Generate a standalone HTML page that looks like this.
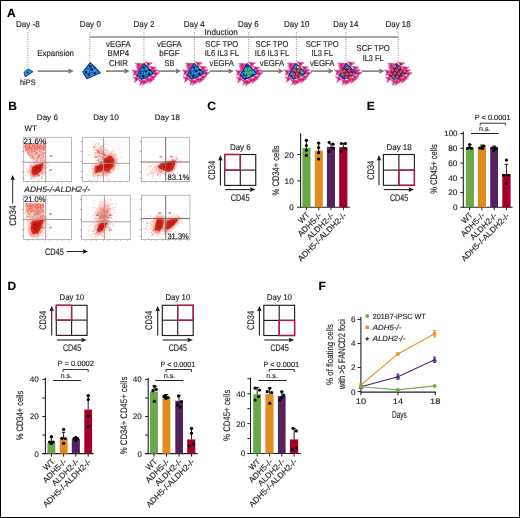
<!DOCTYPE html>
<html><head><meta charset="utf-8"><style>
html,body{margin:0;padding:0;background:#fff;}
#f{position:relative;width:520px;height:518px;box-sizing:border-box;border:1px solid #000;background:#fff;overflow:hidden;}
svg{position:absolute;left:-1px;top:-1px;will-change:transform;}
text{font-family:"Liberation Sans",sans-serif;stroke-width:0.15px;text-rendering:geometricPrecision;}
</style></head><body><div id="f">
<svg width="520" height="518" viewBox="0 0 520 518">
<text x="7.00" y="16.80" font-size="12" font-weight="bold" fill="#000" stroke="#000">A</text>
<text x="16.00" y="26.90" font-size="8.5" textLength="23.60" lengthAdjust="spacingAndGlyphs" fill="#231f20" stroke="#231f20">Day -8</text>
<text x="79.80" y="26.90" font-size="8.5" textLength="21.10" lengthAdjust="spacingAndGlyphs" fill="#231f20" stroke="#231f20">Day 0</text>
<text x="133.40" y="26.90" font-size="8.5" textLength="21.00" lengthAdjust="spacingAndGlyphs" fill="#231f20" stroke="#231f20">Day 2</text>
<text x="183.70" y="26.90" font-size="8.5" textLength="20.90" lengthAdjust="spacingAndGlyphs" fill="#231f20" stroke="#231f20">Day 4</text>
<text x="238.00" y="26.90" font-size="8.5" textLength="20.70" lengthAdjust="spacingAndGlyphs" fill="#231f20" stroke="#231f20">Day 6</text>
<text x="283.90" y="26.90" font-size="8.5" textLength="25.50" lengthAdjust="spacingAndGlyphs" fill="#231f20" stroke="#231f20">Day 10</text>
<text x="333.30" y="26.90" font-size="8.5" textLength="25.00" lengthAdjust="spacingAndGlyphs" fill="#231f20" stroke="#231f20">Day 14</text>
<text x="385.50" y="26.90" font-size="8.5" textLength="25.20" lengthAdjust="spacingAndGlyphs" fill="#231f20" stroke="#231f20">Day 18</text>
<line x1="27.80" y1="32.00" x2="27.80" y2="68.00" stroke="#888888" stroke-width="0.9" stroke-dasharray="1 1.3"/>
<line x1="89.80" y1="32.00" x2="89.80" y2="62.00" stroke="#888888" stroke-width="0.9" stroke-dasharray="1 1.3"/>
<line x1="143.90" y1="32.00" x2="143.90" y2="62.00" stroke="#888888" stroke-width="0.9" stroke-dasharray="1 1.3"/>
<line x1="194.50" y1="32.00" x2="194.50" y2="62.00" stroke="#888888" stroke-width="0.9" stroke-dasharray="1 1.3"/>
<line x1="248.60" y1="32.00" x2="248.60" y2="62.00" stroke="#888888" stroke-width="0.9" stroke-dasharray="1 1.3"/>
<line x1="296.40" y1="32.00" x2="296.40" y2="62.00" stroke="#888888" stroke-width="0.9" stroke-dasharray="1 1.3"/>
<line x1="345.90" y1="32.00" x2="345.90" y2="62.00" stroke="#888888" stroke-width="0.9" stroke-dasharray="1 1.3"/>
<line x1="398.20" y1="32.00" x2="398.20" y2="62.00" stroke="#888888" stroke-width="0.9" stroke-dasharray="1 1.3"/>
<line x1="89.80" y1="37.00" x2="398.40" y2="37.00" stroke="#8a8a8a" stroke-width="1.3"/>
<text x="204.60" y="35.00" font-size="8.5" textLength="33.20" lengthAdjust="spacingAndGlyphs" fill="#231f20" stroke="#231f20">Induction</text>
<text x="118.40" y="46.50" font-size="8.5" text-anchor="middle" textLength="24.80" lengthAdjust="spacingAndGlyphs" fill="#231f20" stroke="#231f20">vEGFA</text>
<text x="118.40" y="56.10" font-size="8.5" text-anchor="middle" textLength="21.60" lengthAdjust="spacingAndGlyphs" fill="#231f20" stroke="#231f20">BMP4</text>
<text x="118.40" y="65.70" font-size="8.5" text-anchor="middle" textLength="19.00" lengthAdjust="spacingAndGlyphs" fill="#231f20" stroke="#231f20">CHIR</text>
<text x="169.40" y="46.50" font-size="8.5" text-anchor="middle" textLength="24.60" lengthAdjust="spacingAndGlyphs" fill="#231f20" stroke="#231f20">vEGFA</text>
<text x="169.40" y="56.10" font-size="8.5" text-anchor="middle" textLength="20.20" lengthAdjust="spacingAndGlyphs" fill="#231f20" stroke="#231f20">bFGF</text>
<text x="169.40" y="65.70" font-size="8.5" text-anchor="middle" textLength="9.80" lengthAdjust="spacingAndGlyphs" fill="#231f20" stroke="#231f20">SB</text>
<text x="221.80" y="46.50" font-size="8.5" text-anchor="middle" textLength="32.90" lengthAdjust="spacingAndGlyphs" fill="#231f20" stroke="#231f20">SCF TPO</text>
<text x="221.80" y="56.10" font-size="8.5" text-anchor="middle" textLength="34.30" lengthAdjust="spacingAndGlyphs" fill="#231f20" stroke="#231f20">IL6 IL3 FL</text>
<text x="221.80" y="65.70" font-size="8.5" text-anchor="middle" textLength="24.40" lengthAdjust="spacingAndGlyphs" fill="#231f20" stroke="#231f20">vEGFA</text>
<text x="272.00" y="46.50" font-size="8.5" text-anchor="middle" textLength="32.90" lengthAdjust="spacingAndGlyphs" fill="#231f20" stroke="#231f20">SCF TPO</text>
<text x="272.00" y="56.10" font-size="8.5" text-anchor="middle" textLength="34.30" lengthAdjust="spacingAndGlyphs" fill="#231f20" stroke="#231f20">IL6 IL3 FL</text>
<text x="272.00" y="65.70" font-size="8.5" text-anchor="middle" textLength="24.40" lengthAdjust="spacingAndGlyphs" fill="#231f20" stroke="#231f20">vEGFA</text>
<text x="322.20" y="46.50" font-size="8.5" text-anchor="middle" textLength="32.90" lengthAdjust="spacingAndGlyphs" fill="#231f20" stroke="#231f20">SCF TPO</text>
<text x="322.20" y="56.10" font-size="8.5" text-anchor="middle" textLength="21.60" lengthAdjust="spacingAndGlyphs" fill="#231f20" stroke="#231f20">IL3 FL</text>
<text x="322.20" y="65.70" font-size="8.5" text-anchor="middle" textLength="24.40" lengthAdjust="spacingAndGlyphs" fill="#231f20" stroke="#231f20">vEGFA</text>
<text x="373.20" y="51.30" font-size="8.5" text-anchor="middle" textLength="33.30" lengthAdjust="spacingAndGlyphs" fill="#231f20" stroke="#231f20">SCF TPO</text>
<text x="373.20" y="60.90" font-size="8.5" text-anchor="middle" textLength="21.00" lengthAdjust="spacingAndGlyphs" fill="#231f20" stroke="#231f20">IL3 FL</text>
<text x="37.20" y="56.30" font-size="8.5" textLength="36.80" lengthAdjust="spacingAndGlyphs" fill="#231f20" stroke="#231f20">Expansion</text>
<text x="20.00" y="85.20" font-size="8" textLength="15.60" lengthAdjust="spacingAndGlyphs" fill="#231f20" stroke="#231f20">hiPS</text>
<line x1="37.50" y1="71.10" x2="68.75" y2="71.10" stroke="#747474" stroke-width="1.5"/>
<path d="M73.75,71.10 L68.25,68.50 L68.75,71.10 L68.25,73.70 Z" fill="#747474"/>
<line x1="106.00" y1="71.10" x2="124.70" y2="71.10" stroke="#747474" stroke-width="1.5"/>
<path d="M129.70,71.10 L124.20,68.50 L124.70,71.10 L124.20,73.70 Z" fill="#747474"/>
<line x1="157.80" y1="71.10" x2="176.20" y2="71.10" stroke="#747474" stroke-width="1.5"/>
<path d="M181.20,71.10 L175.70,68.50 L176.20,71.10 L175.70,73.70 Z" fill="#747474"/>
<line x1="209.60" y1="71.10" x2="228.90" y2="71.10" stroke="#747474" stroke-width="1.5"/>
<path d="M233.90,71.10 L228.40,68.50 L228.90,71.10 L228.40,73.70 Z" fill="#747474"/>
<line x1="260.50" y1="71.10" x2="278.80" y2="71.10" stroke="#747474" stroke-width="1.5"/>
<path d="M283.80,71.10 L278.30,68.50 L278.80,71.10 L278.30,73.70 Z" fill="#747474"/>
<line x1="310.50" y1="71.10" x2="328.80" y2="71.10" stroke="#747474" stroke-width="1.5"/>
<path d="M333.80,71.10 L328.30,68.50 L328.80,71.10 L328.30,73.70 Z" fill="#747474"/>
<line x1="361.70" y1="71.10" x2="379.50" y2="71.10" stroke="#747474" stroke-width="1.5"/>
<path d="M384.50,71.10 L379.00,68.50 L379.50,71.10 L379.00,73.70 Z" fill="#747474"/>
<path d="M28,68.9 L33,71.7 L25.2,76.8 L24,72.4 Z" fill="#1aa2dc" stroke="#1c2488" stroke-width="0.9" stroke-linejoin="round"/>
<circle cx="27.60" cy="72.40" r="0.9" fill="#06062a"/>
<path d="M90.30,62.60 L100.30,72.80 L93.30,75.80 L87.00,78.80 L82.90,72.20 Z" fill="#1aa2dc" stroke="#1c2488" stroke-width="1.1" stroke-linejoin="round"/>
<circle cx="89.90" cy="66.40" r="1.1" fill="#06062a"/>
<circle cx="92.20" cy="69.90" r="1.1" fill="#06062a"/>
<circle cx="86.10" cy="72.20" r="1.1" fill="#06062a"/>
<circle cx="89.00" cy="74.80" r="1.1" fill="#06062a"/>
<circle cx="94.80" cy="73.30" r="1.1" fill="#06062a"/>
<path d="M85.3,69.3 L96.3,67.8 M87.8,76.3 L92.3,64.8 M84.3,74.3 L97.3,71.8" stroke="#1c2488" stroke-width="0.8" fill="none"/>
<path d="M137.10,63.03 L144.83,64.03 L138.63,68.76 L139.50,65.45 Z" fill="#f0468c" stroke="#d8307a" stroke-width="0.4"/>
<circle cx="140.72" cy="65.02" r="1.007" fill="#8c1c8c"/>
<path d="M144.63,61.91 L152.36,62.91 L146.17,67.64 L147.04,64.34 Z" fill="#f0468c" stroke="#d8307a" stroke-width="0.4"/>
<circle cx="148.25" cy="63.90" r="1.007" fill="#8c1c8c"/>
<path d="M148.91,66.28 L156.64,67.28 L150.45,72.02 L151.32,68.71 Z" fill="#f0468c" stroke="#d8307a" stroke-width="0.4"/>
<circle cx="152.53" cy="68.27" r="1.007" fill="#8c1c8c"/>
<path d="M152.16,71.68 L159.89,72.68 L153.70,77.41 L154.57,74.10 Z" fill="#f0468c" stroke="#d8307a" stroke-width="0.4"/>
<circle cx="155.79" cy="73.67" r="1.007" fill="#8c1c8c"/>
<path d="M148.91,75.40 L156.64,76.40 L150.45,81.13 L151.32,77.82 Z" fill="#f0468c" stroke="#d8307a" stroke-width="0.4"/>
<circle cx="152.53" cy="77.39" r="1.007" fill="#8c1c8c"/>
<path d="M144.07,78.09 L151.80,79.09 L145.61,83.83 L146.48,80.52 Z" fill="#f0468c" stroke="#d8307a" stroke-width="0.4"/>
<circle cx="147.69" cy="80.08" r="1.007" fill="#8c1c8c"/>
<path d="M138.12,79.67 L145.85,80.68 L139.66,85.41 L140.53,82.10 Z" fill="#f0468c" stroke="#d8307a" stroke-width="0.4"/>
<circle cx="141.74" cy="81.66" r="1.007" fill="#8c1c8c"/>
<path d="M132.73,77.07 L140.46,78.07 L134.26,82.80 L135.13,79.50 Z" fill="#f0468c" stroke="#d8307a" stroke-width="0.4"/>
<circle cx="136.35" cy="79.06" r="1.007" fill="#8c1c8c"/>
<path d="M131.70,70.00 L139.43,71.00 L133.24,75.74 L134.11,72.43 Z" fill="#f0468c" stroke="#d8307a" stroke-width="0.4"/>
<circle cx="135.33" cy="71.99" r="1.007" fill="#8c1c8c"/>
<path d="M135.42,65.72 L143.15,66.73 L136.96,71.46 L137.83,68.15 Z" fill="#f0468c" stroke="#d8307a" stroke-width="0.4"/>
<circle cx="139.05" cy="67.71" r="1.007" fill="#8c1c8c"/>
<path d="M141.66,65.63 L149.39,66.63 L143.19,71.36 L144.06,68.06 Z" fill="#f0468c" stroke="#d8307a" stroke-width="0.4"/>
<circle cx="145.28" cy="67.62" r="1.007" fill="#8c1c8c"/>
<path d="M146.31,70.28 L154.04,71.28 L147.84,76.01 L148.71,72.71 Z" fill="#f0468c" stroke="#d8307a" stroke-width="0.4"/>
<circle cx="149.93" cy="72.27" r="1.007" fill="#8c1c8c"/>
<path d="M143.52,74.00 L151.25,75.00 L145.05,79.73 L145.92,76.43 Z" fill="#f0468c" stroke="#d8307a" stroke-width="0.4"/>
<circle cx="147.14" cy="75.99" r="1.007" fill="#8c1c8c"/>
<path d="M137.94,74.00 L145.67,75.00 L139.47,79.73 L140.34,76.43 Z" fill="#f0468c" stroke="#d8307a" stroke-width="0.4"/>
<circle cx="141.56" cy="75.99" r="1.007" fill="#8c1c8c"/>
<path d="M137.01,69.35 L144.74,70.35 L138.54,75.08 L139.41,71.78 Z" fill="#f0468c" stroke="#d8307a" stroke-width="0.4"/>
<circle cx="140.63" cy="71.34" r="1.007" fill="#8c1c8c"/>
<path d="M133.75,73.54 L141.48,74.54 L135.29,79.27 L136.16,75.96 Z" fill="#f0468c" stroke="#d8307a" stroke-width="0.4"/>
<circle cx="137.37" cy="75.53" r="1.007" fill="#8c1c8c"/>
<path d="M150.49,68.89 L158.22,69.89 L152.03,74.62 L152.90,71.31 Z" fill="#f0468c" stroke="#d8307a" stroke-width="0.4"/>
<circle cx="154.11" cy="70.88" r="1.007" fill="#8c1c8c"/>
<path d="M140.73,80.05 L148.46,81.05 L142.26,85.78 L143.13,82.47 Z" fill="#f0468c" stroke="#d8307a" stroke-width="0.4"/>
<circle cx="144.35" cy="82.03" r="1.007" fill="#8c1c8c"/>
<path d="M147.24,77.72 L154.97,78.72 L148.77,83.45 L149.64,80.15 Z" fill="#f0468c" stroke="#d8307a" stroke-width="0.4"/>
<circle cx="150.86" cy="79.71" r="1.007" fill="#8c1c8c"/>
<path d="M135.15,63.31 L142.88,64.31 L136.68,69.04 L137.55,65.73 Z" fill="#f0468c" stroke="#d8307a" stroke-width="0.4"/>
<circle cx="138.77" cy="65.30" r="1.007" fill="#8c1c8c"/>
<path d="M143.90,63.50 L153.70,73.60 L141.60,79.40 L137.20,74.80 Z" fill="#1aa2dc" stroke="#1c2488" stroke-width="1.1" stroke-linejoin="round"/>
<path d="M139.3,71.7 L150.3,69.7 M142.3,78.2 L145.3,65.2 M138.3,76.2 L151.8,74.2" stroke="#1c2488" stroke-width="0.8" fill="none"/>
<circle cx="143.50" cy="67.70" r="1.1" fill="#06062a"/>
<circle cx="146.10" cy="71.60" r="1.1" fill="#06062a"/>
<circle cx="140.50" cy="73.50" r="1.1" fill="#06062a"/>
<circle cx="143.30" cy="76.40" r="1.1" fill="#06062a"/>
<circle cx="149.10" cy="73.70" r="1.1" fill="#06062a"/>
<circle cx="149.50" cy="70.20" r="1.1" fill="#06062a"/>
<path d="M187.30,62.83 L195.03,63.83 L188.83,68.56 L189.70,65.25 Z" fill="#f0468c" stroke="#d8307a" stroke-width="0.4"/>
<circle cx="190.92" cy="64.82" r="1.007" fill="#8c1c8c"/>
<path d="M194.83,61.71 L202.56,62.71 L196.37,67.44 L197.24,64.14 Z" fill="#f0468c" stroke="#d8307a" stroke-width="0.4"/>
<circle cx="198.45" cy="63.70" r="1.007" fill="#8c1c8c"/>
<path d="M199.11,66.08 L206.84,67.08 L200.65,71.82 L201.52,68.51 Z" fill="#f0468c" stroke="#d8307a" stroke-width="0.4"/>
<circle cx="202.73" cy="68.07" r="1.007" fill="#8c1c8c"/>
<path d="M202.36,71.48 L210.09,72.48 L203.90,77.21 L204.77,73.90 Z" fill="#f0468c" stroke="#d8307a" stroke-width="0.4"/>
<circle cx="205.99" cy="73.47" r="1.007" fill="#8c1c8c"/>
<path d="M199.11,75.20 L206.84,76.20 L200.65,80.93 L201.52,77.62 Z" fill="#f0468c" stroke="#d8307a" stroke-width="0.4"/>
<circle cx="202.73" cy="77.19" r="1.007" fill="#8c1c8c"/>
<path d="M194.27,77.89 L202.00,78.89 L195.81,83.63 L196.68,80.32 Z" fill="#f0468c" stroke="#d8307a" stroke-width="0.4"/>
<circle cx="197.89" cy="79.88" r="1.007" fill="#8c1c8c"/>
<path d="M188.32,79.47 L196.05,80.48 L189.86,85.21 L190.73,81.90 Z" fill="#f0468c" stroke="#d8307a" stroke-width="0.4"/>
<circle cx="191.94" cy="81.46" r="1.007" fill="#8c1c8c"/>
<path d="M182.93,76.87 L190.66,77.87 L184.46,82.60 L185.33,79.30 Z" fill="#f0468c" stroke="#d8307a" stroke-width="0.4"/>
<circle cx="186.55" cy="78.86" r="1.007" fill="#8c1c8c"/>
<path d="M181.90,69.80 L189.63,70.80 L183.44,75.54 L184.31,72.23 Z" fill="#f0468c" stroke="#d8307a" stroke-width="0.4"/>
<circle cx="185.53" cy="71.79" r="1.007" fill="#8c1c8c"/>
<path d="M185.62,65.52 L193.35,66.53 L187.16,71.26 L188.03,67.95 Z" fill="#f0468c" stroke="#d8307a" stroke-width="0.4"/>
<circle cx="189.25" cy="67.51" r="1.007" fill="#8c1c8c"/>
<path d="M191.86,65.43 L199.59,66.43 L193.39,71.16 L194.26,67.86 Z" fill="#f0468c" stroke="#d8307a" stroke-width="0.4"/>
<circle cx="195.48" cy="67.42" r="1.007" fill="#8c1c8c"/>
<path d="M196.51,70.08 L204.24,71.08 L198.04,75.81 L198.91,72.51 Z" fill="#f0468c" stroke="#d8307a" stroke-width="0.4"/>
<circle cx="200.13" cy="72.07" r="1.007" fill="#8c1c8c"/>
<path d="M193.72,73.80 L201.45,74.80 L195.25,79.53 L196.12,76.23 Z" fill="#f0468c" stroke="#d8307a" stroke-width="0.4"/>
<circle cx="197.34" cy="75.79" r="1.007" fill="#8c1c8c"/>
<path d="M188.14,73.80 L195.87,74.80 L189.67,79.53 L190.54,76.23 Z" fill="#f0468c" stroke="#d8307a" stroke-width="0.4"/>
<circle cx="191.76" cy="75.79" r="1.007" fill="#8c1c8c"/>
<path d="M187.21,69.15 L194.94,70.15 L188.74,74.88 L189.61,71.58 Z" fill="#f0468c" stroke="#d8307a" stroke-width="0.4"/>
<circle cx="190.83" cy="71.14" r="1.007" fill="#8c1c8c"/>
<path d="M183.95,73.34 L191.68,74.34 L185.49,79.07 L186.36,75.76 Z" fill="#f0468c" stroke="#d8307a" stroke-width="0.4"/>
<circle cx="187.57" cy="75.33" r="1.007" fill="#8c1c8c"/>
<path d="M200.69,68.69 L208.42,69.69 L202.23,74.42 L203.10,71.11 Z" fill="#f0468c" stroke="#d8307a" stroke-width="0.4"/>
<circle cx="204.31" cy="70.67" r="1.007" fill="#8c1c8c"/>
<path d="M190.93,79.85 L198.66,80.85 L192.46,85.58 L193.33,82.27 Z" fill="#f0468c" stroke="#d8307a" stroke-width="0.4"/>
<circle cx="194.55" cy="81.84" r="1.007" fill="#8c1c8c"/>
<path d="M197.44,77.52 L205.17,78.52 L198.97,83.25 L199.84,79.95 Z" fill="#f0468c" stroke="#d8307a" stroke-width="0.4"/>
<circle cx="201.06" cy="79.51" r="1.007" fill="#8c1c8c"/>
<path d="M185.35,63.11 L193.08,64.11 L186.88,68.84 L187.75,65.53 Z" fill="#f0468c" stroke="#d8307a" stroke-width="0.4"/>
<circle cx="188.97" cy="65.09" r="1.007" fill="#8c1c8c"/>
<path d="M194.10,63.30 L203.90,73.40 L191.80,79.20 L187.40,74.60 Z" fill="#1aa2dc" stroke="#1c2488" stroke-width="1.1" stroke-linejoin="round"/>
<path d="M189.5,71.5 L200.5,69.5 M192.5,78.0 L195.5,65.0 M188.5,76.0 L202.0,74.0" stroke="#1c2488" stroke-width="0.8" fill="none"/>
<circle cx="193.70" cy="67.50" r="1.1" fill="#06062a"/>
<circle cx="196.30" cy="71.40" r="1.1" fill="#06062a"/>
<circle cx="190.70" cy="73.30" r="1.1" fill="#06062a"/>
<circle cx="193.50" cy="76.20" r="1.1" fill="#06062a"/>
<circle cx="199.30" cy="73.50" r="1.1" fill="#06062a"/>
<circle cx="199.70" cy="70.00" r="1.1" fill="#06062a"/>
<path d="M240.40,63.13 L248.13,64.13 L241.93,68.86 L242.80,65.55 Z" fill="#f0468c" stroke="#d8307a" stroke-width="0.4"/>
<circle cx="244.02" cy="65.12" r="1.007" fill="#8c1c8c"/>
<path d="M247.93,62.01 L255.66,63.01 L249.47,67.74 L250.34,64.44 Z" fill="#f0468c" stroke="#d8307a" stroke-width="0.4"/>
<circle cx="251.55" cy="64.00" r="1.007" fill="#8c1c8c"/>
<path d="M252.21,66.38 L259.94,67.38 L253.75,72.12 L254.62,68.81 Z" fill="#f0468c" stroke="#d8307a" stroke-width="0.4"/>
<circle cx="255.83" cy="68.37" r="1.007" fill="#8c1c8c"/>
<path d="M255.46,71.78 L263.19,72.78 L257.00,77.51 L257.87,74.20 Z" fill="#f0468c" stroke="#d8307a" stroke-width="0.4"/>
<circle cx="259.08" cy="73.77" r="1.007" fill="#8c1c8c"/>
<path d="M252.21,75.50 L259.94,76.50 L253.75,81.23 L254.62,77.92 Z" fill="#f0468c" stroke="#d8307a" stroke-width="0.4"/>
<circle cx="255.83" cy="77.48" r="1.007" fill="#8c1c8c"/>
<path d="M247.37,78.19 L255.10,79.19 L248.91,83.93 L249.78,80.62 Z" fill="#f0468c" stroke="#d8307a" stroke-width="0.4"/>
<circle cx="250.99" cy="80.18" r="1.007" fill="#8c1c8c"/>
<path d="M241.42,79.77 L249.15,80.78 L242.96,85.51 L243.83,82.20 Z" fill="#f0468c" stroke="#d8307a" stroke-width="0.4"/>
<circle cx="245.04" cy="81.76" r="1.007" fill="#8c1c8c"/>
<path d="M236.03,77.17 L243.76,78.17 L237.56,82.90 L238.43,79.60 Z" fill="#f0468c" stroke="#d8307a" stroke-width="0.4"/>
<circle cx="239.65" cy="79.16" r="1.007" fill="#8c1c8c"/>
<path d="M235.00,70.10 L242.73,71.10 L236.54,75.84 L237.41,72.53 Z" fill="#f0468c" stroke="#d8307a" stroke-width="0.4"/>
<circle cx="238.62" cy="72.09" r="1.007" fill="#8c1c8c"/>
<path d="M238.72,65.82 L246.45,66.83 L240.26,71.56 L241.13,68.25 Z" fill="#f0468c" stroke="#d8307a" stroke-width="0.4"/>
<circle cx="242.34" cy="67.81" r="1.007" fill="#8c1c8c"/>
<path d="M244.96,65.73 L252.69,66.73 L246.49,71.46 L247.36,68.16 Z" fill="#f0468c" stroke="#d8307a" stroke-width="0.4"/>
<circle cx="248.58" cy="67.72" r="1.007" fill="#8c1c8c"/>
<path d="M249.61,70.38 L257.34,71.38 L251.14,76.11 L252.01,72.81 Z" fill="#f0468c" stroke="#d8307a" stroke-width="0.4"/>
<circle cx="253.23" cy="72.37" r="1.007" fill="#8c1c8c"/>
<path d="M246.82,74.10 L254.55,75.10 L248.35,79.83 L249.22,76.53 Z" fill="#f0468c" stroke="#d8307a" stroke-width="0.4"/>
<circle cx="250.44" cy="76.09" r="1.007" fill="#8c1c8c"/>
<path d="M241.24,74.10 L248.97,75.10 L242.77,79.83 L243.64,76.53 Z" fill="#f0468c" stroke="#d8307a" stroke-width="0.4"/>
<circle cx="244.86" cy="76.09" r="1.007" fill="#8c1c8c"/>
<path d="M240.31,69.45 L248.04,70.45 L241.84,75.18 L242.71,71.88 Z" fill="#f0468c" stroke="#d8307a" stroke-width="0.4"/>
<circle cx="243.93" cy="71.44" r="1.007" fill="#8c1c8c"/>
<path d="M237.05,73.64 L244.78,74.64 L238.59,79.37 L239.46,76.06 Z" fill="#f0468c" stroke="#d8307a" stroke-width="0.4"/>
<circle cx="240.67" cy="75.62" r="1.007" fill="#8c1c8c"/>
<path d="M253.79,68.99 L261.52,69.99 L255.33,74.72 L256.20,71.41 Z" fill="#f0468c" stroke="#d8307a" stroke-width="0.4"/>
<circle cx="257.41" cy="70.97" r="1.007" fill="#8c1c8c"/>
<path d="M244.03,80.15 L251.76,81.15 L245.56,85.88 L246.43,82.57 Z" fill="#f0468c" stroke="#d8307a" stroke-width="0.4"/>
<circle cx="247.65" cy="82.13" r="1.007" fill="#8c1c8c"/>
<path d="M250.54,77.82 L258.27,78.82 L252.07,83.55 L252.94,80.25 Z" fill="#f0468c" stroke="#d8307a" stroke-width="0.4"/>
<circle cx="254.16" cy="79.81" r="1.007" fill="#8c1c8c"/>
<path d="M238.45,63.41 L246.18,64.41 L239.98,69.14 L240.85,65.83 Z" fill="#f0468c" stroke="#d8307a" stroke-width="0.4"/>
<circle cx="242.07" cy="65.39" r="1.007" fill="#8c1c8c"/>
<path d="M247.20,63.60 L257.00,73.70 L244.90,79.50 L240.50,74.90 Z" fill="#1aa2dc" stroke="#1c2488" stroke-width="1.1" stroke-linejoin="round"/>
<path d="M242.6,71.8 L253.6,69.8 M245.6,78.3 L248.6,65.3 M241.6,76.3 L255.1,74.3" stroke="#1c2488" stroke-width="0.8" fill="none"/>
<circle cx="248.80" cy="69.70" r="1.35" fill="#3cc02a"/>
<circle cx="246.90" cy="72.50" r="1.35" fill="#3cc02a"/>
<circle cx="250.60" cy="73.10" r="1.35" fill="#3cc02a"/>
<circle cx="248.90" cy="75.60" r="1.35" fill="#3cc02a"/>
<circle cx="246.00" cy="70.30" r="1.35" fill="#3cc02a"/>
<circle cx="243.60" cy="74.50" r="0.9" fill="#06062a"/>
<circle cx="253.10" cy="75.10" r="0.9" fill="#06062a"/>
<circle cx="246.10" cy="78.30" r="0.9" fill="#06062a"/>
<circle cx="247.10" cy="66.30" r="0.9" fill="#06062a"/>
<path d="M289.10,62.83 L296.83,63.83 L290.63,68.56 L291.50,65.25 Z" fill="#f0468c" stroke="#d8307a" stroke-width="0.4"/>
<circle cx="292.72" cy="64.82" r="1.007" fill="#8c1c8c"/>
<path d="M296.63,61.71 L304.36,62.71 L298.17,67.44 L299.04,64.14 Z" fill="#f0468c" stroke="#d8307a" stroke-width="0.4"/>
<circle cx="300.25" cy="63.70" r="1.007" fill="#8c1c8c"/>
<path d="M300.91,66.08 L308.64,67.08 L302.45,71.82 L303.32,68.51 Z" fill="#f0468c" stroke="#d8307a" stroke-width="0.4"/>
<circle cx="304.53" cy="68.07" r="1.007" fill="#8c1c8c"/>
<path d="M304.16,71.48 L311.89,72.48 L305.70,77.21 L306.57,73.90 Z" fill="#f0468c" stroke="#d8307a" stroke-width="0.4"/>
<circle cx="307.79" cy="73.47" r="1.007" fill="#8c1c8c"/>
<path d="M300.91,75.20 L308.64,76.20 L302.45,80.93 L303.32,77.62 Z" fill="#f0468c" stroke="#d8307a" stroke-width="0.4"/>
<circle cx="304.53" cy="77.19" r="1.007" fill="#8c1c8c"/>
<path d="M296.07,77.89 L303.80,78.89 L297.61,83.63 L298.48,80.32 Z" fill="#f0468c" stroke="#d8307a" stroke-width="0.4"/>
<circle cx="299.69" cy="79.88" r="1.007" fill="#8c1c8c"/>
<path d="M290.12,79.47 L297.85,80.48 L291.66,85.21 L292.53,81.90 Z" fill="#f0468c" stroke="#d8307a" stroke-width="0.4"/>
<circle cx="293.74" cy="81.46" r="1.007" fill="#8c1c8c"/>
<path d="M284.73,76.87 L292.46,77.87 L286.26,82.60 L287.13,79.30 Z" fill="#f0468c" stroke="#d8307a" stroke-width="0.4"/>
<circle cx="288.35" cy="78.86" r="1.007" fill="#8c1c8c"/>
<path d="M283.70,69.80 L291.43,70.80 L285.24,75.54 L286.11,72.23 Z" fill="#f0468c" stroke="#d8307a" stroke-width="0.4"/>
<circle cx="287.32" cy="71.79" r="1.007" fill="#8c1c8c"/>
<path d="M287.42,65.52 L295.15,66.53 L288.96,71.26 L289.83,67.95 Z" fill="#f0468c" stroke="#d8307a" stroke-width="0.4"/>
<circle cx="291.05" cy="67.51" r="1.007" fill="#8c1c8c"/>
<path d="M293.66,65.43 L301.39,66.43 L295.19,71.16 L296.06,67.86 Z" fill="#f0468c" stroke="#d8307a" stroke-width="0.4"/>
<circle cx="297.28" cy="67.42" r="1.007" fill="#8c1c8c"/>
<path d="M298.31,70.08 L306.04,71.08 L299.84,75.81 L300.71,72.51 Z" fill="#f0468c" stroke="#d8307a" stroke-width="0.4"/>
<circle cx="301.93" cy="72.07" r="1.007" fill="#8c1c8c"/>
<path d="M295.52,73.80 L303.25,74.80 L297.05,79.53 L297.92,76.23 Z" fill="#f0468c" stroke="#d8307a" stroke-width="0.4"/>
<circle cx="299.14" cy="75.79" r="1.007" fill="#8c1c8c"/>
<path d="M289.94,73.80 L297.67,74.80 L291.47,79.53 L292.34,76.23 Z" fill="#f0468c" stroke="#d8307a" stroke-width="0.4"/>
<circle cx="293.56" cy="75.79" r="1.007" fill="#8c1c8c"/>
<path d="M289.01,69.15 L296.74,70.15 L290.54,74.88 L291.41,71.58 Z" fill="#f0468c" stroke="#d8307a" stroke-width="0.4"/>
<circle cx="292.63" cy="71.14" r="1.007" fill="#8c1c8c"/>
<path d="M285.75,73.34 L293.48,74.34 L287.29,79.07 L288.16,75.76 Z" fill="#f0468c" stroke="#d8307a" stroke-width="0.4"/>
<circle cx="289.37" cy="75.33" r="1.007" fill="#8c1c8c"/>
<path d="M302.49,68.69 L310.22,69.69 L304.03,74.42 L304.90,71.11 Z" fill="#f0468c" stroke="#d8307a" stroke-width="0.4"/>
<circle cx="306.11" cy="70.67" r="1.007" fill="#8c1c8c"/>
<path d="M292.73,79.85 L300.46,80.85 L294.26,85.58 L295.13,82.27 Z" fill="#f0468c" stroke="#d8307a" stroke-width="0.4"/>
<circle cx="296.35" cy="81.84" r="1.007" fill="#8c1c8c"/>
<path d="M299.24,77.52 L306.97,78.52 L300.77,83.25 L301.64,79.95 Z" fill="#f0468c" stroke="#d8307a" stroke-width="0.4"/>
<circle cx="302.86" cy="79.51" r="1.007" fill="#8c1c8c"/>
<path d="M287.15,63.11 L294.88,64.11 L288.68,68.84 L289.55,65.53 Z" fill="#f0468c" stroke="#d8307a" stroke-width="0.4"/>
<circle cx="290.77" cy="65.09" r="1.007" fill="#8c1c8c"/>
<path d="M295.90,63.30 L305.70,73.40 L293.60,79.20 L289.20,74.60 Z" fill="#1aa2dc" stroke="#1c2488" stroke-width="1.1" stroke-linejoin="round"/>
<path d="M291.3,71.5 L302.3,69.5 M294.3,78.0 L297.3,65.0 M290.3,76.0 L303.8,74.0" stroke="#1c2488" stroke-width="0.8" fill="none"/>
<path d="M292.30,72.00 L296.30,67.00 L302.30,73.00 L297.30,77.50 L294.30,77.00 Z" fill="#5a1a9a"/>
<circle cx="294.80" cy="70.50" r="1.3" fill="#f2561a"/>
<circle cx="298.50" cy="70.80" r="1.3" fill="#f2561a"/>
<circle cx="293.80" cy="74.50" r="1.3" fill="#f2561a"/>
<circle cx="297.10" cy="73.80" r="1.3" fill="#f2561a"/>
<circle cx="300.10" cy="75.60" r="1.3" fill="#f2561a"/>
<circle cx="296.30" cy="76.80" r="1.3" fill="#f2561a"/>
<circle cx="298.80" cy="68.00" r="1.3" fill="#f2561a"/>
<circle cx="297.80" cy="67.00" r="1.0" fill="#f0e010"/>
<circle cx="301.80" cy="72.20" r="0.9" fill="#98d02a"/>
<path d="M339.60,62.83 L347.33,63.83 L341.13,68.56 L342.00,65.25 Z" fill="#f0468c" stroke="#d8307a" stroke-width="0.4"/>
<circle cx="343.22" cy="64.82" r="1.007" fill="#8c1c8c"/>
<path d="M347.13,61.71 L354.86,62.71 L348.67,67.44 L349.54,64.14 Z" fill="#f0468c" stroke="#d8307a" stroke-width="0.4"/>
<circle cx="350.75" cy="63.70" r="1.007" fill="#8c1c8c"/>
<path d="M351.41,66.08 L359.14,67.08 L352.95,71.82 L353.82,68.51 Z" fill="#f0468c" stroke="#d8307a" stroke-width="0.4"/>
<circle cx="355.03" cy="68.07" r="1.007" fill="#8c1c8c"/>
<path d="M354.66,71.48 L362.39,72.48 L356.20,77.21 L357.07,73.90 Z" fill="#f0468c" stroke="#d8307a" stroke-width="0.4"/>
<circle cx="358.29" cy="73.47" r="1.007" fill="#8c1c8c"/>
<path d="M351.41,75.20 L359.14,76.20 L352.95,80.93 L353.82,77.62 Z" fill="#f0468c" stroke="#d8307a" stroke-width="0.4"/>
<circle cx="355.03" cy="77.19" r="1.007" fill="#8c1c8c"/>
<path d="M346.57,77.89 L354.30,78.89 L348.11,83.63 L348.98,80.32 Z" fill="#f0468c" stroke="#d8307a" stroke-width="0.4"/>
<circle cx="350.19" cy="79.88" r="1.007" fill="#8c1c8c"/>
<path d="M340.62,79.47 L348.35,80.48 L342.16,85.21 L343.03,81.90 Z" fill="#f0468c" stroke="#d8307a" stroke-width="0.4"/>
<circle cx="344.24" cy="81.46" r="1.007" fill="#8c1c8c"/>
<path d="M335.23,76.87 L342.96,77.87 L336.76,82.60 L337.63,79.30 Z" fill="#f0468c" stroke="#d8307a" stroke-width="0.4"/>
<circle cx="338.85" cy="78.86" r="1.007" fill="#8c1c8c"/>
<path d="M334.20,69.80 L341.93,70.80 L335.74,75.54 L336.61,72.23 Z" fill="#f0468c" stroke="#d8307a" stroke-width="0.4"/>
<circle cx="337.82" cy="71.79" r="1.007" fill="#8c1c8c"/>
<path d="M337.92,65.52 L345.65,66.53 L339.46,71.26 L340.33,67.95 Z" fill="#f0468c" stroke="#d8307a" stroke-width="0.4"/>
<circle cx="341.55" cy="67.51" r="1.007" fill="#8c1c8c"/>
<path d="M344.16,65.43 L351.89,66.43 L345.69,71.16 L346.56,67.86 Z" fill="#f0468c" stroke="#d8307a" stroke-width="0.4"/>
<circle cx="347.78" cy="67.42" r="1.007" fill="#8c1c8c"/>
<path d="M348.81,70.08 L356.54,71.08 L350.34,75.81 L351.21,72.51 Z" fill="#f0468c" stroke="#d8307a" stroke-width="0.4"/>
<circle cx="352.43" cy="72.07" r="1.007" fill="#8c1c8c"/>
<path d="M346.02,73.80 L353.75,74.80 L347.55,79.53 L348.42,76.23 Z" fill="#f0468c" stroke="#d8307a" stroke-width="0.4"/>
<circle cx="349.64" cy="75.79" r="1.007" fill="#8c1c8c"/>
<path d="M340.44,73.80 L348.17,74.80 L341.97,79.53 L342.84,76.23 Z" fill="#f0468c" stroke="#d8307a" stroke-width="0.4"/>
<circle cx="344.06" cy="75.79" r="1.007" fill="#8c1c8c"/>
<path d="M339.51,69.15 L347.24,70.15 L341.04,74.88 L341.91,71.58 Z" fill="#f0468c" stroke="#d8307a" stroke-width="0.4"/>
<circle cx="343.13" cy="71.14" r="1.007" fill="#8c1c8c"/>
<path d="M336.25,73.34 L343.98,74.34 L337.79,79.07 L338.66,75.76 Z" fill="#f0468c" stroke="#d8307a" stroke-width="0.4"/>
<circle cx="339.87" cy="75.33" r="1.007" fill="#8c1c8c"/>
<path d="M352.99,68.69 L360.72,69.69 L354.53,74.42 L355.40,71.11 Z" fill="#f0468c" stroke="#d8307a" stroke-width="0.4"/>
<circle cx="356.61" cy="70.67" r="1.007" fill="#8c1c8c"/>
<path d="M343.23,79.85 L350.96,80.85 L344.76,85.58 L345.63,82.27 Z" fill="#f0468c" stroke="#d8307a" stroke-width="0.4"/>
<circle cx="346.85" cy="81.84" r="1.007" fill="#8c1c8c"/>
<path d="M349.74,77.52 L357.47,78.52 L351.27,83.25 L352.14,79.95 Z" fill="#f0468c" stroke="#d8307a" stroke-width="0.4"/>
<circle cx="353.36" cy="79.51" r="1.007" fill="#8c1c8c"/>
<path d="M337.65,63.11 L345.38,64.11 L339.18,68.84 L340.05,65.53 Z" fill="#f0468c" stroke="#d8307a" stroke-width="0.4"/>
<circle cx="341.27" cy="65.09" r="1.007" fill="#8c1c8c"/>
<path d="M346.40,63.30 L356.20,73.40 L344.10,79.20 L339.70,74.60 Z" fill="#1aa2dc" stroke="#1c2488" stroke-width="1.1" stroke-linejoin="round"/>
<path d="M341.8,71.5 L352.8,69.5 M344.8,78.0 L347.8,65.0 M340.8,76.0 L354.3,74.0" stroke="#1c2488" stroke-width="0.8" fill="none"/>
<path d="M340.80,73.00 L346.30,65.50 L354.80,73.00 L348.30,79.00 L343.80,78.00 Z" fill="#5e1890"/>
<circle cx="347.30" cy="67.50" r="1.3" fill="#f2561a"/>
<circle cx="344.30" cy="71.00" r="1.3" fill="#f2561a"/>
<circle cx="349.30" cy="70.50" r="1.3" fill="#f2561a"/>
<circle cx="343.30" cy="74.50" r="1.3" fill="#f2561a"/>
<circle cx="347.00" cy="74.00" r="1.3" fill="#f2561a"/>
<circle cx="350.80" cy="74.00" r="1.3" fill="#f2561a"/>
<circle cx="353.80" cy="74.20" r="1.3" fill="#f2561a"/>
<circle cx="346.30" cy="77.50" r="1.3" fill="#f2561a"/>
<circle cx="350.30" cy="77.20" r="1.3" fill="#f2561a"/>
<circle cx="341.80" cy="72.00" r="1.3" fill="#f2561a"/>
<circle cx="342.30" cy="75.00" r="0.9" fill="#20a8e0"/>
<path d="M389.60,63.03 L397.33,64.03 L391.13,68.76 L392.00,65.45 Z" fill="#f0468c" stroke="#d8307a" stroke-width="0.4"/>
<circle cx="393.22" cy="65.02" r="1.007" fill="#8c1c8c"/>
<path d="M397.13,61.91 L404.86,62.91 L398.67,67.64 L399.54,64.34 Z" fill="#f0468c" stroke="#d8307a" stroke-width="0.4"/>
<circle cx="400.75" cy="63.90" r="1.007" fill="#8c1c8c"/>
<path d="M401.41,66.28 L409.14,67.28 L402.95,72.02 L403.82,68.71 Z" fill="#f0468c" stroke="#d8307a" stroke-width="0.4"/>
<circle cx="405.03" cy="68.27" r="1.007" fill="#8c1c8c"/>
<path d="M404.66,71.68 L412.39,72.68 L406.20,77.41 L407.07,74.10 Z" fill="#f0468c" stroke="#d8307a" stroke-width="0.4"/>
<circle cx="408.29" cy="73.67" r="1.007" fill="#8c1c8c"/>
<path d="M401.41,75.40 L409.14,76.40 L402.95,81.13 L403.82,77.82 Z" fill="#f0468c" stroke="#d8307a" stroke-width="0.4"/>
<circle cx="405.03" cy="77.39" r="1.007" fill="#8c1c8c"/>
<path d="M396.57,78.09 L404.30,79.09 L398.11,83.83 L398.98,80.52 Z" fill="#f0468c" stroke="#d8307a" stroke-width="0.4"/>
<circle cx="400.19" cy="80.08" r="1.007" fill="#8c1c8c"/>
<path d="M390.62,79.67 L398.35,80.68 L392.16,85.41 L393.03,82.10 Z" fill="#f0468c" stroke="#d8307a" stroke-width="0.4"/>
<circle cx="394.24" cy="81.66" r="1.007" fill="#8c1c8c"/>
<path d="M385.23,77.07 L392.96,78.07 L386.76,82.80 L387.63,79.50 Z" fill="#f0468c" stroke="#d8307a" stroke-width="0.4"/>
<circle cx="388.85" cy="79.06" r="1.007" fill="#8c1c8c"/>
<path d="M384.20,70.00 L391.93,71.00 L385.74,75.74 L386.61,72.43 Z" fill="#f0468c" stroke="#d8307a" stroke-width="0.4"/>
<circle cx="387.82" cy="71.99" r="1.007" fill="#8c1c8c"/>
<path d="M387.92,65.72 L395.65,66.73 L389.46,71.46 L390.33,68.15 Z" fill="#f0468c" stroke="#d8307a" stroke-width="0.4"/>
<circle cx="391.55" cy="67.71" r="1.007" fill="#8c1c8c"/>
<path d="M394.16,65.63 L401.89,66.63 L395.69,71.36 L396.56,68.06 Z" fill="#f0468c" stroke="#d8307a" stroke-width="0.4"/>
<circle cx="397.78" cy="67.62" r="1.007" fill="#8c1c8c"/>
<path d="M398.81,70.28 L406.54,71.28 L400.34,76.01 L401.21,72.71 Z" fill="#f0468c" stroke="#d8307a" stroke-width="0.4"/>
<circle cx="402.43" cy="72.27" r="1.007" fill="#8c1c8c"/>
<path d="M396.02,74.00 L403.75,75.00 L397.55,79.73 L398.42,76.43 Z" fill="#f0468c" stroke="#d8307a" stroke-width="0.4"/>
<circle cx="399.64" cy="75.99" r="1.007" fill="#8c1c8c"/>
<path d="M390.44,74.00 L398.17,75.00 L391.97,79.73 L392.84,76.43 Z" fill="#f0468c" stroke="#d8307a" stroke-width="0.4"/>
<circle cx="394.06" cy="75.99" r="1.007" fill="#8c1c8c"/>
<path d="M389.51,69.35 L397.24,70.35 L391.04,75.08 L391.91,71.78 Z" fill="#f0468c" stroke="#d8307a" stroke-width="0.4"/>
<circle cx="393.13" cy="71.34" r="1.007" fill="#8c1c8c"/>
<path d="M386.25,73.54 L393.98,74.54 L387.79,79.27 L388.66,75.96 Z" fill="#f0468c" stroke="#d8307a" stroke-width="0.4"/>
<circle cx="389.87" cy="75.53" r="1.007" fill="#8c1c8c"/>
<path d="M402.99,68.89 L410.72,69.89 L404.53,74.62 L405.40,71.31 Z" fill="#f0468c" stroke="#d8307a" stroke-width="0.4"/>
<circle cx="406.61" cy="70.88" r="1.007" fill="#8c1c8c"/>
<path d="M393.23,80.05 L400.96,81.05 L394.76,85.78 L395.63,82.47 Z" fill="#f0468c" stroke="#d8307a" stroke-width="0.4"/>
<circle cx="396.85" cy="82.03" r="1.007" fill="#8c1c8c"/>
<path d="M399.74,77.72 L407.47,78.72 L401.27,83.45 L402.14,80.15 Z" fill="#f0468c" stroke="#d8307a" stroke-width="0.4"/>
<circle cx="403.36" cy="79.71" r="1.007" fill="#8c1c8c"/>
<path d="M387.65,63.31 L395.38,64.31 L389.18,69.04 L390.05,65.73 Z" fill="#f0468c" stroke="#d8307a" stroke-width="0.4"/>
<circle cx="391.27" cy="65.30" r="1.007" fill="#8c1c8c"/>
<path d="M396.40,63.50 L406.20,73.60 L394.10,79.40 L389.70,74.80 Z" fill="#1aa2dc" stroke="#1c2488" stroke-width="1.1" stroke-linejoin="round"/>
<path d="M391.8,71.7 L402.8,69.7 M394.8,78.2 L397.8,65.2 M390.8,76.2 L404.3,74.2" stroke="#1c2488" stroke-width="0.8" fill="none"/>
<path d="M389.80,73.70 L396.30,64.20 L406.30,73.20 L397.80,80.20 L393.30,79.70 Z" fill="#5a1a8a"/>
<circle cx="394.80" cy="66.70" r="1.2" fill="#f2561a"/>
<circle cx="398.80" cy="67.70" r="1.2" fill="#f2561a"/>
<circle cx="402.30" cy="69.00" r="1.2" fill="#f2561a"/>
<circle cx="392.80" cy="70.20" r="1.2" fill="#f2561a"/>
<circle cx="396.80" cy="70.20" r="1.2" fill="#f2561a"/>
<circle cx="400.80" cy="71.70" r="1.2" fill="#f2561a"/>
<circle cx="391.30" cy="74.20" r="1.2" fill="#f2561a"/>
<circle cx="394.80" cy="73.20" r="1.2" fill="#f2561a"/>
<circle cx="398.80" cy="73.70" r="1.2" fill="#f2561a"/>
<circle cx="403.30" cy="74.70" r="1.2" fill="#f2561a"/>
<circle cx="393.30" cy="76.70" r="1.2" fill="#f2561a"/>
<circle cx="397.30" cy="76.70" r="1.2" fill="#f2561a"/>
<circle cx="401.30" cy="77.70" r="1.2" fill="#f2561a"/>
<circle cx="396.80" cy="79.70" r="1.2" fill="#f2561a"/>
<circle cx="404.60" cy="71.20" r="1.2" fill="#f2561a"/>
<circle cx="394.80" cy="78.70" r="1.0" fill="#20a8e0"/>
<circle cx="395.30" cy="65.70" r="0.9" fill="#20a8e0"/>
<text x="8.30" y="110.20" font-size="12" font-weight="bold" fill="#000" stroke="#000">B</text>
<text x="36.80" y="119.80" font-size="8" textLength="21.10" lengthAdjust="spacingAndGlyphs" fill="#231f20" stroke="#231f20">Day 6</text>
<text x="93.20" y="119.80" font-size="8" textLength="25.70" lengthAdjust="spacingAndGlyphs" fill="#231f20" stroke="#231f20">Day 10</text>
<text x="154.80" y="119.80" font-size="8" textLength="25.10" lengthAdjust="spacingAndGlyphs" fill="#231f20" stroke="#231f20">Day 18</text>
<text x="24.40" y="131.30" font-size="8" textLength="12.40" lengthAdjust="spacingAndGlyphs" fill="#231f20" stroke="#231f20">WT</text>
<text x="24.30" y="191.80" font-size="8" font-style="italic" textLength="65.70" lengthAdjust="spacingAndGlyphs" fill="#231f20" stroke="#231f20">ADH5-/-ALDH2-/-</text>
<defs><filter id="blur1" x="-50%" y="-50%" width="200%" height="200%"><feGaussianBlur stdDeviation="0.7"/></filter><filter id="blur2" x="-50%" y="-50%" width="200%" height="200%"><feGaussianBlur stdDeviation="1.6"/></filter></defs>
<clipPath id="clip23_137"><rect x="23.7" y="137.3" width="47.89999999999999" height="44.29999999999998"/></clipPath>
<g clip-path="url(#clip23_137)">
<path d="M24.2,143.6 L44.9,143.6 L44.9,162.0 L32.7,162.0 L28.5,156.0 L24.2,150.0 Z" fill="#f3b0a0" fill-opacity="0.35" filter="url(#blur2)"/>
<path d="M24.5,143.8 L44.5,143.8 L44.5,150.0 L26.0,150.0 Z" fill="#e5604c" fill-opacity="0.4" filter="url(#blur2)"/>
<g fill="#e23a28" fill-opacity="0.45">
<path d="M33.8 152.9h0.7v0.7h-0.7zM40.6 145.3h0.7v0.7h-0.7zM27.5 143.9h0.7v0.7h-0.7zM25.4 147.1h0.7v0.7h-0.7zM30.7 147.8h0.7v0.7h-0.7zM44.0 159.2h0.7v0.7h-0.7zM40.3 148.6h0.7v0.7h-0.7zM39.9 145.8h0.7v0.7h-0.7zM26.3 144.7h0.7v0.7h-0.7zM27.9 153.9h0.7v0.7h-0.7zM26.6 151.3h0.7v0.7h-0.7zM28.6 148.4h0.7v0.7h-0.7zM31.0 149.1h0.7v0.7h-0.7zM29.2 154.7h0.7v0.7h-0.7zM36.1 159.5h0.7v0.7h-0.7zM41.1 148.2h0.7v0.7h-0.7zM39.5 160.9h0.7v0.7h-0.7zM32.9 145.5h0.7v0.7h-0.7zM44.1 148.0h0.7v0.7h-0.7zM36.5 149.0h0.7v0.7h-0.7zM39.1 144.9h0.7v0.7h-0.7zM28.4 143.9h0.7v0.7h-0.7zM33.4 144.7h0.7v0.7h-0.7zM31.8 154.1h0.7v0.7h-0.7zM27.1 144.2h0.7v0.7h-0.7zM34.2 157.0h0.7v0.7h-0.7zM44.9 145.0h0.7v0.7h-0.7zM33.3 159.0h0.7v0.7h-0.7zM39.7 144.1h0.7v0.7h-0.7zM34.2 147.8h0.7v0.7h-0.7zM29.5 143.8h0.7v0.7h-0.7zM38.2 147.3h0.7v0.7h-0.7zM42.9 155.7h0.7v0.7h-0.7zM42.7 149.6h0.7v0.7h-0.7zM36.3 149.4h0.7v0.7h-0.7zM38.9 161.1h0.7v0.7h-0.7zM27.7 151.9h0.7v0.7h-0.7zM28.6 151.2h0.7v0.7h-0.7zM44.5 151.9h0.7v0.7h-0.7zM24.6 146.1h0.7v0.7h-0.7z"/>
<path d="M29.1 146.2h0.7v0.7h-0.7zM37.2 151.8h0.7v0.7h-0.7zM38.4 147.3h0.7v0.7h-0.7zM27.9 143.8h0.7v0.7h-0.7zM39.0 146.9h0.7v0.7h-0.7zM36.9 157.5h0.7v0.7h-0.7zM40.6 160.3h0.7v0.7h-0.7zM43.5 156.9h0.7v0.7h-0.7zM37.7 147.4h0.7v0.7h-0.7zM41.9 150.0h0.7v0.7h-0.7zM34.3 144.1h0.7v0.7h-0.7zM27.1 146.3h0.7v0.7h-0.7zM26.0 147.7h0.7v0.7h-0.7zM44.2 153.2h0.7v0.7h-0.7zM28.4 153.5h0.7v0.7h-0.7zM36.7 144.1h0.7v0.7h-0.7zM29.8 152.3h0.7v0.7h-0.7zM34.1 149.4h0.7v0.7h-0.7zM37.0 160.6h0.7v0.7h-0.7zM40.3 144.0h0.7v0.7h-0.7zM28.9 156.2h0.7v0.7h-0.7zM31.6 155.0h0.7v0.7h-0.7zM39.3 145.9h0.7v0.7h-0.7zM29.4 147.2h0.7v0.7h-0.7zM33.2 150.5h0.7v0.7h-0.7zM35.2 146.5h0.7v0.7h-0.7zM41.0 160.2h0.7v0.7h-0.7zM42.6 146.1h0.7v0.7h-0.7zM39.2 148.4h0.7v0.7h-0.7zM26.8 151.0h0.7v0.7h-0.7zM24.6 147.3h0.7v0.7h-0.7zM43.1 161.4h0.7v0.7h-0.7zM38.4 147.1h0.7v0.7h-0.7zM26.4 144.3h0.7v0.7h-0.7zM34.9 154.1h0.7v0.7h-0.7zM28.0 147.4h0.7v0.7h-0.7zM44.7 160.7h0.7v0.7h-0.7zM33.8 157.7h0.7v0.7h-0.7zM33.9 153.1h0.7v0.7h-0.7zM36.6 143.8h0.7v0.7h-0.7z"/>
<path d="M41.7 146.9h0.7v0.7h-0.7zM39.5 151.1h0.7v0.7h-0.7zM27.6 153.0h0.7v0.7h-0.7zM42.0 155.2h0.7v0.7h-0.7zM32.6 156.9h0.7v0.7h-0.7zM31.3 152.2h0.7v0.7h-0.7zM38.0 149.8h0.7v0.7h-0.7zM36.0 153.4h0.7v0.7h-0.7zM40.0 161.6h0.7v0.7h-0.7zM36.9 157.2h0.7v0.7h-0.7zM32.5 144.5h0.7v0.7h-0.7zM32.0 145.4h0.7v0.7h-0.7zM42.9 153.7h0.7v0.7h-0.7zM37.4 158.5h0.7v0.7h-0.7zM36.6 157.6h0.7v0.7h-0.7zM43.5 146.5h0.7v0.7h-0.7zM27.7 152.7h0.7v0.7h-0.7zM32.9 153.3h0.7v0.7h-0.7zM31.8 148.9h0.7v0.7h-0.7zM35.8 148.8h0.7v0.7h-0.7zM30.3 143.9h0.7v0.7h-0.7zM25.1 146.5h0.7v0.7h-0.7zM43.8 145.0h0.7v0.7h-0.7zM41.1 154.7h0.7v0.7h-0.7zM37.1 152.0h0.7v0.7h-0.7zM33.6 148.4h0.7v0.7h-0.7zM29.1 145.7h0.7v0.7h-0.7zM40.4 155.1h0.7v0.7h-0.7zM43.2 159.8h0.7v0.7h-0.7zM25.5 148.6h0.7v0.7h-0.7zM37.1 145.5h0.7v0.7h-0.7zM25.7 145.2h0.7v0.7h-0.7zM35.6 155.2h0.7v0.7h-0.7zM34.1 147.5h0.7v0.7h-0.7zM39.6 159.0h0.7v0.7h-0.7zM37.1 157.7h0.7v0.7h-0.7zM43.3 151.5h0.7v0.7h-0.7zM25.8 145.1h0.7v0.7h-0.7zM34.2 156.2h0.7v0.7h-0.7zM40.3 145.0h0.7v0.7h-0.7z"/>
<path d="M37.9 145.1h0.7v0.7h-0.7zM39.2 156.4h0.7v0.7h-0.7zM27.2 150.2h0.7v0.7h-0.7zM31.8 145.8h0.7v0.7h-0.7zM30.5 149.4h0.7v0.7h-0.7zM43.5 160.1h0.7v0.7h-0.7zM31.7 150.3h0.7v0.7h-0.7zM32.4 150.7h0.7v0.7h-0.7zM41.5 154.0h0.7v0.7h-0.7zM39.9 159.8h0.7v0.7h-0.7zM37.7 158.4h0.7v0.7h-0.7zM35.5 158.1h0.7v0.7h-0.7zM42.8 145.2h0.7v0.7h-0.7zM37.6 148.1h0.7v0.7h-0.7zM38.1 152.7h0.7v0.7h-0.7zM32.9 151.3h0.7v0.7h-0.7zM27.7 147.4h0.7v0.7h-0.7zM25.4 149.3h0.7v0.7h-0.7zM37.6 157.9h0.7v0.7h-0.7zM36.3 160.3h0.7v0.7h-0.7zM26.4 147.0h0.7v0.7h-0.7zM28.8 147.0h0.7v0.7h-0.7zM43.1 149.9h0.7v0.7h-0.7zM44.0 152.5h0.7v0.7h-0.7zM40.8 150.7h0.7v0.7h-0.7zM37.8 148.0h0.7v0.7h-0.7zM39.0 154.8h0.7v0.7h-0.7zM27.4 149.5h0.7v0.7h-0.7zM44.8 148.5h0.7v0.7h-0.7zM41.7 158.7h0.7v0.7h-0.7zM29.8 156.8h0.7v0.7h-0.7zM36.3 159.4h0.7v0.7h-0.7zM28.5 153.6h0.7v0.7h-0.7zM30.6 149.3h0.7v0.7h-0.7zM31.6 156.2h0.7v0.7h-0.7zM41.4 155.6h0.7v0.7h-0.7zM32.0 156.7h0.7v0.7h-0.7zM35.9 152.0h0.7v0.7h-0.7zM44.7 158.3h0.7v0.7h-0.7zM37.0 148.9h0.7v0.7h-0.7z"/>
<path d="M35.4 149.1h0.7v0.7h-0.7zM32.3 155.9h0.7v0.7h-0.7zM35.9 156.9h0.7v0.7h-0.7zM41.3 145.3h0.7v0.7h-0.7zM38.9 146.9h0.7v0.7h-0.7zM41.5 154.5h0.7v0.7h-0.7zM28.9 146.5h0.7v0.7h-0.7zM32.6 144.9h0.7v0.7h-0.7zM31.1 151.2h0.7v0.7h-0.7zM24.6 149.7h0.7v0.7h-0.7zM37.7 145.6h0.7v0.7h-0.7zM36.9 146.5h0.7v0.7h-0.7zM42.9 153.7h0.7v0.7h-0.7zM34.6 146.2h0.7v0.7h-0.7zM37.2 147.2h0.7v0.7h-0.7zM31.7 152.1h0.7v0.7h-0.7zM35.4 153.9h0.7v0.7h-0.7zM28.0 153.7h0.7v0.7h-0.7zM43.6 155.7h0.7v0.7h-0.7zM38.1 157.2h0.7v0.7h-0.7zM36.5 158.4h0.7v0.7h-0.7zM28.3 152.2h0.7v0.7h-0.7zM32.2 154.1h0.7v0.7h-0.7zM35.0 148.5h0.7v0.7h-0.7zM31.1 155.4h0.7v0.7h-0.7zM36.6 152.2h0.7v0.7h-0.7zM35.1 153.3h0.7v0.7h-0.7zM42.9 149.5h0.7v0.7h-0.7zM36.6 157.4h0.7v0.7h-0.7zM36.5 144.9h0.7v0.7h-0.7zM33.5 152.8h0.7v0.7h-0.7zM35.1 148.0h0.7v0.7h-0.7zM32.4 147.9h0.7v0.7h-0.7zM35.9 160.2h0.7v0.7h-0.7zM40.6 145.9h0.7v0.7h-0.7zM43.9 143.6h0.7v0.7h-0.7zM30.4 149.6h0.7v0.7h-0.7zM31.6 154.4h0.7v0.7h-0.7zM44.4 152.3h0.7v0.7h-0.7zM42.8 147.2h0.7v0.7h-0.7z"/>
<path d="M31.5 152.3h0.7v0.7h-0.7zM42.4 161.9h0.7v0.7h-0.7zM25.2 145.6h0.7v0.7h-0.7zM42.2 156.7h0.7v0.7h-0.7zM25.8 147.7h0.7v0.7h-0.7zM38.9 147.2h0.7v0.7h-0.7zM36.4 147.8h0.7v0.7h-0.7zM43.4 155.9h0.7v0.7h-0.7zM33.3 153.3h0.7v0.7h-0.7zM30.1 148.2h0.7v0.7h-0.7zM26.0 148.8h0.7v0.7h-0.7zM29.3 148.7h0.7v0.7h-0.7zM44.6 144.2h0.7v0.7h-0.7zM34.5 146.9h0.7v0.7h-0.7zM37.6 150.2h0.7v0.7h-0.7zM40.4 153.1h0.7v0.7h-0.7zM43.9 146.8h0.7v0.7h-0.7zM40.5 158.2h0.7v0.7h-0.7zM34.3 147.7h0.7v0.7h-0.7zM34.5 144.3h0.7v0.7h-0.7zM27.9 146.4h0.7v0.7h-0.7zM34.5 151.6h0.7v0.7h-0.7zM29.1 146.3h0.7v0.7h-0.7zM25.1 149.4h0.7v0.7h-0.7zM35.1 148.5h0.7v0.7h-0.7zM27.8 148.3h0.7v0.7h-0.7zM25.5 151.2h0.7v0.7h-0.7zM40.0 161.7h0.7v0.7h-0.7zM33.6 157.3h0.7v0.7h-0.7zM27.1 150.8h0.7v0.7h-0.7zM33.0 145.0h0.7v0.7h-0.7zM29.0 148.3h0.7v0.7h-0.7zM36.8 144.3h0.7v0.7h-0.7zM37.7 144.7h0.7v0.7h-0.7zM42.5 152.1h0.7v0.7h-0.7zM28.7 150.0h0.7v0.7h-0.7zM35.6 146.6h0.7v0.7h-0.7zM28.6 152.2h0.7v0.7h-0.7zM42.1 147.4h0.7v0.7h-0.7zM31.7 148.7h0.7v0.7h-0.7z"/>
<path d="M28.0 148.4h0.7v0.7h-0.7zM43.3 156.8h0.7v0.7h-0.7zM43.0 144.0h0.7v0.7h-0.7zM32.2 145.1h0.7v0.7h-0.7zM25.3 150.8h0.7v0.7h-0.7zM25.0 146.4h0.7v0.7h-0.7zM24.9 149.3h0.7v0.7h-0.7zM35.5 146.1h0.7v0.7h-0.7zM27.2 147.4h0.7v0.7h-0.7zM39.0 151.1h0.7v0.7h-0.7zM42.1 147.8h0.7v0.7h-0.7zM31.3 147.6h0.7v0.7h-0.7zM29.1 155.2h0.7v0.7h-0.7zM33.1 150.8h0.7v0.7h-0.7zM32.1 149.6h0.7v0.7h-0.7zM30.0 146.5h0.7v0.7h-0.7zM34.0 146.7h0.7v0.7h-0.7zM29.2 145.3h0.7v0.7h-0.7zM32.9 146.4h0.7v0.7h-0.7zM31.7 144.8h0.7v0.7h-0.7zM36.3 152.2h0.7v0.7h-0.7zM29.4 144.0h0.7v0.7h-0.7zM42.7 154.0h0.7v0.7h-0.7zM38.0 147.0h0.7v0.7h-0.7zM37.2 155.0h0.7v0.7h-0.7zM25.0 146.1h0.7v0.7h-0.7zM27.3 147.1h0.7v0.7h-0.7zM38.3 147.9h0.7v0.7h-0.7zM35.5 150.8h0.7v0.7h-0.7zM44.3 149.7h0.7v0.7h-0.7zM42.5 149.4h0.7v0.7h-0.7zM41.3 146.5h0.7v0.7h-0.7zM34.4 154.0h0.7v0.7h-0.7zM29.1 148.2h0.7v0.7h-0.7zM27.9 153.1h0.7v0.7h-0.7zM25.5 144.9h0.7v0.7h-0.7zM38.8 145.7h0.7v0.7h-0.7zM40.2 152.4h0.7v0.7h-0.7zM42.1 159.6h0.7v0.7h-0.7zM32.3 156.8h0.7v0.7h-0.7z"/>
<path d="M39.0 149.6h0.7v0.7h-0.7zM26.8 150.5h0.7v0.7h-0.7zM29.0 147.0h0.7v0.7h-0.7zM32.9 155.2h0.7v0.7h-0.7zM43.5 161.8h0.7v0.7h-0.7zM39.0 145.8h0.7v0.7h-0.7zM26.7 149.7h0.7v0.7h-0.7zM35.4 152.5h0.7v0.7h-0.7zM30.1 150.8h0.7v0.7h-0.7zM27.2 146.8h0.7v0.7h-0.7zM43.5 148.2h0.7v0.7h-0.7zM26.7 149.6h0.7v0.7h-0.7zM35.9 146.2h0.7v0.7h-0.7zM29.9 147.8h0.7v0.7h-0.7zM31.8 148.4h0.7v0.7h-0.7zM30.6 145.0h0.7v0.7h-0.7zM34.2 161.9h0.7v0.7h-0.7zM42.2 152.5h0.7v0.7h-0.7zM40.9 150.9h0.7v0.7h-0.7zM41.5 156.9h0.7v0.7h-0.7zM24.8 146.7h0.7v0.7h-0.7zM30.6 153.1h0.7v0.7h-0.7zM40.1 161.7h0.7v0.7h-0.7zM28.9 150.7h0.7v0.7h-0.7zM37.8 158.5h0.7v0.7h-0.7zM37.4 150.1h0.7v0.7h-0.7zM42.9 149.5h0.7v0.7h-0.7zM31.1 157.2h0.7v0.7h-0.7zM27.9 145.5h0.7v0.7h-0.7zM31.5 151.5h0.7v0.7h-0.7zM34.6 151.0h0.7v0.7h-0.7zM35.3 161.1h0.7v0.7h-0.7zM42.4 149.5h0.7v0.7h-0.7zM33.1 161.3h0.7v0.7h-0.7zM32.7 156.6h0.7v0.7h-0.7zM30.9 147.0h0.7v0.7h-0.7zM44.7 146.3h0.7v0.7h-0.7zM32.0 155.4h0.7v0.7h-0.7zM37.2 152.9h0.7v0.7h-0.7zM32.9 150.7h0.7v0.7h-0.7z"/>
<path d="M36.6 154.1h0.7v0.7h-0.7zM43.5 146.4h0.7v0.7h-0.7zM44.8 157.2h0.7v0.7h-0.7zM38.9 148.2h0.7v0.7h-0.7zM28.3 148.7h0.7v0.7h-0.7zM40.5 152.6h0.7v0.7h-0.7zM27.3 150.3h0.7v0.7h-0.7zM41.5 145.8h0.7v0.7h-0.7zM39.3 147.2h0.7v0.7h-0.7zM33.1 143.9h0.7v0.7h-0.7zM30.7 155.2h0.7v0.7h-0.7zM36.7 156.4h0.7v0.7h-0.7zM33.9 146.0h0.7v0.7h-0.7zM43.7 154.8h0.7v0.7h-0.7zM38.5 157.1h0.7v0.7h-0.7zM30.6 151.1h0.7v0.7h-0.7zM32.7 152.0h0.7v0.7h-0.7zM43.7 150.0h0.7v0.7h-0.7zM29.1 154.3h0.7v0.7h-0.7zM33.5 144.8h0.7v0.7h-0.7zM29.3 151.2h0.7v0.7h-0.7zM42.7 148.2h0.7v0.7h-0.7zM36.4 153.6h0.7v0.7h-0.7zM42.8 145.2h0.7v0.7h-0.7zM43.9 144.0h0.7v0.7h-0.7zM33.9 150.3h0.7v0.7h-0.7zM38.7 162.0h0.7v0.7h-0.7zM33.8 151.0h0.7v0.7h-0.7zM28.5 150.4h0.7v0.7h-0.7zM32.4 157.2h0.7v0.7h-0.7zM37.1 157.3h0.7v0.7h-0.7zM26.7 152.2h0.7v0.7h-0.7zM24.7 150.1h0.7v0.7h-0.7zM35.2 145.6h0.7v0.7h-0.7zM30.4 152.9h0.7v0.7h-0.7zM36.0 146.0h0.7v0.7h-0.7zM34.8 149.0h0.7v0.7h-0.7zM29.3 151.2h0.7v0.7h-0.7zM28.7 151.9h0.7v0.7h-0.7zM33.7 159.3h0.7v0.7h-0.7z"/>
<path d="M35.1 151.1h0.7v0.7h-0.7zM24.4 146.4h0.7v0.7h-0.7zM39.4 156.7h0.7v0.7h-0.7zM35.2 144.1h0.7v0.7h-0.7zM37.5 159.2h0.7v0.7h-0.7zM32.8 145.0h0.7v0.7h-0.7zM30.4 157.2h0.7v0.7h-0.7zM31.8 151.5h0.7v0.7h-0.7zM31.6 151.5h0.7v0.7h-0.7zM35.5 151.0h0.7v0.7h-0.7zM26.3 150.4h0.7v0.7h-0.7zM34.2 147.8h0.7v0.7h-0.7zM34.3 143.8h0.7v0.7h-0.7zM44.2 143.7h0.7v0.7h-0.7zM44.1 150.3h0.7v0.7h-0.7zM31.8 149.1h0.7v0.7h-0.7zM36.4 149.4h0.7v0.7h-0.7zM34.9 157.5h0.7v0.7h-0.7zM26.1 148.2h0.7v0.7h-0.7zM32.5 148.9h0.7v0.7h-0.7zM41.4 149.6h0.7v0.7h-0.7zM39.8 154.3h0.7v0.7h-0.7zM39.5 151.3h0.7v0.7h-0.7zM44.6 160.5h0.7v0.7h-0.7zM32.0 151.8h0.7v0.7h-0.7zM26.6 149.5h0.7v0.7h-0.7zM25.7 145.7h0.7v0.7h-0.7zM38.0 153.7h0.7v0.7h-0.7zM35.8 160.6h0.7v0.7h-0.7zM34.0 144.2h0.7v0.7h-0.7zM34.4 156.3h0.7v0.7h-0.7zM40.3 145.5h0.7v0.7h-0.7zM27.6 154.4h0.7v0.7h-0.7zM31.4 146.6h0.7v0.7h-0.7zM36.4 153.2h0.7v0.7h-0.7zM36.1 159.1h0.7v0.7h-0.7zM31.0 156.4h0.7v0.7h-0.7zM29.5 144.8h0.7v0.7h-0.7zM32.0 156.8h0.7v0.7h-0.7zM43.0 152.0h0.7v0.7h-0.7z"/>
<path d="M36.0 153.7h0.7v0.7h-0.7zM40.0 158.4h0.7v0.7h-0.7zM40.4 147.6h0.7v0.7h-0.7zM35.3 154.8h0.7v0.7h-0.7zM43.3 156.3h0.7v0.7h-0.7zM43.9 156.8h0.7v0.7h-0.7zM42.0 157.0h0.7v0.7h-0.7zM29.4 144.0h0.7v0.7h-0.7zM29.4 149.0h0.7v0.7h-0.7zM26.9 152.5h0.7v0.7h-0.7zM30.1 148.7h0.7v0.7h-0.7zM42.3 146.5h0.7v0.7h-0.7zM43.2 157.9h0.7v0.7h-0.7zM31.7 158.1h0.7v0.7h-0.7zM43.7 152.9h0.7v0.7h-0.7zM37.8 144.9h0.7v0.7h-0.7zM25.6 144.1h0.7v0.7h-0.7zM40.4 153.2h0.7v0.7h-0.7zM35.1 147.0h0.7v0.7h-0.7zM31.5 152.8h0.7v0.7h-0.7zM38.8 151.3h0.7v0.7h-0.7zM27.0 149.1h0.7v0.7h-0.7zM43.6 144.0h0.7v0.7h-0.7zM36.9 160.8h0.7v0.7h-0.7zM34.9 161.3h0.7v0.7h-0.7zM44.0 144.0h0.7v0.7h-0.7zM24.2 144.8h0.7v0.7h-0.7zM31.1 150.0h0.7v0.7h-0.7zM40.1 148.4h0.7v0.7h-0.7zM35.1 149.8h0.7v0.7h-0.7zM27.8 146.4h0.7v0.7h-0.7zM34.1 158.0h0.7v0.7h-0.7zM29.1 155.6h0.7v0.7h-0.7zM28.0 147.9h0.7v0.7h-0.7zM40.6 153.5h0.7v0.7h-0.7zM40.0 148.1h0.7v0.7h-0.7zM32.2 146.1h0.7v0.7h-0.7zM32.1 148.9h0.7v0.7h-0.7zM32.1 144.8h0.7v0.7h-0.7zM43.5 146.2h0.7v0.7h-0.7z"/>
<path d="M43.8 147.1h0.7v0.7h-0.7zM43.8 151.9h0.7v0.7h-0.7zM25.7 147.0h0.7v0.7h-0.7zM25.2 149.2h0.7v0.7h-0.7zM26.7 153.3h0.7v0.7h-0.7zM43.8 145.1h0.7v0.7h-0.7zM25.8 149.3h0.7v0.7h-0.7zM43.3 152.9h0.7v0.7h-0.7zM31.0 154.1h0.7v0.7h-0.7zM44.4 144.0h0.7v0.7h-0.7zM32.5 144.6h0.7v0.7h-0.7zM28.6 144.0h0.7v0.7h-0.7zM33.8 147.0h0.7v0.7h-0.7zM30.5 144.4h0.7v0.7h-0.7zM37.0 150.4h0.7v0.7h-0.7zM37.1 149.4h0.7v0.7h-0.7zM42.5 154.3h0.7v0.7h-0.7zM35.4 152.1h0.7v0.7h-0.7zM41.9 159.8h0.7v0.7h-0.7zM29.1 154.3h0.7v0.7h-0.7zM43.8 148.8h0.7v0.7h-0.7zM38.4 150.0h0.7v0.7h-0.7zM32.0 143.6h0.7v0.7h-0.7zM33.8 145.3h0.7v0.7h-0.7zM30.0 151.7h0.7v0.7h-0.7zM34.6 151.4h0.7v0.7h-0.7zM43.8 152.6h0.7v0.7h-0.7zM34.6 149.9h0.7v0.7h-0.7zM41.0 158.3h0.7v0.7h-0.7zM41.1 149.2h0.7v0.7h-0.7zM43.2 144.0h0.7v0.7h-0.7zM42.2 149.3h0.7v0.7h-0.7zM37.1 145.9h0.7v0.7h-0.7zM34.4 150.7h0.7v0.7h-0.7zM24.7 146.6h0.7v0.7h-0.7zM38.6 153.1h0.7v0.7h-0.7zM29.8 147.0h0.7v0.7h-0.7zM43.4 160.4h0.7v0.7h-0.7zM40.2 149.7h0.7v0.7h-0.7zM35.0 152.6h0.7v0.7h-0.7z"/>
<path d="M42.1 153.5h0.7v0.7h-0.7zM39.6 148.2h0.7v0.7h-0.7zM36.2 148.0h0.7v0.7h-0.7zM25.6 144.6h0.7v0.7h-0.7zM32.8 151.1h0.7v0.7h-0.7zM34.0 161.2h0.7v0.7h-0.7zM42.9 148.2h0.7v0.7h-0.7zM44.8 153.3h0.7v0.7h-0.7zM40.1 144.6h0.7v0.7h-0.7zM35.6 148.6h0.7v0.7h-0.7zM37.6 156.6h0.7v0.7h-0.7zM33.2 145.6h0.7v0.7h-0.7zM44.0 159.9h0.7v0.7h-0.7zM25.7 148.6h0.7v0.7h-0.7zM33.3 146.0h0.7v0.7h-0.7zM36.1 157.3h0.7v0.7h-0.7zM26.9 144.6h0.7v0.7h-0.7zM24.5 144.9h0.7v0.7h-0.7zM41.8 152.6h0.7v0.7h-0.7zM26.7 149.2h0.7v0.7h-0.7zM42.1 153.0h0.7v0.7h-0.7zM32.5 159.9h0.7v0.7h-0.7zM40.6 156.6h0.7v0.7h-0.7zM31.8 151.6h0.7v0.7h-0.7zM30.7 155.1h0.7v0.7h-0.7zM40.5 151.0h0.7v0.7h-0.7zM39.5 149.1h0.7v0.7h-0.7zM33.2 155.6h0.7v0.7h-0.7zM31.3 156.7h0.7v0.7h-0.7zM32.8 157.7h0.7v0.7h-0.7zM36.9 147.7h0.7v0.7h-0.7zM39.7 154.3h0.7v0.7h-0.7zM38.8 153.9h0.7v0.7h-0.7zM44.6 146.1h0.7v0.7h-0.7zM29.9 154.0h0.7v0.7h-0.7zM34.5 146.7h0.7v0.7h-0.7zM42.7 155.8h0.7v0.7h-0.7zM40.9 151.3h0.7v0.7h-0.7zM36.7 152.1h0.7v0.7h-0.7zM31.5 157.6h0.7v0.7h-0.7z"/>
<path d="M41.3 150.6h0.7v0.7h-0.7zM31.6 153.5h0.7v0.7h-0.7zM32.0 155.7h0.7v0.7h-0.7zM43.5 148.2h0.7v0.7h-0.7zM26.6 145.2h0.7v0.7h-0.7zM39.5 148.5h0.7v0.7h-0.7zM38.6 144.1h0.7v0.7h-0.7zM42.0 147.5h0.7v0.7h-0.7zM28.7 152.3h0.7v0.7h-0.7zM36.8 161.8h0.7v0.7h-0.7zM28.8 155.0h0.7v0.7h-0.7zM44.2 149.9h0.7v0.7h-0.7zM38.2 146.8h0.7v0.7h-0.7zM42.3 147.8h0.7v0.7h-0.7zM35.4 154.3h0.7v0.7h-0.7zM36.6 159.5h0.7v0.7h-0.7zM26.3 144.0h0.7v0.7h-0.7zM27.9 148.6h0.7v0.7h-0.7zM38.6 149.5h0.7v0.7h-0.7zM30.2 153.9h0.7v0.7h-0.7zM31.7 148.2h0.7v0.7h-0.7zM29.6 143.9h0.7v0.7h-0.7zM36.5 148.5h0.7v0.7h-0.7zM41.7 152.2h0.7v0.7h-0.7zM38.5 152.8h0.7v0.7h-0.7zM32.3 152.9h0.7v0.7h-0.7zM42.7 147.7h0.7v0.7h-0.7zM30.4 144.2h0.7v0.7h-0.7zM37.0 148.9h0.7v0.7h-0.7zM35.5 153.1h0.7v0.7h-0.7zM24.5 146.3h0.7v0.7h-0.7zM37.4 145.6h0.7v0.7h-0.7zM36.5 154.3h0.7v0.7h-0.7zM28.7 151.8h0.7v0.7h-0.7zM24.6 147.6h0.7v0.7h-0.7zM28.6 144.9h0.7v0.7h-0.7zM35.8 145.5h0.7v0.7h-0.7zM39.2 157.6h0.7v0.7h-0.7zM27.1 147.3h0.7v0.7h-0.7zM43.6 144.4h0.7v0.7h-0.7z"/>
<path d="M32.1 158.8h0.7v0.7h-0.7zM39.0 147.0h0.7v0.7h-0.7zM44.2 148.0h0.7v0.7h-0.7zM43.2 156.0h0.7v0.7h-0.7zM28.1 148.0h0.7v0.7h-0.7zM38.1 155.2h0.7v0.7h-0.7zM39.0 152.7h0.7v0.7h-0.7zM34.4 150.7h0.7v0.7h-0.7zM31.9 149.7h0.7v0.7h-0.7zM36.5 160.4h0.7v0.7h-0.7zM35.9 148.0h0.7v0.7h-0.7zM39.2 145.0h0.7v0.7h-0.7zM24.9 147.1h0.7v0.7h-0.7zM40.0 156.9h0.7v0.7h-0.7zM41.3 146.3h0.7v0.7h-0.7zM25.0 144.1h0.7v0.7h-0.7zM32.1 145.2h0.7v0.7h-0.7zM25.0 145.7h0.7v0.7h-0.7zM28.2 145.7h0.7v0.7h-0.7zM37.5 146.7h0.7v0.7h-0.7zM35.3 150.5h0.7v0.7h-0.7zM36.0 152.9h0.7v0.7h-0.7zM34.0 144.3h0.7v0.7h-0.7zM28.2 149.8h0.7v0.7h-0.7zM42.6 154.4h0.7v0.7h-0.7zM35.4 160.9h0.7v0.7h-0.7zM32.1 156.6h0.7v0.7h-0.7zM38.8 160.3h0.7v0.7h-0.7zM30.1 149.0h0.7v0.7h-0.7zM27.2 151.0h0.7v0.7h-0.7zM30.0 149.5h0.7v0.7h-0.7zM44.6 148.4h0.7v0.7h-0.7zM38.6 147.1h0.7v0.7h-0.7zM28.3 153.8h0.7v0.7h-0.7zM24.2 143.6h0.7v0.7h-0.7zM37.4 144.8h0.7v0.7h-0.7zM30.8 150.9h0.7v0.7h-0.7zM44.2 147.3h0.7v0.7h-0.7zM27.6 144.3h0.7v0.7h-0.7zM25.4 145.4h0.7v0.7h-0.7z"/>
</g>
<g fill="#e23a28" fill-opacity="0.5">
<path d="M31.2 177.8h0.8v0.8h-0.8zM31.2 166.7h0.8v0.8h-0.8zM37.2 164.4h0.8v0.8h-0.8zM44.9 169.4h0.8v0.8h-0.8zM40.6 167.4h0.8v0.8h-0.8zM40.0 167.9h0.8v0.8h-0.8zM43.6 167.4h0.8v0.8h-0.8zM44.4 170.1h0.8v0.8h-0.8zM36.2 164.8h0.8v0.8h-0.8zM45.2 169.7h0.8v0.8h-0.8zM29.1 162.3h0.8v0.8h-0.8zM30.5 172.1h0.8v0.8h-0.8zM37.5 161.5h0.8v0.8h-0.8zM40.2 166.1h0.8v0.8h-0.8zM33.4 163.2h0.8v0.8h-0.8zM36.7 170.1h0.8v0.8h-0.8zM34.3 172.7h0.8v0.8h-0.8zM30.8 170.1h0.8v0.8h-0.8zM35.7 170.6h0.8v0.8h-0.8zM44.5 170.2h0.8v0.8h-0.8zM22.6 162.9h0.8v0.8h-0.8zM35.5 165.5h0.8v0.8h-0.8zM33.5 174.8h0.8v0.8h-0.8zM35.4 164.6h0.8v0.8h-0.8zM39.6 163.7h0.8v0.8h-0.8zM35.6 175.5h0.8v0.8h-0.8zM37.1 190.7h0.8v0.8h-0.8zM42.2 167.2h0.8v0.8h-0.8zM45.2 167.7h0.8v0.8h-0.8zM40.1 170.2h0.8v0.8h-0.8zM34.2 176.3h0.8v0.8h-0.8zM34.0 164.9h0.8v0.8h-0.8zM39.1 174.1h0.8v0.8h-0.8zM37.9 165.8h0.8v0.8h-0.8zM46.5 162.7h0.8v0.8h-0.8zM35.2 171.6h0.8v0.8h-0.8zM48.3 170.9h0.8v0.8h-0.8zM36.0 168.1h0.8v0.8h-0.8zM33.8 168.1h0.8v0.8h-0.8zM33.3 175.9h0.8v0.8h-0.8z"/>
<path d="M49.0 164.6h0.8v0.8h-0.8zM37.6 172.4h0.8v0.8h-0.8zM36.0 167.3h0.8v0.8h-0.8zM44.3 165.8h0.8v0.8h-0.8zM29.6 178.6h0.8v0.8h-0.8zM35.7 166.3h0.8v0.8h-0.8zM44.0 166.4h0.8v0.8h-0.8zM34.2 173.1h0.8v0.8h-0.8zM38.6 166.0h0.8v0.8h-0.8zM35.2 169.1h0.8v0.8h-0.8zM42.5 157.4h0.8v0.8h-0.8zM32.5 169.4h0.8v0.8h-0.8zM28.6 162.2h0.8v0.8h-0.8zM36.6 168.1h0.8v0.8h-0.8zM34.8 171.4h0.8v0.8h-0.8zM25.0 175.0h0.8v0.8h-0.8zM37.4 165.5h0.8v0.8h-0.8zM32.8 171.3h0.8v0.8h-0.8zM45.4 172.4h0.8v0.8h-0.8zM34.4 165.7h0.8v0.8h-0.8zM34.0 177.2h0.8v0.8h-0.8zM32.8 165.7h0.8v0.8h-0.8zM39.6 169.5h0.8v0.8h-0.8zM46.5 172.8h0.8v0.8h-0.8zM31.3 174.7h0.8v0.8h-0.8zM36.9 174.6h0.8v0.8h-0.8zM50.4 174.9h0.8v0.8h-0.8zM34.4 169.7h0.8v0.8h-0.8zM31.2 165.8h0.8v0.8h-0.8zM28.0 169.6h0.8v0.8h-0.8zM26.2 170.0h0.8v0.8h-0.8zM40.8 165.2h0.8v0.8h-0.8zM32.2 168.4h0.8v0.8h-0.8zM35.5 174.4h0.8v0.8h-0.8zM32.3 168.5h0.8v0.8h-0.8zM37.5 179.8h0.8v0.8h-0.8zM34.4 162.2h0.8v0.8h-0.8zM36.8 164.3h0.8v0.8h-0.8zM33.2 168.8h0.8v0.8h-0.8zM37.8 171.8h0.8v0.8h-0.8z"/>
<path d="M32.9 158.5h0.8v0.8h-0.8zM38.9 174.3h0.8v0.8h-0.8zM40.2 169.5h0.8v0.8h-0.8zM26.1 167.9h0.8v0.8h-0.8zM41.3 168.7h0.8v0.8h-0.8zM35.0 166.5h0.8v0.8h-0.8zM37.9 164.5h0.8v0.8h-0.8zM34.8 172.3h0.8v0.8h-0.8zM39.5 174.5h0.8v0.8h-0.8zM41.3 176.8h0.8v0.8h-0.8zM44.0 165.6h0.8v0.8h-0.8zM35.6 165.1h0.8v0.8h-0.8zM39.5 170.7h0.8v0.8h-0.8zM46.6 167.3h0.8v0.8h-0.8zM36.3 169.6h0.8v0.8h-0.8zM33.1 175.6h0.8v0.8h-0.8zM37.5 170.9h0.8v0.8h-0.8zM35.2 174.2h0.8v0.8h-0.8zM40.6 165.6h0.8v0.8h-0.8zM41.5 159.5h0.8v0.8h-0.8zM34.5 170.2h0.8v0.8h-0.8zM36.5 167.3h0.8v0.8h-0.8zM34.9 170.4h0.8v0.8h-0.8zM42.7 168.7h0.8v0.8h-0.8zM53.1 173.7h0.8v0.8h-0.8zM25.9 172.2h0.8v0.8h-0.8zM42.5 162.0h0.8v0.8h-0.8zM31.3 168.4h0.8v0.8h-0.8zM33.4 162.8h0.8v0.8h-0.8zM43.5 171.2h0.8v0.8h-0.8zM34.9 175.6h0.8v0.8h-0.8zM30.7 164.8h0.8v0.8h-0.8zM28.0 172.2h0.8v0.8h-0.8zM36.7 167.2h0.8v0.8h-0.8zM38.8 169.8h0.8v0.8h-0.8zM50.0 173.2h0.8v0.8h-0.8zM38.9 174.9h0.8v0.8h-0.8zM32.8 175.1h0.8v0.8h-0.8zM41.6 177.4h0.8v0.8h-0.8zM38.8 179.6h0.8v0.8h-0.8z"/>
<path d="M37.1 169.3h0.8v0.8h-0.8zM35.0 170.5h0.8v0.8h-0.8zM37.5 167.5h0.8v0.8h-0.8zM42.1 176.9h0.8v0.8h-0.8zM29.3 170.7h0.8v0.8h-0.8zM34.9 175.7h0.8v0.8h-0.8zM42.1 172.6h0.8v0.8h-0.8zM41.9 175.7h0.8v0.8h-0.8zM40.1 169.3h0.8v0.8h-0.8zM42.8 172.7h0.8v0.8h-0.8zM36.8 169.6h0.8v0.8h-0.8zM44.7 162.2h0.8v0.8h-0.8zM36.7 172.6h0.8v0.8h-0.8zM34.4 155.3h0.8v0.8h-0.8zM45.3 172.9h0.8v0.8h-0.8zM34.1 157.5h0.8v0.8h-0.8zM39.4 171.0h0.8v0.8h-0.8zM40.8 170.7h0.8v0.8h-0.8zM40.4 158.1h0.8v0.8h-0.8zM35.3 171.7h0.8v0.8h-0.8zM37.3 173.4h0.8v0.8h-0.8zM28.9 167.8h0.8v0.8h-0.8zM34.4 164.7h0.8v0.8h-0.8zM33.6 174.5h0.8v0.8h-0.8zM36.7 175.4h0.8v0.8h-0.8zM29.7 165.9h0.8v0.8h-0.8zM38.5 176.2h0.8v0.8h-0.8zM38.8 169.8h0.8v0.8h-0.8zM36.2 174.5h0.8v0.8h-0.8zM39.2 168.4h0.8v0.8h-0.8zM31.8 181.3h0.8v0.8h-0.8zM37.0 168.2h0.8v0.8h-0.8zM38.5 174.4h0.8v0.8h-0.8zM38.0 172.2h0.8v0.8h-0.8zM27.0 171.1h0.8v0.8h-0.8zM36.7 172.8h0.8v0.8h-0.8zM38.1 169.4h0.8v0.8h-0.8zM35.1 166.4h0.8v0.8h-0.8zM30.2 163.6h0.8v0.8h-0.8zM40.6 168.8h0.8v0.8h-0.8z"/>
</g>
<path d="M30.2,165.7 L42.8,161.4 L46.4,160.5 L43.5,170.2 L38.3,176.2 L30.9,177.6 L29.3,172.4 Z" fill="#e2412e" fill-opacity="0.5" filter="url(#blur2)"/>
<path d="M32.2,166.7 L41.2,163.6 L43.8,163.0 L41.7,169.9 L38.0,174.2 L32.7,175.2 L31.6,171.5 Z" fill="#d02014" fill-opacity="0.9" filter="url(#blur1)"/>
<path d="M34.5,167.8 L39.5,166.1 L40.9,165.8 L39.7,169.6 L37.7,171.9 L34.8,172.5 L34.2,170.4 Z" fill="#b40c08" fill-opacity="0.65" filter="url(#blur1)"/>
<g fill="#c8140c" fill-opacity="0.6">
<path d="M34.9 174.7h0.8v0.8h-0.8zM36.8 167.5h0.8v0.8h-0.8zM34.3 170.8h0.8v0.8h-0.8zM31.8 170.9h0.8v0.8h-0.8zM36.6 175.5h0.8v0.8h-0.8zM40.6 168.0h0.8v0.8h-0.8zM43.8 168.2h0.8v0.8h-0.8zM41.4 178.1h0.8v0.8h-0.8zM38.7 175.2h0.8v0.8h-0.8zM38.8 171.8h0.8v0.8h-0.8zM31.6 172.0h0.8v0.8h-0.8zM36.1 168.2h0.8v0.8h-0.8zM41.8 166.4h0.8v0.8h-0.8zM36.0 169.9h0.8v0.8h-0.8zM36.4 172.4h0.8v0.8h-0.8zM30.7 173.5h0.8v0.8h-0.8zM32.4 166.9h0.8v0.8h-0.8zM39.0 171.0h0.8v0.8h-0.8zM36.7 167.3h0.8v0.8h-0.8zM37.2 171.1h0.8v0.8h-0.8zM39.9 171.0h0.8v0.8h-0.8zM34.1 169.1h0.8v0.8h-0.8zM34.7 169.0h0.8v0.8h-0.8zM41.5 170.5h0.8v0.8h-0.8zM35.2 173.0h0.8v0.8h-0.8zM35.3 171.7h0.8v0.8h-0.8zM39.4 170.8h0.8v0.8h-0.8zM36.6 171.4h0.8v0.8h-0.8zM40.4 170.6h0.8v0.8h-0.8zM43.1 170.8h0.8v0.8h-0.8zM34.9 172.5h0.8v0.8h-0.8zM36.3 169.9h0.8v0.8h-0.8zM41.2 173.1h0.8v0.8h-0.8zM33.7 168.8h0.8v0.8h-0.8zM34.2 174.2h0.8v0.8h-0.8zM31.7 169.9h0.8v0.8h-0.8zM40.3 164.5h0.8v0.8h-0.8zM36.3 165.6h0.8v0.8h-0.8zM33.4 170.9h0.8v0.8h-0.8zM33.8 168.3h0.8v0.8h-0.8z"/>
<path d="M39.5 164.6h0.8v0.8h-0.8zM41.7 171.6h0.8v0.8h-0.8zM34.0 167.3h0.8v0.8h-0.8zM37.8 169.5h0.8v0.8h-0.8zM34.1 170.5h0.8v0.8h-0.8zM38.7 169.4h0.8v0.8h-0.8zM35.5 169.4h0.8v0.8h-0.8zM37.1 166.5h0.8v0.8h-0.8zM36.8 167.4h0.8v0.8h-0.8zM37.3 169.8h0.8v0.8h-0.8zM37.8 174.8h0.8v0.8h-0.8zM40.8 166.4h0.8v0.8h-0.8zM36.8 171.2h0.8v0.8h-0.8zM35.8 165.3h0.8v0.8h-0.8zM43.5 172.6h0.8v0.8h-0.8zM36.2 169.9h0.8v0.8h-0.8zM34.3 170.3h0.8v0.8h-0.8zM41.9 173.8h0.8v0.8h-0.8zM38.4 169.4h0.8v0.8h-0.8zM34.7 170.8h0.8v0.8h-0.8zM36.3 168.7h0.8v0.8h-0.8zM35.5 172.7h0.8v0.8h-0.8zM33.8 170.5h0.8v0.8h-0.8zM31.1 166.0h0.8v0.8h-0.8zM42.9 167.3h0.8v0.8h-0.8zM38.0 168.1h0.8v0.8h-0.8zM37.1 173.3h0.8v0.8h-0.8zM34.5 166.8h0.8v0.8h-0.8zM31.6 177.5h0.8v0.8h-0.8zM36.8 170.5h0.8v0.8h-0.8zM38.7 171.1h0.8v0.8h-0.8zM36.3 164.3h0.8v0.8h-0.8zM39.1 170.6h0.8v0.8h-0.8zM37.3 175.3h0.8v0.8h-0.8zM38.9 168.6h0.8v0.8h-0.8zM43.3 174.7h0.8v0.8h-0.8zM41.7 169.2h0.8v0.8h-0.8zM32.1 170.9h0.8v0.8h-0.8zM37.4 166.4h0.8v0.8h-0.8zM36.5 173.6h0.8v0.8h-0.8z"/>
</g>
</g>
<rect x="23.70" y="137.30" width="47.90" height="44.30" fill="none" stroke="#a8a8a8" stroke-width="0.8"/>
<line x1="45.70" y1="137.30" x2="45.70" y2="181.60" stroke="#999999" stroke-width="0.9"/>
<line x1="23.70" y1="162.30" x2="71.60" y2="162.30" stroke="#999999" stroke-width="0.9"/>
<line x1="22.10" y1="141.73" x2="23.70" y2="141.73" stroke="#666" stroke-width="0.6"/>
<line x1="22.10" y1="151.48" x2="23.70" y2="151.48" stroke="#666" stroke-width="0.6"/>
<line x1="22.10" y1="161.66" x2="23.70" y2="161.66" stroke="#666" stroke-width="0.6"/>
<line x1="22.10" y1="171.85" x2="23.70" y2="171.85" stroke="#666" stroke-width="0.6"/>
<line x1="22.10" y1="178.06" x2="23.70" y2="178.06" stroke="#666" stroke-width="0.6"/>
<line x1="27.53" y1="181.60" x2="27.53" y2="183.00" stroke="#888" stroke-width="0.5"/>
<line x1="33.28" y1="181.60" x2="33.28" y2="183.00" stroke="#888" stroke-width="0.5"/>
<line x1="38.07" y1="181.60" x2="38.07" y2="183.00" stroke="#888" stroke-width="0.5"/>
<line x1="45.25" y1="181.60" x2="45.25" y2="183.00" stroke="#888" stroke-width="0.5"/>
<line x1="50.05" y1="181.60" x2="50.05" y2="183.00" stroke="#888" stroke-width="0.5"/>
<line x1="57.23" y1="181.60" x2="57.23" y2="183.00" stroke="#888" stroke-width="0.5"/>
<line x1="62.02" y1="181.60" x2="62.02" y2="183.00" stroke="#888" stroke-width="0.5"/>
<line x1="69.20" y1="181.60" x2="69.20" y2="183.00" stroke="#888" stroke-width="0.5"/>
<rect x="37.7" y="155.2" width="2.6" height="1.6" fill="#555" fill-opacity="0.55"/>
<rect x="49.9" y="155.2" width="2.6" height="1.6" fill="#555" fill-opacity="0.55"/>
<rect x="37.7" y="169.2" width="2.6" height="1.6" fill="#555" fill-opacity="0.55"/>
<rect x="49.4" y="169.2" width="2.6" height="1.6" fill="#555" fill-opacity="0.55"/>
<text x="23.60" y="144.40" font-size="8" textLength="22.40" lengthAdjust="spacingAndGlyphs" fill="#111" stroke="#111">21.6%</text>
<clipPath id="clip82_137"><rect x="82.3" y="137.3" width="47.2" height="44.0"/></clipPath>
<g clip-path="url(#clip82_137)">
<g fill="#e23a28" fill-opacity="0.5">
<path d="M97.3 148.8h0.8v0.8h-0.8zM97.7 150.2h0.8v0.8h-0.8zM101.4 151.5h0.8v0.8h-0.8zM100.4 162.6h0.8v0.8h-0.8zM106.8 149.0h0.8v0.8h-0.8zM102.8 145.1h0.8v0.8h-0.8zM101.0 147.1h0.8v0.8h-0.8zM104.2 155.1h0.8v0.8h-0.8zM102.5 145.1h0.8v0.8h-0.8zM100.2 152.4h0.8v0.8h-0.8zM98.5 147.2h0.8v0.8h-0.8zM107.6 144.0h0.8v0.8h-0.8zM93.9 154.1h0.8v0.8h-0.8zM96.2 146.4h0.8v0.8h-0.8zM95.5 156.4h0.8v0.8h-0.8zM106.0 155.7h0.8v0.8h-0.8zM97.9 144.5h0.8v0.8h-0.8zM96.6 152.7h0.8v0.8h-0.8zM93.8 153.9h0.8v0.8h-0.8zM97.4 151.4h0.8v0.8h-0.8zM102.6 152.1h0.8v0.8h-0.8zM99.1 155.0h0.8v0.8h-0.8zM99.7 156.3h0.8v0.8h-0.8zM96.3 143.3h0.8v0.8h-0.8zM98.7 151.2h0.8v0.8h-0.8zM102.3 147.7h0.8v0.8h-0.8zM98.4 146.2h0.8v0.8h-0.8zM97.0 155.0h0.8v0.8h-0.8zM103.8 154.7h0.8v0.8h-0.8zM104.1 154.1h0.8v0.8h-0.8zM103.5 148.7h0.8v0.8h-0.8zM93.9 147.3h0.8v0.8h-0.8zM105.4 150.1h0.8v0.8h-0.8zM103.0 151.7h0.8v0.8h-0.8zM103.9 152.5h0.8v0.8h-0.8zM94.4 145.6h0.8v0.8h-0.8zM96.4 149.4h0.8v0.8h-0.8zM105.8 152.2h0.8v0.8h-0.8zM91.6 143.4h0.8v0.8h-0.8zM93.1 147.4h0.8v0.8h-0.8z"/>
<path d="M100.5 139.3h0.8v0.8h-0.8zM91.5 154.1h0.8v0.8h-0.8zM98.6 152.4h0.8v0.8h-0.8zM97.5 155.5h0.8v0.8h-0.8zM102.6 151.8h0.8v0.8h-0.8zM98.1 158.4h0.8v0.8h-0.8zM101.5 154.1h0.8v0.8h-0.8zM97.5 153.3h0.8v0.8h-0.8zM95.9 149.5h0.8v0.8h-0.8zM100.1 148.4h0.8v0.8h-0.8zM101.4 151.6h0.8v0.8h-0.8zM96.5 151.4h0.8v0.8h-0.8zM102.0 152.3h0.8v0.8h-0.8zM101.4 149.9h0.8v0.8h-0.8zM94.6 152.4h0.8v0.8h-0.8zM98.6 157.2h0.8v0.8h-0.8zM102.1 153.6h0.8v0.8h-0.8zM97.6 159.5h0.8v0.8h-0.8zM99.7 145.5h0.8v0.8h-0.8zM93.0 147.3h0.8v0.8h-0.8zM98.9 150.6h0.8v0.8h-0.8zM103.1 157.1h0.8v0.8h-0.8zM104.8 141.3h0.8v0.8h-0.8zM99.3 149.6h0.8v0.8h-0.8zM94.4 149.6h0.8v0.8h-0.8zM97.5 150.6h0.8v0.8h-0.8zM103.2 151.0h0.8v0.8h-0.8zM97.8 163.7h0.8v0.8h-0.8zM98.0 153.1h0.8v0.8h-0.8zM97.6 149.2h0.8v0.8h-0.8zM99.6 155.5h0.8v0.8h-0.8zM96.5 149.7h0.8v0.8h-0.8zM95.0 144.2h0.8v0.8h-0.8zM106.5 151.5h0.8v0.8h-0.8zM101.4 150.5h0.8v0.8h-0.8zM99.7 150.4h0.8v0.8h-0.8zM97.8 151.2h0.8v0.8h-0.8zM106.1 158.0h0.8v0.8h-0.8zM103.0 156.8h0.8v0.8h-0.8zM98.8 152.0h0.8v0.8h-0.8z"/>
<path d="M99.3 150.6h0.8v0.8h-0.8zM104.0 146.9h0.8v0.8h-0.8zM95.1 152.1h0.8v0.8h-0.8zM104.5 153.1h0.8v0.8h-0.8zM103.3 153.2h0.8v0.8h-0.8zM103.8 149.1h0.8v0.8h-0.8zM103.3 156.5h0.8v0.8h-0.8zM98.0 148.4h0.8v0.8h-0.8zM99.6 146.5h0.8v0.8h-0.8zM95.2 154.7h0.8v0.8h-0.8zM98.5 155.4h0.8v0.8h-0.8zM101.6 149.5h0.8v0.8h-0.8zM99.5 148.0h0.8v0.8h-0.8zM99.1 152.2h0.8v0.8h-0.8zM104.9 150.4h0.8v0.8h-0.8zM103.8 151.4h0.8v0.8h-0.8zM101.0 153.0h0.8v0.8h-0.8zM103.7 153.8h0.8v0.8h-0.8zM92.5 144.7h0.8v0.8h-0.8zM98.3 154.9h0.8v0.8h-0.8zM99.4 154.3h0.8v0.8h-0.8zM103.1 152.9h0.8v0.8h-0.8zM96.0 153.9h0.8v0.8h-0.8zM102.0 150.9h0.8v0.8h-0.8zM101.1 147.4h0.8v0.8h-0.8zM99.7 152.6h0.8v0.8h-0.8zM93.3 146.6h0.8v0.8h-0.8zM104.3 154.0h0.8v0.8h-0.8zM99.6 158.4h0.8v0.8h-0.8zM101.9 146.1h0.8v0.8h-0.8zM99.1 154.4h0.8v0.8h-0.8zM106.8 150.1h0.8v0.8h-0.8zM103.0 149.6h0.8v0.8h-0.8zM102.3 153.3h0.8v0.8h-0.8zM100.1 151.2h0.8v0.8h-0.8zM98.7 153.2h0.8v0.8h-0.8zM101.5 149.3h0.8v0.8h-0.8zM101.9 153.9h0.8v0.8h-0.8zM100.1 156.3h0.8v0.8h-0.8zM95.1 147.9h0.8v0.8h-0.8z"/>
<path d="M102.7 155.0h0.8v0.8h-0.8zM102.6 153.6h0.8v0.8h-0.8zM100.0 148.9h0.8v0.8h-0.8zM100.2 149.2h0.8v0.8h-0.8zM94.0 156.6h0.8v0.8h-0.8zM103.6 152.1h0.8v0.8h-0.8zM93.4 150.5h0.8v0.8h-0.8zM104.2 149.9h0.8v0.8h-0.8zM99.4 154.8h0.8v0.8h-0.8zM96.1 152.4h0.8v0.8h-0.8zM97.5 151.4h0.8v0.8h-0.8zM97.7 147.9h0.8v0.8h-0.8zM100.7 152.7h0.8v0.8h-0.8zM105.4 148.8h0.8v0.8h-0.8zM101.6 149.2h0.8v0.8h-0.8zM101.2 151.7h0.8v0.8h-0.8zM97.7 142.1h0.8v0.8h-0.8zM99.1 152.4h0.8v0.8h-0.8zM100.1 153.3h0.8v0.8h-0.8zM100.6 146.6h0.8v0.8h-0.8zM97.2 152.3h0.8v0.8h-0.8zM97.8 150.2h0.8v0.8h-0.8zM102.2 156.2h0.8v0.8h-0.8zM95.0 146.1h0.8v0.8h-0.8zM99.9 150.0h0.8v0.8h-0.8zM98.3 154.2h0.8v0.8h-0.8zM98.1 152.1h0.8v0.8h-0.8zM102.7 147.3h0.8v0.8h-0.8zM100.5 147.5h0.8v0.8h-0.8zM104.8 147.8h0.8v0.8h-0.8zM102.1 145.3h0.8v0.8h-0.8zM99.7 155.8h0.8v0.8h-0.8zM104.7 154.5h0.8v0.8h-0.8zM88.6 154.0h0.8v0.8h-0.8zM98.1 156.3h0.8v0.8h-0.8zM105.3 143.8h0.8v0.8h-0.8zM99.3 143.3h0.8v0.8h-0.8zM101.5 150.5h0.8v0.8h-0.8zM98.0 151.0h0.8v0.8h-0.8zM95.0 142.7h0.8v0.8h-0.8z"/>
<path d="M97.0 151.9h0.8v0.8h-0.8zM97.8 151.3h0.8v0.8h-0.8zM97.6 152.4h0.8v0.8h-0.8zM93.2 155.8h0.8v0.8h-0.8zM98.5 143.8h0.8v0.8h-0.8zM95.3 153.2h0.8v0.8h-0.8zM105.0 154.5h0.8v0.8h-0.8zM95.7 150.2h0.8v0.8h-0.8zM101.4 155.7h0.8v0.8h-0.8zM100.7 152.8h0.8v0.8h-0.8zM102.3 154.1h0.8v0.8h-0.8zM103.4 158.0h0.8v0.8h-0.8zM93.4 146.6h0.8v0.8h-0.8zM97.0 151.2h0.8v0.8h-0.8zM97.9 159.9h0.8v0.8h-0.8zM94.5 148.9h0.8v0.8h-0.8zM98.2 151.0h0.8v0.8h-0.8zM100.2 156.2h0.8v0.8h-0.8zM103.8 143.6h0.8v0.8h-0.8zM96.7 150.2h0.8v0.8h-0.8z"/>
</g>
<g fill="#e23a28" fill-opacity="0.45">
<path d="M112.8 161.3h0.8v0.8h-0.8zM96.5 181.3h0.8v0.8h-0.8zM107.4 167.8h0.8v0.8h-0.8zM105.6 164.9h0.8v0.8h-0.8zM101.7 154.3h0.8v0.8h-0.8zM105.1 166.1h0.8v0.8h-0.8zM98.7 168.0h0.8v0.8h-0.8zM88.7 168.4h0.8v0.8h-0.8zM101.0 162.7h0.8v0.8h-0.8zM98.2 167.2h0.8v0.8h-0.8zM101.6 162.5h0.8v0.8h-0.8zM106.4 156.1h0.8v0.8h-0.8zM106.3 159.9h0.8v0.8h-0.8zM110.4 157.9h0.8v0.8h-0.8zM108.7 172.4h0.8v0.8h-0.8zM104.5 168.9h0.8v0.8h-0.8zM113.4 160.6h0.8v0.8h-0.8zM105.8 167.8h0.8v0.8h-0.8zM102.6 163.2h0.8v0.8h-0.8zM101.3 162.5h0.8v0.8h-0.8zM100.9 181.2h0.8v0.8h-0.8zM103.6 154.3h0.8v0.8h-0.8zM111.7 158.4h0.8v0.8h-0.8zM109.9 157.1h0.8v0.8h-0.8zM97.7 168.1h0.8v0.8h-0.8zM101.4 174.6h0.8v0.8h-0.8zM109.2 171.9h0.8v0.8h-0.8zM106.2 155.5h0.8v0.8h-0.8zM105.1 166.8h0.8v0.8h-0.8zM102.4 173.0h0.8v0.8h-0.8zM104.7 158.0h0.8v0.8h-0.8zM95.1 172.3h0.8v0.8h-0.8zM93.5 171.2h0.8v0.8h-0.8zM95.1 170.2h0.8v0.8h-0.8zM106.1 167.9h0.8v0.8h-0.8zM94.9 179.2h0.8v0.8h-0.8zM107.9 160.8h0.8v0.8h-0.8zM95.5 169.2h0.8v0.8h-0.8zM100.9 169.8h0.8v0.8h-0.8zM103.2 163.7h0.8v0.8h-0.8z"/>
<path d="M107.5 168.8h0.8v0.8h-0.8zM107.4 167.7h0.8v0.8h-0.8zM112.6 163.0h0.8v0.8h-0.8zM112.6 167.9h0.8v0.8h-0.8zM94.2 168.3h0.8v0.8h-0.8zM96.2 173.7h0.8v0.8h-0.8zM105.9 172.1h0.8v0.8h-0.8zM100.1 164.6h0.8v0.8h-0.8zM98.5 161.2h0.8v0.8h-0.8zM111.6 158.0h0.8v0.8h-0.8zM92.2 172.2h0.8v0.8h-0.8zM105.9 171.1h0.8v0.8h-0.8zM97.3 176.5h0.8v0.8h-0.8zM101.0 164.0h0.8v0.8h-0.8zM117.8 148.6h0.8v0.8h-0.8zM84.2 183.3h0.8v0.8h-0.8zM97.2 166.8h0.8v0.8h-0.8zM105.3 165.6h0.8v0.8h-0.8zM92.7 169.2h0.8v0.8h-0.8zM91.9 167.8h0.8v0.8h-0.8zM97.0 176.5h0.8v0.8h-0.8zM94.1 168.2h0.8v0.8h-0.8zM93.8 171.4h0.8v0.8h-0.8zM101.0 167.4h0.8v0.8h-0.8zM94.7 163.8h0.8v0.8h-0.8zM93.5 183.1h0.8v0.8h-0.8zM100.6 169.4h0.8v0.8h-0.8zM98.0 170.5h0.8v0.8h-0.8zM116.9 168.2h0.8v0.8h-0.8zM113.3 168.4h0.8v0.8h-0.8zM111.3 167.5h0.8v0.8h-0.8zM106.6 163.7h0.8v0.8h-0.8zM104.1 165.3h0.8v0.8h-0.8zM116.2 153.6h0.8v0.8h-0.8zM97.3 174.9h0.8v0.8h-0.8zM101.0 169.6h0.8v0.8h-0.8zM102.9 173.0h0.8v0.8h-0.8zM104.8 162.8h0.8v0.8h-0.8zM96.3 170.5h0.8v0.8h-0.8zM91.7 172.2h0.8v0.8h-0.8z"/>
<path d="M97.8 167.5h0.8v0.8h-0.8zM110.6 157.7h0.8v0.8h-0.8zM107.4 172.1h0.8v0.8h-0.8zM104.5 164.0h0.8v0.8h-0.8zM96.5 165.7h0.8v0.8h-0.8zM105.2 169.1h0.8v0.8h-0.8zM108.5 169.9h0.8v0.8h-0.8zM98.9 174.8h0.8v0.8h-0.8zM107.8 172.7h0.8v0.8h-0.8zM94.3 176.3h0.8v0.8h-0.8zM103.1 161.8h0.8v0.8h-0.8zM111.0 158.8h0.8v0.8h-0.8zM103.9 170.8h0.8v0.8h-0.8zM98.8 162.9h0.8v0.8h-0.8zM99.6 164.6h0.8v0.8h-0.8zM104.9 160.9h0.8v0.8h-0.8zM105.7 158.9h0.8v0.8h-0.8zM100.2 174.7h0.8v0.8h-0.8zM95.7 171.7h0.8v0.8h-0.8zM86.9 173.9h0.8v0.8h-0.8zM102.3 164.2h0.8v0.8h-0.8zM105.0 165.0h0.8v0.8h-0.8zM116.8 159.5h0.8v0.8h-0.8zM104.6 167.2h0.8v0.8h-0.8zM110.9 167.7h0.8v0.8h-0.8zM104.1 164.7h0.8v0.8h-0.8zM105.0 166.2h0.8v0.8h-0.8zM110.0 163.0h0.8v0.8h-0.8zM88.4 180.1h0.8v0.8h-0.8zM91.2 165.4h0.8v0.8h-0.8zM88.5 170.5h0.8v0.8h-0.8zM99.6 165.0h0.8v0.8h-0.8zM102.0 173.5h0.8v0.8h-0.8zM119.8 163.1h0.8v0.8h-0.8zM100.2 169.7h0.8v0.8h-0.8zM93.3 175.7h0.8v0.8h-0.8zM107.5 172.5h0.8v0.8h-0.8zM109.3 164.5h0.8v0.8h-0.8zM110.7 168.3h0.8v0.8h-0.8zM100.0 164.6h0.8v0.8h-0.8z"/>
<path d="M96.6 163.4h0.8v0.8h-0.8zM92.5 152.0h0.8v0.8h-0.8zM104.0 186.9h0.8v0.8h-0.8zM98.1 173.3h0.8v0.8h-0.8zM106.5 166.6h0.8v0.8h-0.8zM100.9 165.9h0.8v0.8h-0.8zM106.8 164.3h0.8v0.8h-0.8zM99.5 168.5h0.8v0.8h-0.8zM109.1 173.9h0.8v0.8h-0.8zM101.4 169.5h0.8v0.8h-0.8zM85.1 160.8h0.8v0.8h-0.8zM96.5 166.8h0.8v0.8h-0.8zM93.4 172.2h0.8v0.8h-0.8zM104.4 155.0h0.8v0.8h-0.8zM110.3 173.2h0.8v0.8h-0.8zM107.7 165.2h0.8v0.8h-0.8zM100.0 169.2h0.8v0.8h-0.8zM98.3 168.6h0.8v0.8h-0.8zM108.8 159.3h0.8v0.8h-0.8zM102.1 151.7h0.8v0.8h-0.8zM95.8 176.5h0.8v0.8h-0.8zM98.0 171.4h0.8v0.8h-0.8zM114.0 165.0h0.8v0.8h-0.8zM109.7 156.0h0.8v0.8h-0.8zM104.9 173.3h0.8v0.8h-0.8zM103.0 172.5h0.8v0.8h-0.8zM103.7 165.4h0.8v0.8h-0.8zM97.2 172.7h0.8v0.8h-0.8zM114.6 166.4h0.8v0.8h-0.8zM107.5 170.4h0.8v0.8h-0.8zM108.9 171.6h0.8v0.8h-0.8zM97.8 175.8h0.8v0.8h-0.8zM97.2 177.4h0.8v0.8h-0.8zM100.7 167.7h0.8v0.8h-0.8zM99.5 170.1h0.8v0.8h-0.8zM107.8 179.5h0.8v0.8h-0.8zM94.8 175.2h0.8v0.8h-0.8zM112.9 166.9h0.8v0.8h-0.8zM108.9 165.3h0.8v0.8h-0.8zM105.5 165.9h0.8v0.8h-0.8z"/>
<path d="M112.2 148.9h0.8v0.8h-0.8zM103.8 167.1h0.8v0.8h-0.8zM97.9 160.6h0.8v0.8h-0.8zM115.7 159.6h0.8v0.8h-0.8zM109.1 163.8h0.8v0.8h-0.8zM99.9 157.3h0.8v0.8h-0.8zM108.9 170.4h0.8v0.8h-0.8zM102.0 158.4h0.8v0.8h-0.8zM99.8 168.8h0.8v0.8h-0.8zM108.5 164.1h0.8v0.8h-0.8zM95.1 172.0h0.8v0.8h-0.8zM96.8 174.6h0.8v0.8h-0.8zM93.9 170.4h0.8v0.8h-0.8zM97.6 178.7h0.8v0.8h-0.8zM90.2 174.7h0.8v0.8h-0.8zM114.9 155.7h0.8v0.8h-0.8zM99.9 158.5h0.8v0.8h-0.8zM98.8 168.6h0.8v0.8h-0.8zM114.3 163.7h0.8v0.8h-0.8zM109.0 171.7h0.8v0.8h-0.8zM94.5 170.9h0.8v0.8h-0.8zM101.0 170.8h0.8v0.8h-0.8zM106.0 174.8h0.8v0.8h-0.8zM106.0 160.2h0.8v0.8h-0.8zM104.9 172.4h0.8v0.8h-0.8zM98.3 175.1h0.8v0.8h-0.8zM98.4 158.5h0.8v0.8h-0.8zM102.3 156.7h0.8v0.8h-0.8zM109.9 159.7h0.8v0.8h-0.8zM97.3 175.1h0.8v0.8h-0.8zM105.6 177.1h0.8v0.8h-0.8zM99.4 174.4h0.8v0.8h-0.8zM97.8 170.4h0.8v0.8h-0.8zM109.1 162.1h0.8v0.8h-0.8zM90.4 180.0h0.8v0.8h-0.8zM118.4 165.7h0.8v0.8h-0.8zM113.6 155.8h0.8v0.8h-0.8zM104.5 167.0h0.8v0.8h-0.8zM104.8 163.5h0.8v0.8h-0.8zM107.6 179.1h0.8v0.8h-0.8z"/>
<path d="M92.9 163.5h0.8v0.8h-0.8zM104.0 162.1h0.8v0.8h-0.8zM101.2 168.2h0.8v0.8h-0.8zM101.7 173.8h0.8v0.8h-0.8zM103.4 161.1h0.8v0.8h-0.8zM100.6 165.4h0.8v0.8h-0.8zM105.1 167.5h0.8v0.8h-0.8zM94.6 169.2h0.8v0.8h-0.8zM98.9 163.0h0.8v0.8h-0.8zM110.9 155.8h0.8v0.8h-0.8zM89.7 171.9h0.8v0.8h-0.8zM108.8 167.3h0.8v0.8h-0.8zM94.6 170.8h0.8v0.8h-0.8zM111.4 156.8h0.8v0.8h-0.8zM120.6 157.1h0.8v0.8h-0.8zM100.4 170.0h0.8v0.8h-0.8zM99.7 159.5h0.8v0.8h-0.8zM105.2 157.8h0.8v0.8h-0.8zM107.7 170.9h0.8v0.8h-0.8zM99.1 171.5h0.8v0.8h-0.8zM100.0 167.4h0.8v0.8h-0.8zM105.7 168.2h0.8v0.8h-0.8zM112.1 160.7h0.8v0.8h-0.8zM99.9 162.1h0.8v0.8h-0.8zM108.1 156.9h0.8v0.8h-0.8zM98.8 165.4h0.8v0.8h-0.8zM106.6 159.9h0.8v0.8h-0.8zM104.4 161.2h0.8v0.8h-0.8zM111.3 156.7h0.8v0.8h-0.8zM113.5 168.5h0.8v0.8h-0.8zM110.3 166.6h0.8v0.8h-0.8zM102.2 172.0h0.8v0.8h-0.8zM103.3 169.9h0.8v0.8h-0.8zM102.7 168.9h0.8v0.8h-0.8zM102.5 160.9h0.8v0.8h-0.8zM98.8 163.0h0.8v0.8h-0.8zM115.3 154.2h0.8v0.8h-0.8zM94.2 161.0h0.8v0.8h-0.8zM111.9 150.8h0.8v0.8h-0.8zM99.4 174.8h0.8v0.8h-0.8z"/>
<path d="M110.7 163.2h0.8v0.8h-0.8zM104.3 174.6h0.8v0.8h-0.8zM114.5 157.7h0.8v0.8h-0.8zM111.4 163.2h0.8v0.8h-0.8zM92.9 176.6h0.8v0.8h-0.8zM100.2 166.2h0.8v0.8h-0.8zM99.5 165.2h0.8v0.8h-0.8zM96.9 167.0h0.8v0.8h-0.8zM109.4 159.3h0.8v0.8h-0.8zM106.3 170.2h0.8v0.8h-0.8zM108.6 160.4h0.8v0.8h-0.8zM108.7 170.9h0.8v0.8h-0.8zM89.6 163.1h0.8v0.8h-0.8zM110.3 163.8h0.8v0.8h-0.8zM98.7 162.2h0.8v0.8h-0.8zM95.7 162.9h0.8v0.8h-0.8zM106.3 165.4h0.8v0.8h-0.8zM109.0 167.3h0.8v0.8h-0.8zM108.7 167.4h0.8v0.8h-0.8zM105.6 165.7h0.8v0.8h-0.8zM92.9 173.5h0.8v0.8h-0.8zM106.8 166.3h0.8v0.8h-0.8zM102.2 164.6h0.8v0.8h-0.8zM111.7 166.0h0.8v0.8h-0.8zM106.8 175.7h0.8v0.8h-0.8zM96.4 172.1h0.8v0.8h-0.8zM103.6 167.6h0.8v0.8h-0.8zM103.5 160.0h0.8v0.8h-0.8zM103.9 163.1h0.8v0.8h-0.8zM98.9 174.0h0.8v0.8h-0.8zM106.5 166.2h0.8v0.8h-0.8zM114.0 150.9h0.8v0.8h-0.8zM111.7 159.6h0.8v0.8h-0.8zM98.3 161.1h0.8v0.8h-0.8zM100.6 169.5h0.8v0.8h-0.8zM96.9 165.9h0.8v0.8h-0.8zM102.3 165.5h0.8v0.8h-0.8zM104.8 168.7h0.8v0.8h-0.8zM100.5 160.7h0.8v0.8h-0.8zM107.6 175.2h0.8v0.8h-0.8z"/>
<path d="M98.6 169.8h0.8v0.8h-0.8zM103.8 166.4h0.8v0.8h-0.8zM105.9 165.1h0.8v0.8h-0.8zM114.5 153.7h0.8v0.8h-0.8zM87.7 175.0h0.8v0.8h-0.8zM93.7 172.0h0.8v0.8h-0.8zM111.5 164.4h0.8v0.8h-0.8zM96.9 167.3h0.8v0.8h-0.8zM98.1 165.5h0.8v0.8h-0.8zM99.6 165.6h0.8v0.8h-0.8zM97.8 171.7h0.8v0.8h-0.8zM101.8 167.5h0.8v0.8h-0.8zM110.1 172.3h0.8v0.8h-0.8zM111.0 167.2h0.8v0.8h-0.8zM112.2 158.7h0.8v0.8h-0.8zM96.9 159.7h0.8v0.8h-0.8zM109.3 160.2h0.8v0.8h-0.8zM99.5 177.1h0.8v0.8h-0.8zM111.4 161.0h0.8v0.8h-0.8zM107.4 172.2h0.8v0.8h-0.8zM95.7 158.8h0.8v0.8h-0.8zM94.4 173.6h0.8v0.8h-0.8zM114.4 162.3h0.8v0.8h-0.8zM109.6 157.1h0.8v0.8h-0.8zM96.9 172.4h0.8v0.8h-0.8zM101.9 170.1h0.8v0.8h-0.8zM113.5 170.1h0.8v0.8h-0.8zM102.2 167.3h0.8v0.8h-0.8zM90.9 168.0h0.8v0.8h-0.8zM99.9 165.7h0.8v0.8h-0.8zM107.0 162.1h0.8v0.8h-0.8zM97.0 171.5h0.8v0.8h-0.8zM108.8 166.8h0.8v0.8h-0.8zM107.4 167.1h0.8v0.8h-0.8zM113.8 160.4h0.8v0.8h-0.8zM99.3 165.2h0.8v0.8h-0.8zM109.0 159.5h0.8v0.8h-0.8zM92.7 179.9h0.8v0.8h-0.8zM96.7 165.6h0.8v0.8h-0.8zM98.0 159.2h0.8v0.8h-0.8z"/>
<path d="M104.4 168.2h0.8v0.8h-0.8zM97.0 160.0h0.8v0.8h-0.8zM100.5 166.8h0.8v0.8h-0.8zM101.7 163.5h0.8v0.8h-0.8zM101.8 158.3h0.8v0.8h-0.8zM101.4 166.1h0.8v0.8h-0.8zM101.7 176.7h0.8v0.8h-0.8zM106.0 165.7h0.8v0.8h-0.8zM97.3 178.9h0.8v0.8h-0.8zM99.1 166.3h0.8v0.8h-0.8zM117.5 161.4h0.8v0.8h-0.8zM104.6 156.1h0.8v0.8h-0.8zM112.4 170.5h0.8v0.8h-0.8zM107.9 163.0h0.8v0.8h-0.8zM105.5 181.1h0.8v0.8h-0.8zM108.0 163.6h0.8v0.8h-0.8zM97.0 159.8h0.8v0.8h-0.8zM105.1 167.9h0.8v0.8h-0.8zM106.4 148.8h0.8v0.8h-0.8zM108.2 157.5h0.8v0.8h-0.8zM115.6 162.3h0.8v0.8h-0.8zM91.8 165.3h0.8v0.8h-0.8zM100.3 160.7h0.8v0.8h-0.8zM110.2 159.7h0.8v0.8h-0.8zM97.4 174.9h0.8v0.8h-0.8zM101.4 158.9h0.8v0.8h-0.8zM107.5 161.0h0.8v0.8h-0.8zM109.6 152.4h0.8v0.8h-0.8zM103.9 167.5h0.8v0.8h-0.8zM94.2 168.3h0.8v0.8h-0.8zM110.5 158.3h0.8v0.8h-0.8zM96.4 160.4h0.8v0.8h-0.8zM113.0 167.7h0.8v0.8h-0.8zM101.0 170.4h0.8v0.8h-0.8zM106.4 170.7h0.8v0.8h-0.8zM98.8 161.3h0.8v0.8h-0.8zM104.2 168.0h0.8v0.8h-0.8zM100.6 157.1h0.8v0.8h-0.8zM104.2 155.0h0.8v0.8h-0.8zM109.7 163.5h0.8v0.8h-0.8z"/>
<path d="M99.7 171.0h0.8v0.8h-0.8zM103.7 161.9h0.8v0.8h-0.8zM111.0 160.8h0.8v0.8h-0.8zM105.7 165.1h0.8v0.8h-0.8zM94.5 168.0h0.8v0.8h-0.8zM101.4 167.5h0.8v0.8h-0.8zM95.5 169.9h0.8v0.8h-0.8zM104.9 170.0h0.8v0.8h-0.8zM111.3 166.7h0.8v0.8h-0.8zM102.0 174.7h0.8v0.8h-0.8zM99.2 164.9h0.8v0.8h-0.8zM98.6 167.1h0.8v0.8h-0.8zM101.5 163.2h0.8v0.8h-0.8zM92.5 169.1h0.8v0.8h-0.8zM102.2 159.1h0.8v0.8h-0.8zM113.8 146.7h0.8v0.8h-0.8zM102.3 160.9h0.8v0.8h-0.8zM108.0 172.6h0.8v0.8h-0.8zM108.2 165.7h0.8v0.8h-0.8zM114.2 163.2h0.8v0.8h-0.8zM98.7 181.0h0.8v0.8h-0.8zM102.5 158.9h0.8v0.8h-0.8zM103.7 171.6h0.8v0.8h-0.8zM107.4 164.3h0.8v0.8h-0.8zM105.4 160.4h0.8v0.8h-0.8zM121.6 152.2h0.8v0.8h-0.8zM100.4 177.5h0.8v0.8h-0.8zM91.3 182.2h0.8v0.8h-0.8zM112.0 163.2h0.8v0.8h-0.8zM102.6 165.9h0.8v0.8h-0.8zM107.2 160.0h0.8v0.8h-0.8zM101.6 165.4h0.8v0.8h-0.8zM107.0 164.9h0.8v0.8h-0.8zM99.3 153.3h0.8v0.8h-0.8zM108.3 157.9h0.8v0.8h-0.8zM116.2 162.5h0.8v0.8h-0.8zM93.0 174.6h0.8v0.8h-0.8zM95.3 166.4h0.8v0.8h-0.8zM107.3 166.7h0.8v0.8h-0.8zM111.5 163.4h0.8v0.8h-0.8z"/>
<path d="M108.8 179.2h0.8v0.8h-0.8zM115.7 159.9h0.8v0.8h-0.8zM107.2 165.6h0.8v0.8h-0.8zM106.7 161.4h0.8v0.8h-0.8zM94.6 168.5h0.8v0.8h-0.8zM101.4 172.2h0.8v0.8h-0.8zM114.2 166.0h0.8v0.8h-0.8zM101.7 174.9h0.8v0.8h-0.8zM103.7 163.6h0.8v0.8h-0.8zM100.5 172.1h0.8v0.8h-0.8zM109.7 157.1h0.8v0.8h-0.8zM109.9 168.5h0.8v0.8h-0.8zM111.7 160.3h0.8v0.8h-0.8zM107.8 164.4h0.8v0.8h-0.8zM96.2 172.1h0.8v0.8h-0.8zM110.4 169.8h0.8v0.8h-0.8zM105.5 175.1h0.8v0.8h-0.8zM117.3 159.3h0.8v0.8h-0.8zM101.1 169.8h0.8v0.8h-0.8zM106.6 173.6h0.8v0.8h-0.8z"/>
</g>
<path d="M93.6,165.8 L102.1,162.4 L107.1,165.8 L102.1,172.7 L93.6,174.3 Z" fill="#e2412e" fill-opacity="0.5" filter="url(#blur2)"/>
<path d="M95.3,166.5 L101.4,164.1 L105.0,166.5 L101.4,171.4 L95.3,172.6 Z" fill="#d02014" fill-opacity="0.9" filter="url(#blur1)"/>
<path d="M97.3,167.3 L100.6,165.9 L102.6,167.3 L100.6,170.0 L97.3,170.6 Z" fill="#b40c08" fill-opacity="0.65" filter="url(#blur1)"/>
<path d="M101.9,156.8 L111.7,152.0 L116.6,158.5 L114.9,168.2 L106.8,174.8 L101.1,173.3 Z" fill="#e2412e" fill-opacity="0.5" filter="url(#blur2)"/>
<path d="M103.8,158.8 L110.9,155.4 L114.4,160.0 L113.2,167.0 L107.4,171.7 L103.3,170.6 Z" fill="#d02014" fill-opacity="0.9" filter="url(#blur1)"/>
<path d="M106.1,161.1 L110.0,159.3 L111.9,161.8 L111.2,165.6 L108.0,168.2 L105.8,167.6 Z" fill="#b40c08" fill-opacity="0.65" filter="url(#blur1)"/>
<g fill="#c8140c" fill-opacity="0.5">
<path d="M113.4 162.0h0.8v0.8h-0.8zM106.7 166.7h0.8v0.8h-0.8zM108.7 162.9h0.8v0.8h-0.8zM106.1 162.6h0.8v0.8h-0.8zM108.3 165.8h0.8v0.8h-0.8zM101.8 165.2h0.8v0.8h-0.8zM107.6 167.2h0.8v0.8h-0.8zM104.5 165.5h0.8v0.8h-0.8zM97.7 162.9h0.8v0.8h-0.8zM103.0 158.6h0.8v0.8h-0.8zM106.4 166.3h0.8v0.8h-0.8zM98.1 166.7h0.8v0.8h-0.8zM98.8 165.8h0.8v0.8h-0.8zM105.7 166.4h0.8v0.8h-0.8zM105.5 164.4h0.8v0.8h-0.8zM102.2 165.7h0.8v0.8h-0.8zM107.5 155.1h0.8v0.8h-0.8zM114.0 164.7h0.8v0.8h-0.8zM103.6 165.1h0.8v0.8h-0.8zM102.5 168.7h0.8v0.8h-0.8zM104.2 166.2h0.8v0.8h-0.8zM104.4 165.4h0.8v0.8h-0.8zM100.5 169.3h0.8v0.8h-0.8zM109.4 169.3h0.8v0.8h-0.8zM105.9 160.4h0.8v0.8h-0.8zM103.4 162.0h0.8v0.8h-0.8zM100.8 160.9h0.8v0.8h-0.8zM102.8 171.2h0.8v0.8h-0.8zM103.6 167.3h0.8v0.8h-0.8zM102.8 166.9h0.8v0.8h-0.8zM102.0 163.8h0.8v0.8h-0.8zM97.1 170.9h0.8v0.8h-0.8zM94.7 167.8h0.8v0.8h-0.8zM100.2 162.3h0.8v0.8h-0.8zM100.7 161.8h0.8v0.8h-0.8zM107.2 159.7h0.8v0.8h-0.8zM99.4 164.7h0.8v0.8h-0.8zM94.1 171.3h0.8v0.8h-0.8zM104.4 167.1h0.8v0.8h-0.8zM100.7 167.8h0.8v0.8h-0.8z"/>
<path d="M100.1 162.8h0.8v0.8h-0.8zM106.6 162.8h0.8v0.8h-0.8zM99.9 165.8h0.8v0.8h-0.8zM100.2 164.2h0.8v0.8h-0.8zM110.4 163.5h0.8v0.8h-0.8zM105.5 163.4h0.8v0.8h-0.8zM98.3 166.2h0.8v0.8h-0.8zM99.1 166.1h0.8v0.8h-0.8zM92.2 174.4h0.8v0.8h-0.8zM105.4 160.9h0.8v0.8h-0.8zM103.6 160.0h0.8v0.8h-0.8zM102.2 153.6h0.8v0.8h-0.8zM107.0 163.7h0.8v0.8h-0.8zM108.3 168.6h0.8v0.8h-0.8zM105.8 162.2h0.8v0.8h-0.8zM96.4 172.2h0.8v0.8h-0.8zM100.6 162.7h0.8v0.8h-0.8zM108.1 156.0h0.8v0.8h-0.8zM115.1 161.2h0.8v0.8h-0.8zM105.2 169.2h0.8v0.8h-0.8zM102.5 163.0h0.8v0.8h-0.8zM105.0 172.1h0.8v0.8h-0.8zM101.6 156.7h0.8v0.8h-0.8zM110.0 163.0h0.8v0.8h-0.8zM98.6 159.8h0.8v0.8h-0.8zM102.0 163.6h0.8v0.8h-0.8zM106.6 164.2h0.8v0.8h-0.8zM106.2 168.2h0.8v0.8h-0.8zM104.0 167.0h0.8v0.8h-0.8zM110.5 162.6h0.8v0.8h-0.8zM103.9 163.3h0.8v0.8h-0.8zM92.8 173.4h0.8v0.8h-0.8zM102.8 169.7h0.8v0.8h-0.8zM103.9 164.3h0.8v0.8h-0.8zM106.2 158.3h0.8v0.8h-0.8zM101.9 163.2h0.8v0.8h-0.8zM95.1 172.9h0.8v0.8h-0.8zM105.8 164.1h0.8v0.8h-0.8zM94.3 165.7h0.8v0.8h-0.8zM106.5 165.0h0.8v0.8h-0.8z"/>
<path d="M98.3 171.5h0.8v0.8h-0.8zM97.7 168.0h0.8v0.8h-0.8zM106.8 163.5h0.8v0.8h-0.8zM97.1 167.5h0.8v0.8h-0.8zM105.9 164.4h0.8v0.8h-0.8zM104.3 168.5h0.8v0.8h-0.8zM103.9 167.2h0.8v0.8h-0.8zM110.2 162.3h0.8v0.8h-0.8zM108.4 159.7h0.8v0.8h-0.8zM105.3 163.0h0.8v0.8h-0.8zM100.1 165.8h0.8v0.8h-0.8zM104.8 160.0h0.8v0.8h-0.8zM94.8 167.0h0.8v0.8h-0.8zM105.7 163.0h0.8v0.8h-0.8zM102.8 166.6h0.8v0.8h-0.8zM101.0 166.5h0.8v0.8h-0.8zM101.1 163.9h0.8v0.8h-0.8zM112.2 158.5h0.8v0.8h-0.8zM107.2 164.5h0.8v0.8h-0.8zM102.6 166.0h0.8v0.8h-0.8zM101.8 160.7h0.8v0.8h-0.8zM109.8 163.8h0.8v0.8h-0.8zM109.0 164.3h0.8v0.8h-0.8zM107.5 163.9h0.8v0.8h-0.8zM100.2 169.7h0.8v0.8h-0.8zM95.4 164.8h0.8v0.8h-0.8zM103.7 168.4h0.8v0.8h-0.8zM108.6 167.3h0.8v0.8h-0.8zM103.2 167.7h0.8v0.8h-0.8zM107.3 166.1h0.8v0.8h-0.8zM104.4 161.1h0.8v0.8h-0.8zM103.7 161.2h0.8v0.8h-0.8zM100.7 166.3h0.8v0.8h-0.8zM100.5 171.3h0.8v0.8h-0.8zM108.7 163.2h0.8v0.8h-0.8zM105.5 167.0h0.8v0.8h-0.8zM103.8 167.4h0.8v0.8h-0.8zM102.8 165.5h0.8v0.8h-0.8zM105.7 166.6h0.8v0.8h-0.8zM110.4 166.4h0.8v0.8h-0.8z"/>
<path d="M97.2 163.2h0.8v0.8h-0.8zM106.6 164.7h0.8v0.8h-0.8zM104.3 169.0h0.8v0.8h-0.8zM104.5 158.2h0.8v0.8h-0.8zM104.2 164.3h0.8v0.8h-0.8zM107.7 162.5h0.8v0.8h-0.8zM103.7 165.4h0.8v0.8h-0.8zM103.6 167.0h0.8v0.8h-0.8zM104.9 162.3h0.8v0.8h-0.8zM104.1 167.1h0.8v0.8h-0.8zM104.3 163.2h0.8v0.8h-0.8zM102.0 167.7h0.8v0.8h-0.8zM110.5 172.2h0.8v0.8h-0.8zM99.5 162.5h0.8v0.8h-0.8zM101.7 175.4h0.8v0.8h-0.8zM108.7 159.8h0.8v0.8h-0.8zM104.8 165.6h0.8v0.8h-0.8zM99.1 167.8h0.8v0.8h-0.8zM107.7 151.3h0.8v0.8h-0.8zM103.9 162.5h0.8v0.8h-0.8zM109.0 160.3h0.8v0.8h-0.8zM106.9 163.2h0.8v0.8h-0.8zM109.7 158.4h0.8v0.8h-0.8zM100.8 161.9h0.8v0.8h-0.8zM113.6 158.3h0.8v0.8h-0.8zM105.2 170.4h0.8v0.8h-0.8zM99.2 168.0h0.8v0.8h-0.8zM94.8 171.3h0.8v0.8h-0.8zM104.3 161.4h0.8v0.8h-0.8zM104.5 162.7h0.8v0.8h-0.8z"/>
</g>
</g>
<rect x="82.30" y="137.30" width="47.20" height="44.00" fill="none" stroke="#a8a8a8" stroke-width="0.8"/>
<line x1="103.50" y1="137.30" x2="103.50" y2="181.30" stroke="#999999" stroke-width="0.9"/>
<line x1="82.30" y1="163.40" x2="129.50" y2="163.40" stroke="#999999" stroke-width="0.9"/>
<line x1="80.70" y1="141.70" x2="82.30" y2="141.70" stroke="#666" stroke-width="0.6"/>
<line x1="80.70" y1="151.38" x2="82.30" y2="151.38" stroke="#666" stroke-width="0.6"/>
<line x1="80.70" y1="161.50" x2="82.30" y2="161.50" stroke="#666" stroke-width="0.6"/>
<line x1="80.70" y1="171.62" x2="82.30" y2="171.62" stroke="#666" stroke-width="0.6"/>
<line x1="80.70" y1="177.78" x2="82.30" y2="177.78" stroke="#666" stroke-width="0.6"/>
<line x1="86.08" y1="181.30" x2="86.08" y2="182.70" stroke="#888" stroke-width="0.5"/>
<line x1="91.74" y1="181.30" x2="91.74" y2="182.70" stroke="#888" stroke-width="0.5"/>
<line x1="96.46" y1="181.30" x2="96.46" y2="182.70" stroke="#888" stroke-width="0.5"/>
<line x1="103.54" y1="181.30" x2="103.54" y2="182.70" stroke="#888" stroke-width="0.5"/>
<line x1="108.26" y1="181.30" x2="108.26" y2="182.70" stroke="#888" stroke-width="0.5"/>
<line x1="115.34" y1="181.30" x2="115.34" y2="182.70" stroke="#888" stroke-width="0.5"/>
<line x1="120.06" y1="181.30" x2="120.06" y2="182.70" stroke="#888" stroke-width="0.5"/>
<line x1="127.14" y1="181.30" x2="127.14" y2="182.70" stroke="#888" stroke-width="0.5"/>
<rect x="95.1" y="156.4" width="2.6" height="1.6" fill="#555" fill-opacity="0.55"/>
<rect x="107.8" y="155.9" width="2.6" height="1.6" fill="#555" fill-opacity="0.55"/>
<rect x="95.6" y="170.7" width="2.6" height="1.6" fill="#555" fill-opacity="0.55"/>
<rect x="107.3" y="170.2" width="2.6" height="1.6" fill="#555" fill-opacity="0.55"/>
<clipPath id="clip141_137"><rect x="141.4" y="137.3" width="48.19999999999999" height="44.29999999999998"/></clipPath>
<g clip-path="url(#clip141_137)">
<g fill="#e23a28" fill-opacity="0.45">
<path d="M150.6 172.8h0.7v0.7h-0.7zM158.1 173.8h0.7v0.7h-0.7zM166.3 175.6h0.7v0.7h-0.7zM157.6 167.9h0.7v0.7h-0.7zM157.0 173.3h0.7v0.7h-0.7zM155.7 168.1h0.7v0.7h-0.7zM157.3 174.7h0.7v0.7h-0.7zM152.2 169.3h0.7v0.7h-0.7zM148.5 172.8h0.7v0.7h-0.7zM155.2 167.1h0.7v0.7h-0.7zM157.7 172.2h0.7v0.7h-0.7zM154.6 169.5h0.7v0.7h-0.7zM159.9 170.5h0.7v0.7h-0.7zM155.8 178.6h0.7v0.7h-0.7zM156.3 170.3h0.7v0.7h-0.7zM165.1 167.8h0.7v0.7h-0.7zM147.0 174.4h0.7v0.7h-0.7zM154.6 165.8h0.7v0.7h-0.7zM150.1 172.0h0.7v0.7h-0.7zM159.5 166.2h0.7v0.7h-0.7zM155.8 171.1h0.7v0.7h-0.7zM148.3 166.1h0.7v0.7h-0.7zM153.9 171.8h0.7v0.7h-0.7zM161.9 169.3h0.7v0.7h-0.7zM154.2 167.4h0.7v0.7h-0.7zM145.1 170.7h0.7v0.7h-0.7zM159.0 176.6h0.7v0.7h-0.7zM154.1 166.5h0.7v0.7h-0.7zM160.9 171.8h0.7v0.7h-0.7zM156.9 170.2h0.7v0.7h-0.7zM150.1 171.5h0.7v0.7h-0.7zM146.1 168.2h0.7v0.7h-0.7zM164.5 174.3h0.7v0.7h-0.7zM164.7 165.6h0.7v0.7h-0.7zM155.4 164.6h0.7v0.7h-0.7zM157.3 174.6h0.7v0.7h-0.7zM151.7 170.3h0.7v0.7h-0.7zM158.5 170.2h0.7v0.7h-0.7zM153.5 172.6h0.7v0.7h-0.7zM150.1 168.7h0.7v0.7h-0.7z"/>
<path d="M160.9 171.6h0.7v0.7h-0.7zM151.2 171.0h0.7v0.7h-0.7zM160.2 175.2h0.7v0.7h-0.7zM150.8 166.6h0.7v0.7h-0.7zM149.2 169.1h0.7v0.7h-0.7zM155.6 170.8h0.7v0.7h-0.7zM152.6 178.0h0.7v0.7h-0.7zM151.2 173.5h0.7v0.7h-0.7zM149.9 171.0h0.7v0.7h-0.7zM154.7 169.4h0.7v0.7h-0.7zM147.8 166.4h0.7v0.7h-0.7zM147.9 174.5h0.7v0.7h-0.7zM148.5 173.7h0.7v0.7h-0.7zM156.6 174.2h0.7v0.7h-0.7zM148.7 166.9h0.7v0.7h-0.7zM152.7 170.8h0.7v0.7h-0.7zM145.5 165.8h0.7v0.7h-0.7zM152.6 173.4h0.7v0.7h-0.7zM152.2 168.2h0.7v0.7h-0.7zM155.2 172.4h0.7v0.7h-0.7zM149.1 163.0h0.7v0.7h-0.7zM156.7 166.3h0.7v0.7h-0.7zM162.3 168.2h0.7v0.7h-0.7zM152.1 174.5h0.7v0.7h-0.7zM165.6 173.6h0.7v0.7h-0.7zM151.3 165.4h0.7v0.7h-0.7zM152.4 172.0h0.7v0.7h-0.7zM151.5 172.8h0.7v0.7h-0.7zM150.8 165.3h0.7v0.7h-0.7zM149.1 162.4h0.7v0.7h-0.7zM157.2 172.2h0.7v0.7h-0.7zM156.9 174.5h0.7v0.7h-0.7zM159.3 170.5h0.7v0.7h-0.7zM155.7 169.1h0.7v0.7h-0.7zM146.9 174.5h0.7v0.7h-0.7zM149.8 176.1h0.7v0.7h-0.7zM149.6 165.8h0.7v0.7h-0.7zM158.1 173.2h0.7v0.7h-0.7zM158.7 172.3h0.7v0.7h-0.7zM145.6 184.0h0.7v0.7h-0.7z"/>
<path d="M149.0 165.7h0.7v0.7h-0.7zM147.3 169.2h0.7v0.7h-0.7zM150.4 171.9h0.7v0.7h-0.7zM152.2 173.3h0.7v0.7h-0.7zM153.9 169.2h0.7v0.7h-0.7zM157.1 175.5h0.7v0.7h-0.7zM162.3 173.6h0.7v0.7h-0.7zM152.2 164.2h0.7v0.7h-0.7zM153.9 175.9h0.7v0.7h-0.7zM159.5 173.6h0.7v0.7h-0.7z"/>
</g>
<g fill="#e23a28" fill-opacity="0.5">
<path d="M170.1 164.6h0.7v0.7h-0.7zM172.0 165.3h0.7v0.7h-0.7zM163.0 168.7h0.7v0.7h-0.7zM170.1 165.0h0.7v0.7h-0.7zM182.4 154.0h0.7v0.7h-0.7zM169.4 163.6h0.7v0.7h-0.7zM173.7 168.9h0.7v0.7h-0.7zM170.5 164.2h0.7v0.7h-0.7zM154.6 166.0h0.7v0.7h-0.7zM176.1 157.7h0.7v0.7h-0.7zM165.2 172.2h0.7v0.7h-0.7zM177.7 156.9h0.7v0.7h-0.7zM176.6 159.4h0.7v0.7h-0.7zM166.9 160.8h0.7v0.7h-0.7zM160.9 171.6h0.7v0.7h-0.7zM173.3 160.4h0.7v0.7h-0.7zM173.8 162.7h0.7v0.7h-0.7zM171.9 159.3h0.7v0.7h-0.7zM153.3 174.8h0.7v0.7h-0.7zM166.1 164.1h0.7v0.7h-0.7zM160.4 163.1h0.7v0.7h-0.7zM181.4 158.0h0.7v0.7h-0.7zM157.5 174.3h0.7v0.7h-0.7zM172.4 163.1h0.7v0.7h-0.7zM166.6 168.5h0.7v0.7h-0.7zM158.8 165.5h0.7v0.7h-0.7zM156.5 165.9h0.7v0.7h-0.7zM171.6 165.2h0.7v0.7h-0.7zM159.8 173.7h0.7v0.7h-0.7zM161.0 158.9h0.7v0.7h-0.7zM170.9 160.7h0.7v0.7h-0.7zM163.5 161.6h0.7v0.7h-0.7zM157.6 170.7h0.7v0.7h-0.7zM171.7 158.1h0.7v0.7h-0.7zM168.1 166.1h0.7v0.7h-0.7zM161.4 163.1h0.7v0.7h-0.7zM174.1 168.2h0.7v0.7h-0.7zM166.3 164.4h0.7v0.7h-0.7zM173.8 166.3h0.7v0.7h-0.7zM163.8 166.4h0.7v0.7h-0.7z"/>
<path d="M170.0 163.0h0.7v0.7h-0.7zM171.2 156.3h0.7v0.7h-0.7zM175.4 164.8h0.7v0.7h-0.7zM153.2 171.6h0.7v0.7h-0.7zM161.7 170.3h0.7v0.7h-0.7zM171.1 170.3h0.7v0.7h-0.7zM164.3 174.5h0.7v0.7h-0.7zM180.1 160.0h0.7v0.7h-0.7zM176.9 160.9h0.7v0.7h-0.7zM171.7 162.4h0.7v0.7h-0.7zM160.9 167.6h0.7v0.7h-0.7zM178.8 161.8h0.7v0.7h-0.7zM156.2 172.5h0.7v0.7h-0.7zM170.7 164.3h0.7v0.7h-0.7zM171.1 169.9h0.7v0.7h-0.7zM168.3 165.3h0.7v0.7h-0.7zM163.7 170.3h0.7v0.7h-0.7zM171.4 157.8h0.7v0.7h-0.7zM170.1 169.9h0.7v0.7h-0.7zM162.5 173.2h0.7v0.7h-0.7zM165.3 165.9h0.7v0.7h-0.7zM161.0 170.1h0.7v0.7h-0.7zM160.0 171.1h0.7v0.7h-0.7zM163.3 164.8h0.7v0.7h-0.7zM155.4 171.9h0.7v0.7h-0.7zM164.4 165.4h0.7v0.7h-0.7zM171.0 165.8h0.7v0.7h-0.7zM172.3 161.9h0.7v0.7h-0.7zM175.7 154.8h0.7v0.7h-0.7zM163.8 164.7h0.7v0.7h-0.7zM165.0 163.1h0.7v0.7h-0.7zM173.3 161.2h0.7v0.7h-0.7zM159.2 166.5h0.7v0.7h-0.7zM163.7 166.3h0.7v0.7h-0.7zM160.5 168.2h0.7v0.7h-0.7zM160.2 164.5h0.7v0.7h-0.7zM170.0 167.5h0.7v0.7h-0.7zM170.2 173.0h0.7v0.7h-0.7zM160.5 170.0h0.7v0.7h-0.7zM176.8 159.0h0.7v0.7h-0.7z"/>
<path d="M170.2 161.0h0.7v0.7h-0.7zM172.1 165.4h0.7v0.7h-0.7zM173.1 164.3h0.7v0.7h-0.7zM160.9 170.7h0.7v0.7h-0.7zM174.2 161.3h0.7v0.7h-0.7zM169.7 166.3h0.7v0.7h-0.7zM162.2 165.0h0.7v0.7h-0.7zM162.0 171.1h0.7v0.7h-0.7zM160.5 172.5h0.7v0.7h-0.7zM165.1 166.5h0.7v0.7h-0.7zM162.4 168.7h0.7v0.7h-0.7zM160.3 168.0h0.7v0.7h-0.7zM164.2 158.7h0.7v0.7h-0.7zM164.5 162.6h0.7v0.7h-0.7zM164.0 167.7h0.7v0.7h-0.7zM165.5 164.6h0.7v0.7h-0.7zM162.5 171.7h0.7v0.7h-0.7zM168.9 171.8h0.7v0.7h-0.7zM150.3 173.0h0.7v0.7h-0.7zM173.9 162.5h0.7v0.7h-0.7zM165.3 171.1h0.7v0.7h-0.7zM160.5 166.0h0.7v0.7h-0.7zM172.5 161.5h0.7v0.7h-0.7zM161.9 173.1h0.7v0.7h-0.7zM162.1 167.9h0.7v0.7h-0.7zM170.3 162.9h0.7v0.7h-0.7zM174.6 163.6h0.7v0.7h-0.7zM175.5 157.5h0.7v0.7h-0.7zM168.5 160.8h0.7v0.7h-0.7zM161.9 168.7h0.7v0.7h-0.7zM171.7 166.5h0.7v0.7h-0.7zM169.2 160.9h0.7v0.7h-0.7zM177.5 159.2h0.7v0.7h-0.7zM158.7 169.6h0.7v0.7h-0.7zM157.1 175.4h0.7v0.7h-0.7zM168.1 163.5h0.7v0.7h-0.7zM173.1 159.4h0.7v0.7h-0.7zM162.5 173.0h0.7v0.7h-0.7zM159.9 172.6h0.7v0.7h-0.7zM158.4 170.8h0.7v0.7h-0.7z"/>
<path d="M176.7 156.9h0.7v0.7h-0.7zM161.2 169.8h0.7v0.7h-0.7zM162.9 163.4h0.7v0.7h-0.7zM174.0 164.3h0.7v0.7h-0.7zM167.5 170.6h0.7v0.7h-0.7zM170.6 166.4h0.7v0.7h-0.7zM168.2 168.1h0.7v0.7h-0.7zM154.7 170.3h0.7v0.7h-0.7zM159.8 166.3h0.7v0.7h-0.7zM165.9 163.2h0.7v0.7h-0.7zM160.0 172.2h0.7v0.7h-0.7zM172.1 168.6h0.7v0.7h-0.7zM176.5 157.1h0.7v0.7h-0.7zM180.7 161.2h0.7v0.7h-0.7zM168.3 167.1h0.7v0.7h-0.7zM161.9 166.8h0.7v0.7h-0.7zM172.4 167.2h0.7v0.7h-0.7zM159.3 169.5h0.7v0.7h-0.7zM158.5 170.6h0.7v0.7h-0.7zM166.3 161.0h0.7v0.7h-0.7zM161.2 163.1h0.7v0.7h-0.7zM158.9 171.6h0.7v0.7h-0.7zM169.3 165.6h0.7v0.7h-0.7zM158.9 172.2h0.7v0.7h-0.7zM172.3 171.7h0.7v0.7h-0.7zM167.0 169.9h0.7v0.7h-0.7zM152.0 176.5h0.7v0.7h-0.7zM170.6 166.1h0.7v0.7h-0.7zM162.1 166.4h0.7v0.7h-0.7zM165.9 168.2h0.7v0.7h-0.7zM171.9 161.3h0.7v0.7h-0.7zM162.5 167.4h0.7v0.7h-0.7zM169.4 164.0h0.7v0.7h-0.7zM165.8 165.5h0.7v0.7h-0.7zM161.5 168.6h0.7v0.7h-0.7zM172.7 161.6h0.7v0.7h-0.7zM167.5 165.0h0.7v0.7h-0.7zM173.0 172.7h0.7v0.7h-0.7zM166.1 167.2h0.7v0.7h-0.7zM168.1 168.7h0.7v0.7h-0.7z"/>
</g>
<path d="M155.4,166.9 L159.3,163.1 L165.1,161.7 L174.1,159.2 L177.4,159.2 L176.7,164.3 L174.1,170.8 L169.0,173.3 L165.1,172.1 L158.6,169.5 Z" fill="#e2412e" fill-opacity="0.5" filter="url(#blur2)"/>
<path d="M157.6,166.7 L160.8,163.6 L165.5,162.5 L172.9,160.4 L175.6,160.4 L175.0,164.6 L172.9,169.9 L168.7,172.0 L165.5,171.0 L160.2,168.9 Z" fill="#d02014" fill-opacity="0.9" filter="url(#blur1)"/>
<path d="M162.0,166.4 L163.8,164.7 L166.4,164.1 L170.5,162.9 L171.9,162.9 L171.6,165.2 L170.5,168.1 L168.1,169.3 L166.4,168.8 L163.5,167.6 Z" fill="#b40c08" fill-opacity="0.65" filter="url(#blur1)"/>
</g>
<rect x="141.40" y="137.30" width="48.20" height="44.30" fill="none" stroke="#a8a8a8" stroke-width="0.8"/>
<line x1="165.70" y1="137.30" x2="165.70" y2="181.60" stroke="#6e6e6e" stroke-width="1.0"/>
<line x1="141.40" y1="162.00" x2="189.60" y2="162.00" stroke="#6e6e6e" stroke-width="1.0"/>
<line x1="139.80" y1="141.73" x2="141.40" y2="141.73" stroke="#666" stroke-width="0.6"/>
<line x1="139.80" y1="151.48" x2="141.40" y2="151.48" stroke="#666" stroke-width="0.6"/>
<line x1="139.80" y1="161.66" x2="141.40" y2="161.66" stroke="#666" stroke-width="0.6"/>
<line x1="139.80" y1="171.85" x2="141.40" y2="171.85" stroke="#666" stroke-width="0.6"/>
<line x1="139.80" y1="178.06" x2="141.40" y2="178.06" stroke="#666" stroke-width="0.6"/>
<line x1="145.26" y1="181.60" x2="145.26" y2="183.00" stroke="#888" stroke-width="0.5"/>
<line x1="151.04" y1="181.60" x2="151.04" y2="183.00" stroke="#888" stroke-width="0.5"/>
<line x1="155.86" y1="181.60" x2="155.86" y2="183.00" stroke="#888" stroke-width="0.5"/>
<line x1="163.09" y1="181.60" x2="163.09" y2="183.00" stroke="#888" stroke-width="0.5"/>
<line x1="167.91" y1="181.60" x2="167.91" y2="183.00" stroke="#888" stroke-width="0.5"/>
<line x1="175.14" y1="181.60" x2="175.14" y2="183.00" stroke="#888" stroke-width="0.5"/>
<line x1="179.96" y1="181.60" x2="179.96" y2="183.00" stroke="#888" stroke-width="0.5"/>
<line x1="187.19" y1="181.60" x2="187.19" y2="183.00" stroke="#888" stroke-width="0.5"/>
<rect x="159.5" y="155.9" width="2.6" height="1.6" fill="#555" fill-opacity="0.55"/>
<rect x="170.0" y="155.9" width="2.6" height="1.6" fill="#555" fill-opacity="0.55"/>
<rect x="158.9" y="167.0" width="2.6" height="1.6" fill="#555" fill-opacity="0.55"/>
<rect x="170.6" y="167.0" width="2.6" height="1.6" fill="#555" fill-opacity="0.55"/>
<text x="167.60" y="180.10" font-size="8" textLength="21.70" lengthAdjust="spacingAndGlyphs" fill="#111" stroke="#111">83.1%</text>
<clipPath id="clip23_195"><rect x="23.7" y="195.3" width="47.89999999999999" height="44.29999999999998"/></clipPath>
<g clip-path="url(#clip23_195)">
<path d="M24.8,203.0 L43.8,203.0 L44.5,218.4 L26.0,218.4 Z" fill="#f3b0a0" fill-opacity="0.35" filter="url(#blur2)"/>
<path d="M25.5,203.5 L43.0,203.5 L43.0,211.0 L26.0,211.0 Z" fill="#e5604c" fill-opacity="0.35" filter="url(#blur2)"/>
<g fill="#e23a28" fill-opacity="0.45">
<path d="M35.2 208.9h0.7v0.7h-0.7zM34.1 210.2h0.7v0.7h-0.7zM35.0 211.9h0.7v0.7h-0.7zM39.4 210.0h0.7v0.7h-0.7zM43.4 204.8h0.7v0.7h-0.7zM33.0 209.4h0.7v0.7h-0.7zM41.8 207.7h0.7v0.7h-0.7zM36.8 205.0h0.7v0.7h-0.7zM41.6 217.5h0.7v0.7h-0.7zM33.8 213.3h0.7v0.7h-0.7zM26.1 209.0h0.7v0.7h-0.7zM39.8 209.4h0.7v0.7h-0.7zM35.0 204.7h0.7v0.7h-0.7zM41.4 216.7h0.7v0.7h-0.7zM40.1 203.6h0.7v0.7h-0.7zM30.8 210.8h0.7v0.7h-0.7zM37.8 207.3h0.7v0.7h-0.7zM29.5 208.0h0.7v0.7h-0.7zM29.9 207.5h0.7v0.7h-0.7zM25.5 212.1h0.7v0.7h-0.7zM32.3 218.3h0.7v0.7h-0.7zM25.1 204.6h0.7v0.7h-0.7zM39.3 214.4h0.7v0.7h-0.7zM42.2 205.5h0.7v0.7h-0.7zM38.4 211.8h0.7v0.7h-0.7zM35.9 217.5h0.7v0.7h-0.7zM31.3 207.7h0.7v0.7h-0.7zM40.0 213.0h0.7v0.7h-0.7zM38.7 216.5h0.7v0.7h-0.7zM42.2 211.5h0.7v0.7h-0.7zM36.6 214.5h0.7v0.7h-0.7zM42.2 214.8h0.7v0.7h-0.7zM37.4 204.1h0.7v0.7h-0.7zM33.2 212.2h0.7v0.7h-0.7zM35.9 211.2h0.7v0.7h-0.7zM33.8 207.2h0.7v0.7h-0.7zM30.0 204.2h0.7v0.7h-0.7zM26.7 216.9h0.7v0.7h-0.7zM30.1 211.5h0.7v0.7h-0.7zM25.6 203.9h0.7v0.7h-0.7z"/>
<path d="M38.4 207.1h0.7v0.7h-0.7zM31.9 210.8h0.7v0.7h-0.7zM29.8 211.8h0.7v0.7h-0.7zM43.0 209.3h0.7v0.7h-0.7zM43.9 211.9h0.7v0.7h-0.7zM40.1 212.3h0.7v0.7h-0.7zM37.8 207.0h0.7v0.7h-0.7zM39.7 204.7h0.7v0.7h-0.7zM43.0 204.7h0.7v0.7h-0.7zM40.5 205.3h0.7v0.7h-0.7zM39.2 213.1h0.7v0.7h-0.7zM35.2 205.9h0.7v0.7h-0.7zM35.4 203.2h0.7v0.7h-0.7zM42.3 214.1h0.7v0.7h-0.7zM43.3 207.1h0.7v0.7h-0.7zM39.8 211.6h0.7v0.7h-0.7zM29.6 214.3h0.7v0.7h-0.7zM32.2 217.4h0.7v0.7h-0.7zM27.8 213.0h0.7v0.7h-0.7zM41.1 205.7h0.7v0.7h-0.7zM33.6 204.9h0.7v0.7h-0.7zM31.5 212.4h0.7v0.7h-0.7zM27.4 213.2h0.7v0.7h-0.7zM34.1 206.4h0.7v0.7h-0.7zM39.4 209.2h0.7v0.7h-0.7zM30.8 213.1h0.7v0.7h-0.7zM40.2 207.5h0.7v0.7h-0.7zM26.4 203.6h0.7v0.7h-0.7zM32.3 216.6h0.7v0.7h-0.7zM41.2 208.5h0.7v0.7h-0.7zM36.8 208.5h0.7v0.7h-0.7zM40.0 208.3h0.7v0.7h-0.7zM32.3 218.4h0.7v0.7h-0.7zM34.1 214.5h0.7v0.7h-0.7zM38.0 216.3h0.7v0.7h-0.7zM39.4 213.7h0.7v0.7h-0.7zM40.0 210.5h0.7v0.7h-0.7zM35.1 214.6h0.7v0.7h-0.7zM33.9 215.9h0.7v0.7h-0.7zM41.8 208.4h0.7v0.7h-0.7z"/>
<path d="M38.6 211.8h0.7v0.7h-0.7zM28.0 205.2h0.7v0.7h-0.7zM29.2 204.0h0.7v0.7h-0.7zM35.7 210.2h0.7v0.7h-0.7zM30.5 205.9h0.7v0.7h-0.7zM43.3 216.4h0.7v0.7h-0.7zM28.1 214.4h0.7v0.7h-0.7zM29.8 216.7h0.7v0.7h-0.7zM38.0 209.7h0.7v0.7h-0.7zM30.4 207.8h0.7v0.7h-0.7zM40.0 217.4h0.7v0.7h-0.7zM29.0 208.8h0.7v0.7h-0.7zM28.9 214.6h0.7v0.7h-0.7zM35.4 205.0h0.7v0.7h-0.7zM29.8 205.9h0.7v0.7h-0.7zM40.0 214.2h0.7v0.7h-0.7zM33.5 217.6h0.7v0.7h-0.7zM35.0 211.6h0.7v0.7h-0.7zM41.4 216.1h0.7v0.7h-0.7zM38.7 211.1h0.7v0.7h-0.7zM39.1 211.8h0.7v0.7h-0.7zM31.1 208.1h0.7v0.7h-0.7zM32.2 208.6h0.7v0.7h-0.7zM35.7 206.6h0.7v0.7h-0.7zM32.0 210.5h0.7v0.7h-0.7zM35.1 213.6h0.7v0.7h-0.7zM38.1 203.6h0.7v0.7h-0.7zM25.7 211.0h0.7v0.7h-0.7zM30.7 206.6h0.7v0.7h-0.7zM26.0 203.6h0.7v0.7h-0.7zM27.3 205.7h0.7v0.7h-0.7zM27.8 216.1h0.7v0.7h-0.7zM34.2 215.1h0.7v0.7h-0.7zM34.7 203.6h0.7v0.7h-0.7zM43.1 211.7h0.7v0.7h-0.7zM37.3 210.7h0.7v0.7h-0.7zM38.2 215.3h0.7v0.7h-0.7zM28.7 216.0h0.7v0.7h-0.7zM28.5 215.7h0.7v0.7h-0.7zM40.4 208.9h0.7v0.7h-0.7z"/>
<path d="M38.3 214.1h0.7v0.7h-0.7zM38.0 205.6h0.7v0.7h-0.7zM40.1 205.4h0.7v0.7h-0.7zM27.0 212.0h0.7v0.7h-0.7zM34.7 203.5h0.7v0.7h-0.7zM26.9 212.5h0.7v0.7h-0.7zM28.3 205.2h0.7v0.7h-0.7zM37.6 207.5h0.7v0.7h-0.7zM30.2 211.4h0.7v0.7h-0.7zM27.4 205.4h0.7v0.7h-0.7zM30.3 213.3h0.7v0.7h-0.7zM26.7 204.1h0.7v0.7h-0.7zM35.4 203.3h0.7v0.7h-0.7zM37.2 206.4h0.7v0.7h-0.7zM35.6 205.0h0.7v0.7h-0.7zM41.2 212.8h0.7v0.7h-0.7zM26.9 216.6h0.7v0.7h-0.7zM31.2 206.2h0.7v0.7h-0.7zM34.6 203.7h0.7v0.7h-0.7zM28.9 213.5h0.7v0.7h-0.7zM42.9 211.6h0.7v0.7h-0.7zM39.8 211.7h0.7v0.7h-0.7zM39.4 205.5h0.7v0.7h-0.7zM39.0 207.2h0.7v0.7h-0.7zM41.8 210.1h0.7v0.7h-0.7zM37.7 206.8h0.7v0.7h-0.7zM28.4 211.1h0.7v0.7h-0.7zM41.7 207.1h0.7v0.7h-0.7zM33.1 205.5h0.7v0.7h-0.7zM34.4 213.5h0.7v0.7h-0.7zM28.2 210.3h0.7v0.7h-0.7zM28.3 213.2h0.7v0.7h-0.7zM26.5 211.0h0.7v0.7h-0.7zM30.3 204.2h0.7v0.7h-0.7zM37.7 207.2h0.7v0.7h-0.7zM39.0 210.8h0.7v0.7h-0.7zM33.4 203.4h0.7v0.7h-0.7zM40.2 204.7h0.7v0.7h-0.7zM31.5 217.9h0.7v0.7h-0.7zM33.0 211.2h0.7v0.7h-0.7z"/>
<path d="M35.9 204.1h0.7v0.7h-0.7zM30.7 208.1h0.7v0.7h-0.7zM28.0 207.9h0.7v0.7h-0.7zM31.7 206.5h0.7v0.7h-0.7zM40.3 207.6h0.7v0.7h-0.7zM41.3 210.3h0.7v0.7h-0.7zM38.7 203.3h0.7v0.7h-0.7zM35.5 212.6h0.7v0.7h-0.7zM37.1 205.3h0.7v0.7h-0.7zM26.1 203.7h0.7v0.7h-0.7zM28.9 203.3h0.7v0.7h-0.7zM31.9 208.4h0.7v0.7h-0.7zM28.7 213.7h0.7v0.7h-0.7zM33.9 210.7h0.7v0.7h-0.7zM40.2 206.4h0.7v0.7h-0.7zM39.9 212.7h0.7v0.7h-0.7zM41.9 205.1h0.7v0.7h-0.7zM26.0 213.7h0.7v0.7h-0.7zM38.6 205.5h0.7v0.7h-0.7zM30.2 209.8h0.7v0.7h-0.7zM43.5 205.9h0.7v0.7h-0.7zM25.8 205.7h0.7v0.7h-0.7zM44.1 210.6h0.7v0.7h-0.7zM39.7 205.8h0.7v0.7h-0.7zM32.5 208.9h0.7v0.7h-0.7zM37.1 208.1h0.7v0.7h-0.7zM31.8 204.5h0.7v0.7h-0.7zM25.3 203.1h0.7v0.7h-0.7zM33.8 210.2h0.7v0.7h-0.7zM29.5 205.9h0.7v0.7h-0.7zM35.5 207.0h0.7v0.7h-0.7zM27.0 204.1h0.7v0.7h-0.7zM33.4 210.0h0.7v0.7h-0.7zM40.3 203.7h0.7v0.7h-0.7zM34.4 210.0h0.7v0.7h-0.7zM36.0 213.8h0.7v0.7h-0.7zM30.6 207.2h0.7v0.7h-0.7zM33.1 204.7h0.7v0.7h-0.7zM26.0 203.8h0.7v0.7h-0.7zM43.8 212.1h0.7v0.7h-0.7z"/>
<path d="M36.8 210.6h0.7v0.7h-0.7zM40.6 207.0h0.7v0.7h-0.7zM34.2 214.2h0.7v0.7h-0.7zM30.0 208.5h0.7v0.7h-0.7zM30.9 210.9h0.7v0.7h-0.7zM32.4 204.8h0.7v0.7h-0.7zM42.4 209.9h0.7v0.7h-0.7zM41.5 204.8h0.7v0.7h-0.7zM43.0 205.9h0.7v0.7h-0.7zM38.5 211.4h0.7v0.7h-0.7zM43.0 208.7h0.7v0.7h-0.7zM32.7 208.7h0.7v0.7h-0.7zM35.1 213.3h0.7v0.7h-0.7zM28.7 205.9h0.7v0.7h-0.7zM35.3 216.8h0.7v0.7h-0.7zM43.2 215.8h0.7v0.7h-0.7zM30.8 203.2h0.7v0.7h-0.7zM43.2 209.1h0.7v0.7h-0.7zM31.9 205.8h0.7v0.7h-0.7zM41.8 211.2h0.7v0.7h-0.7zM29.1 205.3h0.7v0.7h-0.7zM30.1 206.5h0.7v0.7h-0.7zM43.3 206.6h0.7v0.7h-0.7zM33.0 203.9h0.7v0.7h-0.7zM35.7 206.8h0.7v0.7h-0.7zM40.7 210.4h0.7v0.7h-0.7zM39.4 203.4h0.7v0.7h-0.7zM29.8 205.0h0.7v0.7h-0.7zM36.4 204.2h0.7v0.7h-0.7zM28.7 208.0h0.7v0.7h-0.7zM37.8 207.7h0.7v0.7h-0.7zM34.6 217.3h0.7v0.7h-0.7zM32.5 213.0h0.7v0.7h-0.7zM29.2 213.0h0.7v0.7h-0.7zM38.0 211.7h0.7v0.7h-0.7zM33.0 206.2h0.7v0.7h-0.7zM30.4 211.4h0.7v0.7h-0.7zM32.5 215.5h0.7v0.7h-0.7zM40.8 203.7h0.7v0.7h-0.7zM35.5 214.2h0.7v0.7h-0.7z"/>
<path d="M40.5 205.4h0.7v0.7h-0.7zM37.2 204.1h0.7v0.7h-0.7zM42.8 204.3h0.7v0.7h-0.7zM37.4 212.2h0.7v0.7h-0.7zM33.5 212.3h0.7v0.7h-0.7zM40.5 211.4h0.7v0.7h-0.7zM40.9 213.9h0.7v0.7h-0.7zM26.5 210.8h0.7v0.7h-0.7zM34.1 214.6h0.7v0.7h-0.7zM42.0 208.5h0.7v0.7h-0.7zM30.0 205.0h0.7v0.7h-0.7zM27.2 205.3h0.7v0.7h-0.7zM39.1 218.1h0.7v0.7h-0.7zM37.6 206.6h0.7v0.7h-0.7zM30.7 214.9h0.7v0.7h-0.7zM26.5 216.7h0.7v0.7h-0.7zM28.2 213.8h0.7v0.7h-0.7zM36.7 209.8h0.7v0.7h-0.7zM43.6 213.7h0.7v0.7h-0.7zM40.0 205.6h0.7v0.7h-0.7zM35.1 209.8h0.7v0.7h-0.7zM28.5 216.1h0.7v0.7h-0.7zM28.7 211.1h0.7v0.7h-0.7zM32.4 203.4h0.7v0.7h-0.7zM26.3 207.5h0.7v0.7h-0.7zM38.5 206.3h0.7v0.7h-0.7zM31.5 217.0h0.7v0.7h-0.7zM30.6 216.4h0.7v0.7h-0.7zM34.5 210.5h0.7v0.7h-0.7zM28.1 210.7h0.7v0.7h-0.7zM32.2 207.0h0.7v0.7h-0.7zM33.0 212.4h0.7v0.7h-0.7zM38.5 211.6h0.7v0.7h-0.7zM41.2 211.1h0.7v0.7h-0.7zM43.1 214.9h0.7v0.7h-0.7zM33.8 213.8h0.7v0.7h-0.7zM35.7 206.3h0.7v0.7h-0.7zM29.8 218.2h0.7v0.7h-0.7zM29.1 206.1h0.7v0.7h-0.7zM38.0 207.7h0.7v0.7h-0.7z"/>
<path d="M38.9 212.2h0.7v0.7h-0.7zM40.5 216.4h0.7v0.7h-0.7zM40.9 216.0h0.7v0.7h-0.7zM42.0 215.7h0.7v0.7h-0.7zM42.5 204.4h0.7v0.7h-0.7zM40.7 205.7h0.7v0.7h-0.7zM40.3 215.8h0.7v0.7h-0.7zM37.2 208.3h0.7v0.7h-0.7zM36.1 211.1h0.7v0.7h-0.7zM37.6 205.5h0.7v0.7h-0.7zM26.6 203.8h0.7v0.7h-0.7zM38.1 210.6h0.7v0.7h-0.7zM31.2 212.1h0.7v0.7h-0.7zM28.9 214.3h0.7v0.7h-0.7zM26.2 214.6h0.7v0.7h-0.7zM40.5 215.0h0.7v0.7h-0.7zM37.4 211.3h0.7v0.7h-0.7zM36.5 209.9h0.7v0.7h-0.7zM43.1 215.3h0.7v0.7h-0.7zM42.7 206.0h0.7v0.7h-0.7zM41.9 218.0h0.7v0.7h-0.7zM36.6 208.9h0.7v0.7h-0.7zM32.0 210.6h0.7v0.7h-0.7zM42.9 217.9h0.7v0.7h-0.7zM40.0 204.7h0.7v0.7h-0.7zM37.2 204.2h0.7v0.7h-0.7zM38.4 208.4h0.7v0.7h-0.7zM32.6 205.3h0.7v0.7h-0.7zM43.3 212.8h0.7v0.7h-0.7zM32.7 211.3h0.7v0.7h-0.7zM26.1 217.2h0.7v0.7h-0.7zM32.1 216.1h0.7v0.7h-0.7zM42.8 203.3h0.7v0.7h-0.7zM42.5 215.6h0.7v0.7h-0.7zM34.0 208.4h0.7v0.7h-0.7zM28.8 207.3h0.7v0.7h-0.7zM28.9 208.4h0.7v0.7h-0.7zM31.1 207.7h0.7v0.7h-0.7zM26.7 209.3h0.7v0.7h-0.7zM43.2 207.0h0.7v0.7h-0.7z"/>
<path d="M26.1 215.5h0.7v0.7h-0.7zM42.9 210.2h0.7v0.7h-0.7zM29.7 215.9h0.7v0.7h-0.7zM34.3 207.4h0.7v0.7h-0.7zM29.7 211.4h0.7v0.7h-0.7zM25.1 204.7h0.7v0.7h-0.7zM33.6 210.9h0.7v0.7h-0.7zM29.8 205.9h0.7v0.7h-0.7zM39.6 214.3h0.7v0.7h-0.7zM37.4 215.4h0.7v0.7h-0.7zM36.2 213.9h0.7v0.7h-0.7zM39.8 207.2h0.7v0.7h-0.7zM31.1 210.9h0.7v0.7h-0.7zM32.8 216.6h0.7v0.7h-0.7zM28.5 211.4h0.7v0.7h-0.7zM36.7 205.4h0.7v0.7h-0.7zM30.3 203.1h0.7v0.7h-0.7zM37.1 203.6h0.7v0.7h-0.7zM34.0 211.2h0.7v0.7h-0.7zM31.5 209.8h0.7v0.7h-0.7zM30.9 212.4h0.7v0.7h-0.7zM41.9 204.6h0.7v0.7h-0.7zM28.5 211.7h0.7v0.7h-0.7zM39.5 215.1h0.7v0.7h-0.7zM33.5 204.4h0.7v0.7h-0.7zM38.6 203.9h0.7v0.7h-0.7zM30.2 203.3h0.7v0.7h-0.7zM39.7 206.0h0.7v0.7h-0.7zM33.4 204.3h0.7v0.7h-0.7zM31.3 205.0h0.7v0.7h-0.7zM30.7 210.1h0.7v0.7h-0.7zM36.3 204.2h0.7v0.7h-0.7zM42.3 209.5h0.7v0.7h-0.7zM29.2 206.3h0.7v0.7h-0.7zM44.2 218.0h0.7v0.7h-0.7zM37.3 207.5h0.7v0.7h-0.7zM30.3 218.3h0.7v0.7h-0.7zM33.9 204.3h0.7v0.7h-0.7zM26.5 215.8h0.7v0.7h-0.7zM29.4 203.6h0.7v0.7h-0.7z"/>
<path d="M43.6 208.6h0.7v0.7h-0.7zM39.5 206.5h0.7v0.7h-0.7zM43.8 216.2h0.7v0.7h-0.7zM36.2 204.6h0.7v0.7h-0.7zM28.4 208.8h0.7v0.7h-0.7zM30.0 209.5h0.7v0.7h-0.7zM33.9 204.2h0.7v0.7h-0.7zM36.4 217.7h0.7v0.7h-0.7zM31.9 205.3h0.7v0.7h-0.7zM35.9 212.1h0.7v0.7h-0.7zM42.5 211.0h0.7v0.7h-0.7zM37.5 210.6h0.7v0.7h-0.7zM37.4 203.7h0.7v0.7h-0.7zM29.0 209.0h0.7v0.7h-0.7zM29.2 209.7h0.7v0.7h-0.7zM29.8 214.1h0.7v0.7h-0.7zM41.5 209.3h0.7v0.7h-0.7zM40.0 208.8h0.7v0.7h-0.7zM43.3 210.6h0.7v0.7h-0.7zM36.4 204.4h0.7v0.7h-0.7zM41.8 212.7h0.7v0.7h-0.7zM41.8 207.5h0.7v0.7h-0.7zM40.3 216.1h0.7v0.7h-0.7zM30.0 210.9h0.7v0.7h-0.7zM29.8 209.7h0.7v0.7h-0.7zM42.3 206.9h0.7v0.7h-0.7zM34.1 207.1h0.7v0.7h-0.7zM43.3 206.6h0.7v0.7h-0.7zM42.3 210.5h0.7v0.7h-0.7zM32.3 206.9h0.7v0.7h-0.7zM34.9 207.5h0.7v0.7h-0.7zM40.6 214.9h0.7v0.7h-0.7zM42.4 209.8h0.7v0.7h-0.7zM26.3 203.8h0.7v0.7h-0.7zM31.2 203.6h0.7v0.7h-0.7zM26.1 208.4h0.7v0.7h-0.7zM33.6 215.7h0.7v0.7h-0.7zM37.5 217.7h0.7v0.7h-0.7zM36.6 207.0h0.7v0.7h-0.7zM35.7 205.5h0.7v0.7h-0.7z"/>
<path d="M43.7 205.8h0.7v0.7h-0.7zM31.3 214.7h0.7v0.7h-0.7zM44.4 217.1h0.7v0.7h-0.7zM32.1 210.3h0.7v0.7h-0.7zM36.5 213.6h0.7v0.7h-0.7zM37.6 215.7h0.7v0.7h-0.7zM30.1 206.9h0.7v0.7h-0.7zM27.2 206.3h0.7v0.7h-0.7zM38.4 214.4h0.7v0.7h-0.7zM27.7 208.4h0.7v0.7h-0.7zM41.3 206.8h0.7v0.7h-0.7zM27.6 209.0h0.7v0.7h-0.7zM35.7 208.0h0.7v0.7h-0.7zM30.2 214.9h0.7v0.7h-0.7zM44.3 215.9h0.7v0.7h-0.7zM25.6 213.3h0.7v0.7h-0.7zM32.9 212.0h0.7v0.7h-0.7zM39.6 215.9h0.7v0.7h-0.7zM30.4 215.9h0.7v0.7h-0.7zM27.4 203.2h0.7v0.7h-0.7zM28.4 209.1h0.7v0.7h-0.7zM27.9 203.9h0.7v0.7h-0.7zM30.7 203.6h0.7v0.7h-0.7zM44.0 210.3h0.7v0.7h-0.7zM35.7 215.8h0.7v0.7h-0.7zM42.9 217.7h0.7v0.7h-0.7zM36.2 217.7h0.7v0.7h-0.7zM38.0 204.5h0.7v0.7h-0.7zM40.1 207.9h0.7v0.7h-0.7zM36.3 209.9h0.7v0.7h-0.7zM36.0 214.7h0.7v0.7h-0.7zM29.0 204.9h0.7v0.7h-0.7zM28.9 217.3h0.7v0.7h-0.7zM33.6 214.8h0.7v0.7h-0.7zM26.4 206.6h0.7v0.7h-0.7zM31.7 217.6h0.7v0.7h-0.7zM30.8 210.6h0.7v0.7h-0.7zM30.6 204.6h0.7v0.7h-0.7zM37.1 208.6h0.7v0.7h-0.7zM30.3 204.5h0.7v0.7h-0.7z"/>
<path d="M35.3 215.3h0.7v0.7h-0.7zM30.3 205.7h0.7v0.7h-0.7zM30.8 210.7h0.7v0.7h-0.7zM36.3 209.8h0.7v0.7h-0.7zM30.9 207.9h0.7v0.7h-0.7zM35.6 212.4h0.7v0.7h-0.7zM39.0 209.6h0.7v0.7h-0.7zM42.7 206.2h0.7v0.7h-0.7zM43.1 205.6h0.7v0.7h-0.7zM35.1 216.5h0.7v0.7h-0.7zM39.5 205.7h0.7v0.7h-0.7zM37.6 206.8h0.7v0.7h-0.7zM35.4 210.9h0.7v0.7h-0.7zM44.0 215.8h0.7v0.7h-0.7zM37.1 206.0h0.7v0.7h-0.7zM40.4 217.3h0.7v0.7h-0.7zM27.7 208.4h0.7v0.7h-0.7zM28.8 205.6h0.7v0.7h-0.7zM28.1 207.0h0.7v0.7h-0.7zM29.0 204.6h0.7v0.7h-0.7zM31.5 205.2h0.7v0.7h-0.7zM32.7 204.1h0.7v0.7h-0.7zM27.2 210.2h0.7v0.7h-0.7zM26.5 206.0h0.7v0.7h-0.7zM42.2 204.3h0.7v0.7h-0.7zM40.0 215.8h0.7v0.7h-0.7zM33.0 208.4h0.7v0.7h-0.7zM34.3 213.9h0.7v0.7h-0.7zM41.4 212.2h0.7v0.7h-0.7zM25.7 209.2h0.7v0.7h-0.7zM36.7 204.6h0.7v0.7h-0.7zM27.4 207.3h0.7v0.7h-0.7zM26.3 218.4h0.7v0.7h-0.7zM36.5 211.4h0.7v0.7h-0.7zM35.6 208.1h0.7v0.7h-0.7zM42.7 212.3h0.7v0.7h-0.7zM35.8 205.5h0.7v0.7h-0.7zM39.7 208.8h0.7v0.7h-0.7zM42.3 209.7h0.7v0.7h-0.7zM38.0 209.5h0.7v0.7h-0.7z"/>
<path d="M41.7 206.2h0.7v0.7h-0.7zM35.2 206.8h0.7v0.7h-0.7zM42.9 203.4h0.7v0.7h-0.7zM40.4 206.7h0.7v0.7h-0.7zM28.5 206.6h0.7v0.7h-0.7zM27.6 203.1h0.7v0.7h-0.7zM36.9 217.0h0.7v0.7h-0.7zM30.9 204.8h0.7v0.7h-0.7zM40.7 205.3h0.7v0.7h-0.7zM38.4 212.5h0.7v0.7h-0.7zM35.4 206.2h0.7v0.7h-0.7zM27.9 210.8h0.7v0.7h-0.7zM42.2 207.5h0.7v0.7h-0.7zM43.2 215.2h0.7v0.7h-0.7zM33.3 206.2h0.7v0.7h-0.7zM32.4 210.1h0.7v0.7h-0.7zM31.7 205.0h0.7v0.7h-0.7zM43.3 211.7h0.7v0.7h-0.7zM28.9 208.0h0.7v0.7h-0.7zM30.0 207.2h0.7v0.7h-0.7zM26.8 211.6h0.7v0.7h-0.7zM42.7 204.7h0.7v0.7h-0.7zM43.0 204.3h0.7v0.7h-0.7zM42.1 205.2h0.7v0.7h-0.7zM26.9 216.3h0.7v0.7h-0.7zM36.0 208.5h0.7v0.7h-0.7zM37.3 217.5h0.7v0.7h-0.7zM37.2 207.3h0.7v0.7h-0.7zM36.4 212.2h0.7v0.7h-0.7zM37.5 211.2h0.7v0.7h-0.7zM42.7 204.2h0.7v0.7h-0.7zM43.0 211.8h0.7v0.7h-0.7zM28.9 208.7h0.7v0.7h-0.7zM32.1 207.4h0.7v0.7h-0.7zM41.1 203.3h0.7v0.7h-0.7zM40.7 205.9h0.7v0.7h-0.7zM40.0 210.6h0.7v0.7h-0.7zM28.9 206.6h0.7v0.7h-0.7zM37.9 215.5h0.7v0.7h-0.7zM28.6 209.7h0.7v0.7h-0.7z"/>
<path d="M39.7 206.8h0.7v0.7h-0.7zM27.1 205.2h0.7v0.7h-0.7zM38.0 213.1h0.7v0.7h-0.7zM30.4 216.1h0.7v0.7h-0.7zM35.8 212.6h0.7v0.7h-0.7zM34.4 204.9h0.7v0.7h-0.7zM33.1 213.5h0.7v0.7h-0.7zM29.6 206.1h0.7v0.7h-0.7zM36.0 214.9h0.7v0.7h-0.7zM33.6 204.8h0.7v0.7h-0.7zM26.9 210.9h0.7v0.7h-0.7zM42.2 204.6h0.7v0.7h-0.7zM31.0 208.5h0.7v0.7h-0.7zM37.1 204.1h0.7v0.7h-0.7zM35.3 207.2h0.7v0.7h-0.7zM38.8 204.0h0.7v0.7h-0.7zM31.6 205.0h0.7v0.7h-0.7zM42.9 213.5h0.7v0.7h-0.7zM39.6 215.4h0.7v0.7h-0.7zM37.6 216.4h0.7v0.7h-0.7zM41.5 205.3h0.7v0.7h-0.7zM36.4 208.4h0.7v0.7h-0.7zM29.0 208.7h0.7v0.7h-0.7zM25.3 205.6h0.7v0.7h-0.7zM32.0 213.7h0.7v0.7h-0.7zM37.5 212.3h0.7v0.7h-0.7zM27.7 209.9h0.7v0.7h-0.7zM33.9 210.7h0.7v0.7h-0.7zM43.5 206.7h0.7v0.7h-0.7zM40.7 217.6h0.7v0.7h-0.7zM33.7 215.9h0.7v0.7h-0.7zM27.1 206.3h0.7v0.7h-0.7zM25.8 209.7h0.7v0.7h-0.7zM36.6 206.2h0.7v0.7h-0.7zM40.0 205.3h0.7v0.7h-0.7zM27.0 209.6h0.7v0.7h-0.7zM31.8 209.3h0.7v0.7h-0.7zM27.0 211.1h0.7v0.7h-0.7zM38.6 203.6h0.7v0.7h-0.7zM43.4 214.5h0.7v0.7h-0.7z"/>
</g>
<g fill="#e23a28" fill-opacity="0.5">
<path d="M31.0 234.4h0.8v0.8h-0.8zM41.5 225.9h0.8v0.8h-0.8zM34.2 229.5h0.8v0.8h-0.8zM33.6 231.2h0.8v0.8h-0.8zM43.7 228.3h0.8v0.8h-0.8zM35.2 229.5h0.8v0.8h-0.8zM33.0 228.8h0.8v0.8h-0.8zM31.8 228.3h0.8v0.8h-0.8zM30.7 222.4h0.8v0.8h-0.8zM40.4 223.9h0.8v0.8h-0.8zM33.5 223.0h0.8v0.8h-0.8zM30.6 217.8h0.8v0.8h-0.8zM40.1 218.6h0.8v0.8h-0.8zM34.0 232.8h0.8v0.8h-0.8zM41.0 226.3h0.8v0.8h-0.8zM42.2 235.0h0.8v0.8h-0.8zM32.9 220.1h0.8v0.8h-0.8zM33.1 222.2h0.8v0.8h-0.8zM31.4 226.1h0.8v0.8h-0.8zM42.0 223.2h0.8v0.8h-0.8zM37.2 220.6h0.8v0.8h-0.8zM37.9 221.7h0.8v0.8h-0.8zM38.5 229.5h0.8v0.8h-0.8zM34.5 231.3h0.8v0.8h-0.8zM41.3 227.0h0.8v0.8h-0.8zM41.7 219.0h0.8v0.8h-0.8zM35.0 230.7h0.8v0.8h-0.8zM32.8 230.3h0.8v0.8h-0.8zM32.0 226.8h0.8v0.8h-0.8zM27.1 226.4h0.8v0.8h-0.8zM38.4 230.4h0.8v0.8h-0.8zM29.6 229.0h0.8v0.8h-0.8zM37.8 217.0h0.8v0.8h-0.8zM32.7 232.2h0.8v0.8h-0.8zM33.3 220.6h0.8v0.8h-0.8zM41.9 227.3h0.8v0.8h-0.8zM44.7 227.2h0.8v0.8h-0.8zM32.7 220.2h0.8v0.8h-0.8zM41.8 225.1h0.8v0.8h-0.8zM43.4 222.4h0.8v0.8h-0.8z"/>
<path d="M34.2 224.1h0.8v0.8h-0.8zM35.1 225.9h0.8v0.8h-0.8zM48.8 229.6h0.8v0.8h-0.8zM42.8 231.9h0.8v0.8h-0.8zM40.7 218.6h0.8v0.8h-0.8zM33.2 231.8h0.8v0.8h-0.8zM35.7 230.1h0.8v0.8h-0.8zM33.4 221.1h0.8v0.8h-0.8zM32.9 221.9h0.8v0.8h-0.8zM39.5 230.0h0.8v0.8h-0.8zM45.3 227.4h0.8v0.8h-0.8zM32.3 230.5h0.8v0.8h-0.8zM40.0 223.1h0.8v0.8h-0.8zM36.6 230.9h0.8v0.8h-0.8zM38.6 230.6h0.8v0.8h-0.8zM31.9 230.4h0.8v0.8h-0.8zM29.9 235.1h0.8v0.8h-0.8zM37.0 234.5h0.8v0.8h-0.8zM25.7 234.8h0.8v0.8h-0.8zM23.8 228.2h0.8v0.8h-0.8zM36.5 230.6h0.8v0.8h-0.8zM44.9 232.8h0.8v0.8h-0.8zM41.1 227.1h0.8v0.8h-0.8zM36.3 225.0h0.8v0.8h-0.8zM31.9 224.0h0.8v0.8h-0.8zM46.6 235.6h0.8v0.8h-0.8zM36.5 223.2h0.8v0.8h-0.8zM43.4 227.9h0.8v0.8h-0.8zM49.4 223.9h0.8v0.8h-0.8zM37.5 231.7h0.8v0.8h-0.8zM42.5 224.8h0.8v0.8h-0.8zM33.8 227.9h0.8v0.8h-0.8zM30.9 223.5h0.8v0.8h-0.8zM33.4 215.0h0.8v0.8h-0.8zM36.9 221.1h0.8v0.8h-0.8zM37.2 234.8h0.8v0.8h-0.8zM34.8 232.8h0.8v0.8h-0.8zM38.6 229.4h0.8v0.8h-0.8zM44.3 226.6h0.8v0.8h-0.8zM41.4 212.2h0.8v0.8h-0.8z"/>
<path d="M38.6 230.1h0.8v0.8h-0.8zM39.1 226.6h0.8v0.8h-0.8zM35.2 222.1h0.8v0.8h-0.8zM36.3 230.6h0.8v0.8h-0.8zM33.5 225.1h0.8v0.8h-0.8zM37.2 226.0h0.8v0.8h-0.8zM38.8 221.8h0.8v0.8h-0.8zM33.3 232.6h0.8v0.8h-0.8zM45.1 235.8h0.8v0.8h-0.8zM30.7 230.8h0.8v0.8h-0.8zM37.1 218.9h0.8v0.8h-0.8zM36.1 224.3h0.8v0.8h-0.8zM37.9 230.5h0.8v0.8h-0.8zM33.0 229.5h0.8v0.8h-0.8zM37.4 223.3h0.8v0.8h-0.8zM35.5 232.5h0.8v0.8h-0.8zM38.8 235.3h0.8v0.8h-0.8zM29.3 233.6h0.8v0.8h-0.8zM37.1 237.4h0.8v0.8h-0.8zM35.6 221.5h0.8v0.8h-0.8zM42.3 215.8h0.8v0.8h-0.8zM41.8 231.6h0.8v0.8h-0.8zM36.7 223.0h0.8v0.8h-0.8zM36.7 222.3h0.8v0.8h-0.8zM35.2 221.8h0.8v0.8h-0.8zM42.1 217.2h0.8v0.8h-0.8zM36.4 227.9h0.8v0.8h-0.8zM29.4 226.6h0.8v0.8h-0.8zM41.4 238.2h0.8v0.8h-0.8zM34.1 233.3h0.8v0.8h-0.8zM43.2 232.8h0.8v0.8h-0.8zM33.8 228.4h0.8v0.8h-0.8zM38.6 223.1h0.8v0.8h-0.8zM45.2 228.4h0.8v0.8h-0.8zM32.9 236.3h0.8v0.8h-0.8zM33.7 233.4h0.8v0.8h-0.8zM27.8 220.0h0.8v0.8h-0.8zM39.0 227.9h0.8v0.8h-0.8zM34.3 229.3h0.8v0.8h-0.8zM34.5 222.4h0.8v0.8h-0.8z"/>
<path d="M36.6 229.3h0.8v0.8h-0.8zM39.2 231.4h0.8v0.8h-0.8zM38.6 230.1h0.8v0.8h-0.8zM40.7 234.8h0.8v0.8h-0.8zM43.0 227.5h0.8v0.8h-0.8zM35.4 226.7h0.8v0.8h-0.8zM34.1 218.1h0.8v0.8h-0.8zM37.8 228.4h0.8v0.8h-0.8zM47.4 224.3h0.8v0.8h-0.8zM43.3 223.8h0.8v0.8h-0.8zM28.5 228.3h0.8v0.8h-0.8zM33.3 232.1h0.8v0.8h-0.8zM30.9 234.4h0.8v0.8h-0.8zM40.8 226.7h0.8v0.8h-0.8zM32.3 230.8h0.8v0.8h-0.8zM31.0 227.0h0.8v0.8h-0.8zM38.9 224.0h0.8v0.8h-0.8zM36.9 226.1h0.8v0.8h-0.8zM35.7 224.6h0.8v0.8h-0.8zM39.1 232.2h0.8v0.8h-0.8zM37.4 224.2h0.8v0.8h-0.8zM28.7 232.8h0.8v0.8h-0.8zM30.2 233.1h0.8v0.8h-0.8zM44.1 220.6h0.8v0.8h-0.8zM39.6 230.7h0.8v0.8h-0.8zM28.0 230.5h0.8v0.8h-0.8zM43.8 219.2h0.8v0.8h-0.8zM32.8 220.4h0.8v0.8h-0.8zM27.5 220.4h0.8v0.8h-0.8zM35.2 223.9h0.8v0.8h-0.8zM40.7 230.7h0.8v0.8h-0.8zM39.4 223.2h0.8v0.8h-0.8zM35.1 222.6h0.8v0.8h-0.8zM27.3 220.6h0.8v0.8h-0.8zM41.7 222.0h0.8v0.8h-0.8zM33.2 227.3h0.8v0.8h-0.8zM36.3 223.2h0.8v0.8h-0.8zM47.4 228.0h0.8v0.8h-0.8zM31.3 230.2h0.8v0.8h-0.8zM47.4 233.0h0.8v0.8h-0.8z"/>
<path d="M26.7 222.0h0.8v0.8h-0.8zM35.4 233.2h0.8v0.8h-0.8zM34.5 228.4h0.8v0.8h-0.8zM42.7 223.0h0.8v0.8h-0.8zM36.7 237.6h0.8v0.8h-0.8zM31.8 220.3h0.8v0.8h-0.8zM32.5 227.9h0.8v0.8h-0.8zM28.5 228.5h0.8v0.8h-0.8zM40.2 231.9h0.8v0.8h-0.8zM44.4 224.9h0.8v0.8h-0.8z"/>
</g>
<path d="M29.7,219.7 L35.7,218.1 L47.5,216.7 L43.1,227.1 L38.7,235.9 L31.2,237.4 L28.3,230.0 Z" fill="#e2412e" fill-opacity="0.5" filter="url(#blur2)"/>
<path d="M31.6,221.6 L35.9,220.5 L44.3,219.5 L41.2,226.9 L38.0,233.2 L32.7,234.3 L30.6,229.0 Z" fill="#d02014" fill-opacity="0.9" filter="url(#blur1)"/>
<path d="M33.7,223.8 L36.1,223.2 L40.7,222.6 L39.0,226.7 L37.2,230.2 L34.3,230.8 L33.2,227.8 Z" fill="#b40c08" fill-opacity="0.65" filter="url(#blur1)"/>
<g fill="#c8140c" fill-opacity="0.6">
<path d="M34.6 228.5h0.8v0.8h-0.8zM35.2 221.4h0.8v0.8h-0.8zM36.6 227.9h0.8v0.8h-0.8zM30.1 223.2h0.8v0.8h-0.8zM41.1 230.8h0.8v0.8h-0.8zM32.8 224.1h0.8v0.8h-0.8zM39.5 227.8h0.8v0.8h-0.8zM43.5 229.8h0.8v0.8h-0.8zM41.2 227.1h0.8v0.8h-0.8zM32.2 224.1h0.8v0.8h-0.8zM42.4 234.9h0.8v0.8h-0.8zM34.1 229.9h0.8v0.8h-0.8zM37.7 227.6h0.8v0.8h-0.8zM38.3 226.5h0.8v0.8h-0.8zM31.7 227.4h0.8v0.8h-0.8zM36.1 223.8h0.8v0.8h-0.8zM34.5 221.3h0.8v0.8h-0.8zM37.4 230.8h0.8v0.8h-0.8zM32.4 225.0h0.8v0.8h-0.8zM35.8 227.1h0.8v0.8h-0.8zM36.6 230.8h0.8v0.8h-0.8zM39.3 223.9h0.8v0.8h-0.8zM36.0 232.0h0.8v0.8h-0.8zM34.2 236.3h0.8v0.8h-0.8zM34.4 220.7h0.8v0.8h-0.8zM35.3 228.7h0.8v0.8h-0.8zM37.0 225.4h0.8v0.8h-0.8zM39.6 222.7h0.8v0.8h-0.8zM39.1 224.1h0.8v0.8h-0.8zM36.1 226.8h0.8v0.8h-0.8zM36.2 229.2h0.8v0.8h-0.8zM39.9 229.2h0.8v0.8h-0.8zM39.7 229.1h0.8v0.8h-0.8zM37.6 229.4h0.8v0.8h-0.8zM39.3 217.7h0.8v0.8h-0.8zM33.7 223.9h0.8v0.8h-0.8zM37.9 230.8h0.8v0.8h-0.8zM37.4 226.6h0.8v0.8h-0.8zM34.9 229.3h0.8v0.8h-0.8zM36.8 229.5h0.8v0.8h-0.8z"/>
<path d="M36.2 224.3h0.8v0.8h-0.8zM39.1 227.2h0.8v0.8h-0.8zM35.8 224.3h0.8v0.8h-0.8zM36.6 226.3h0.8v0.8h-0.8zM38.8 227.2h0.8v0.8h-0.8zM36.3 224.4h0.8v0.8h-0.8zM40.2 228.0h0.8v0.8h-0.8zM40.2 231.8h0.8v0.8h-0.8zM36.7 228.6h0.8v0.8h-0.8zM32.6 226.4h0.8v0.8h-0.8zM33.5 223.2h0.8v0.8h-0.8zM42.7 229.9h0.8v0.8h-0.8zM38.3 222.1h0.8v0.8h-0.8zM39.0 227.6h0.8v0.8h-0.8zM38.2 234.5h0.8v0.8h-0.8zM36.1 231.0h0.8v0.8h-0.8zM37.7 233.0h0.8v0.8h-0.8zM38.9 230.2h0.8v0.8h-0.8zM36.6 224.2h0.8v0.8h-0.8zM37.0 231.6h0.8v0.8h-0.8zM38.3 232.7h0.8v0.8h-0.8zM37.4 225.1h0.8v0.8h-0.8zM39.3 228.6h0.8v0.8h-0.8zM42.3 228.0h0.8v0.8h-0.8zM40.4 226.1h0.8v0.8h-0.8zM32.5 226.8h0.8v0.8h-0.8zM34.1 230.8h0.8v0.8h-0.8zM32.1 223.0h0.8v0.8h-0.8zM36.0 229.4h0.8v0.8h-0.8zM35.6 227.9h0.8v0.8h-0.8zM35.1 231.4h0.8v0.8h-0.8zM39.0 223.8h0.8v0.8h-0.8zM41.7 227.0h0.8v0.8h-0.8zM42.7 226.8h0.8v0.8h-0.8zM35.6 229.4h0.8v0.8h-0.8zM34.9 222.1h0.8v0.8h-0.8zM31.9 231.1h0.8v0.8h-0.8zM33.1 222.4h0.8v0.8h-0.8zM42.2 227.6h0.8v0.8h-0.8zM38.1 225.7h0.8v0.8h-0.8z"/>
</g>
</g>
<rect x="23.70" y="195.30" width="47.90" height="44.30" fill="none" stroke="#a8a8a8" stroke-width="0.8"/>
<line x1="45.70" y1="195.30" x2="45.70" y2="239.60" stroke="#999999" stroke-width="0.9"/>
<line x1="23.70" y1="219.50" x2="71.60" y2="219.50" stroke="#999999" stroke-width="0.9"/>
<line x1="22.10" y1="199.73" x2="23.70" y2="199.73" stroke="#666" stroke-width="0.6"/>
<line x1="22.10" y1="209.48" x2="23.70" y2="209.48" stroke="#666" stroke-width="0.6"/>
<line x1="22.10" y1="219.66" x2="23.70" y2="219.66" stroke="#666" stroke-width="0.6"/>
<line x1="22.10" y1="229.85" x2="23.70" y2="229.85" stroke="#666" stroke-width="0.6"/>
<line x1="22.10" y1="236.06" x2="23.70" y2="236.06" stroke="#666" stroke-width="0.6"/>
<line x1="27.53" y1="239.60" x2="27.53" y2="241.00" stroke="#888" stroke-width="0.5"/>
<line x1="33.28" y1="239.60" x2="33.28" y2="241.00" stroke="#888" stroke-width="0.5"/>
<line x1="38.07" y1="239.60" x2="38.07" y2="241.00" stroke="#888" stroke-width="0.5"/>
<line x1="45.25" y1="239.60" x2="45.25" y2="241.00" stroke="#888" stroke-width="0.5"/>
<line x1="50.05" y1="239.60" x2="50.05" y2="241.00" stroke="#888" stroke-width="0.5"/>
<line x1="57.23" y1="239.60" x2="57.23" y2="241.00" stroke="#888" stroke-width="0.5"/>
<line x1="62.02" y1="239.60" x2="62.02" y2="241.00" stroke="#888" stroke-width="0.5"/>
<line x1="69.20" y1="239.60" x2="69.20" y2="241.00" stroke="#888" stroke-width="0.5"/>
<rect x="36.5" y="213.0" width="2.6" height="1.6" fill="#555" fill-opacity="0.55"/>
<rect x="49.2" y="213.0" width="2.6" height="1.6" fill="#555" fill-opacity="0.55"/>
<rect x="36.5" y="226.7" width="2.6" height="1.6" fill="#555" fill-opacity="0.55"/>
<rect x="49.2" y="226.7" width="2.6" height="1.6" fill="#555" fill-opacity="0.55"/>
<text x="23.90" y="202.10" font-size="8" textLength="21.60" lengthAdjust="spacingAndGlyphs" fill="#111" stroke="#111">21.0%</text>
<clipPath id="clip81_195"><rect x="81.6" y="195.3" width="48.70000000000002" height="44.29999999999998"/></clipPath>
<g clip-path="url(#clip81_195)">
<ellipse cx="103" cy="214" rx="7" ry="11" transform="rotate(15 103 214)" fill="#f0a090" fill-opacity="0.45" filter="url(#blur2)"/>
<ellipse cx="104" cy="215" rx="3.5" ry="7" transform="rotate(20 104 215)" fill="#e87060" fill-opacity="0.45" filter="url(#blur2)"/>
<g fill="#e23a28" fill-opacity="0.4">
<path d="M106.2 209.7h0.7v0.7h-0.7zM111.1 204.3h0.7v0.7h-0.7zM104.8 211.4h0.7v0.7h-0.7zM102.7 223.1h0.7v0.7h-0.7zM101.4 221.2h0.7v0.7h-0.7zM114.0 212.6h0.7v0.7h-0.7zM103.5 218.1h0.7v0.7h-0.7zM106.6 205.1h0.7v0.7h-0.7zM114.5 218.2h0.7v0.7h-0.7zM103.1 217.0h0.7v0.7h-0.7zM111.9 206.8h0.7v0.7h-0.7zM106.4 220.9h0.7v0.7h-0.7zM119.7 209.4h0.7v0.7h-0.7zM112.5 208.4h0.7v0.7h-0.7zM108.1 212.3h0.7v0.7h-0.7zM104.5 199.6h0.7v0.7h-0.7zM108.0 205.9h0.7v0.7h-0.7zM109.9 204.8h0.7v0.7h-0.7zM113.9 209.0h0.7v0.7h-0.7zM106.0 211.2h0.7v0.7h-0.7zM98.2 220.4h0.7v0.7h-0.7zM106.7 215.2h0.7v0.7h-0.7zM115.6 202.1h0.7v0.7h-0.7zM97.3 213.0h0.7v0.7h-0.7zM105.8 221.0h0.7v0.7h-0.7zM107.3 212.4h0.7v0.7h-0.7zM101.2 201.6h0.7v0.7h-0.7zM97.7 214.9h0.7v0.7h-0.7zM103.5 209.4h0.7v0.7h-0.7zM100.0 218.0h0.7v0.7h-0.7zM105.6 217.0h0.7v0.7h-0.7zM109.6 204.5h0.7v0.7h-0.7zM100.6 215.5h0.7v0.7h-0.7zM99.3 212.5h0.7v0.7h-0.7zM99.5 201.9h0.7v0.7h-0.7zM99.0 218.2h0.7v0.7h-0.7zM110.6 202.5h0.7v0.7h-0.7zM103.2 207.5h0.7v0.7h-0.7zM104.8 213.2h0.7v0.7h-0.7zM110.6 215.1h0.7v0.7h-0.7z"/>
<path d="M105.2 216.4h0.7v0.7h-0.7zM110.4 198.6h0.7v0.7h-0.7zM106.7 221.2h0.7v0.7h-0.7zM109.5 206.8h0.7v0.7h-0.7zM113.3 209.8h0.7v0.7h-0.7zM103.1 217.0h0.7v0.7h-0.7zM106.6 211.3h0.7v0.7h-0.7zM114.7 203.5h0.7v0.7h-0.7zM94.8 220.5h0.7v0.7h-0.7zM102.1 222.8h0.7v0.7h-0.7zM105.8 222.4h0.7v0.7h-0.7zM104.5 220.8h0.7v0.7h-0.7zM114.8 220.4h0.7v0.7h-0.7zM101.0 208.8h0.7v0.7h-0.7zM100.9 226.9h0.7v0.7h-0.7zM96.9 212.9h0.7v0.7h-0.7zM106.8 216.9h0.7v0.7h-0.7zM93.5 214.6h0.7v0.7h-0.7zM102.8 216.3h0.7v0.7h-0.7zM100.2 212.0h0.7v0.7h-0.7zM104.9 215.4h0.7v0.7h-0.7zM97.9 213.6h0.7v0.7h-0.7zM99.3 225.1h0.7v0.7h-0.7zM106.2 216.9h0.7v0.7h-0.7zM99.5 213.2h0.7v0.7h-0.7zM107.5 213.7h0.7v0.7h-0.7zM90.8 215.9h0.7v0.7h-0.7zM99.8 212.4h0.7v0.7h-0.7zM88.0 213.5h0.7v0.7h-0.7zM106.4 209.1h0.7v0.7h-0.7zM110.5 223.9h0.7v0.7h-0.7zM101.7 216.7h0.7v0.7h-0.7zM94.5 218.1h0.7v0.7h-0.7zM94.7 221.9h0.7v0.7h-0.7zM110.5 211.6h0.7v0.7h-0.7zM109.3 208.7h0.7v0.7h-0.7zM107.5 221.1h0.7v0.7h-0.7zM99.2 227.1h0.7v0.7h-0.7zM108.5 210.2h0.7v0.7h-0.7zM103.2 211.7h0.7v0.7h-0.7z"/>
<path d="M98.2 207.5h0.7v0.7h-0.7zM104.9 213.1h0.7v0.7h-0.7zM102.5 226.3h0.7v0.7h-0.7zM100.5 207.8h0.7v0.7h-0.7zM104.9 214.0h0.7v0.7h-0.7zM105.2 211.8h0.7v0.7h-0.7zM100.5 224.7h0.7v0.7h-0.7zM109.4 219.9h0.7v0.7h-0.7zM96.8 225.3h0.7v0.7h-0.7zM101.0 209.9h0.7v0.7h-0.7zM109.9 199.0h0.7v0.7h-0.7zM104.4 211.0h0.7v0.7h-0.7zM101.1 214.5h0.7v0.7h-0.7zM98.9 214.9h0.7v0.7h-0.7zM94.6 208.9h0.7v0.7h-0.7zM106.2 201.1h0.7v0.7h-0.7zM107.2 218.2h0.7v0.7h-0.7zM95.0 218.1h0.7v0.7h-0.7zM103.6 213.5h0.7v0.7h-0.7zM107.0 209.8h0.7v0.7h-0.7zM108.8 217.8h0.7v0.7h-0.7zM92.6 206.9h0.7v0.7h-0.7zM106.8 206.8h0.7v0.7h-0.7zM108.8 199.5h0.7v0.7h-0.7zM99.1 212.3h0.7v0.7h-0.7zM100.9 201.0h0.7v0.7h-0.7zM104.1 203.8h0.7v0.7h-0.7zM104.2 225.1h0.7v0.7h-0.7zM98.8 205.6h0.7v0.7h-0.7zM101.6 214.2h0.7v0.7h-0.7zM100.2 223.6h0.7v0.7h-0.7zM103.9 220.0h0.7v0.7h-0.7zM100.3 215.6h0.7v0.7h-0.7zM99.9 221.5h0.7v0.7h-0.7zM110.9 209.7h0.7v0.7h-0.7zM105.5 219.3h0.7v0.7h-0.7zM103.0 214.0h0.7v0.7h-0.7zM104.1 202.4h0.7v0.7h-0.7zM102.7 215.2h0.7v0.7h-0.7zM99.9 219.6h0.7v0.7h-0.7z"/>
<path d="M102.7 211.3h0.7v0.7h-0.7zM104.0 225.0h0.7v0.7h-0.7zM108.4 218.0h0.7v0.7h-0.7zM98.8 217.9h0.7v0.7h-0.7zM98.5 216.6h0.7v0.7h-0.7zM110.0 199.3h0.7v0.7h-0.7zM97.9 207.6h0.7v0.7h-0.7zM105.0 211.4h0.7v0.7h-0.7zM101.8 214.0h0.7v0.7h-0.7zM107.5 198.8h0.7v0.7h-0.7zM104.7 220.6h0.7v0.7h-0.7zM100.5 206.7h0.7v0.7h-0.7zM106.8 217.7h0.7v0.7h-0.7zM97.4 221.5h0.7v0.7h-0.7zM105.0 212.6h0.7v0.7h-0.7zM98.5 210.6h0.7v0.7h-0.7zM99.9 216.5h0.7v0.7h-0.7zM100.5 214.5h0.7v0.7h-0.7zM102.7 208.1h0.7v0.7h-0.7zM106.4 210.7h0.7v0.7h-0.7zM102.5 218.7h0.7v0.7h-0.7zM105.4 199.9h0.7v0.7h-0.7zM108.5 208.6h0.7v0.7h-0.7zM101.6 208.1h0.7v0.7h-0.7zM101.0 212.6h0.7v0.7h-0.7zM107.9 209.4h0.7v0.7h-0.7zM100.7 213.8h0.7v0.7h-0.7zM100.1 212.8h0.7v0.7h-0.7zM104.9 214.2h0.7v0.7h-0.7zM101.2 216.0h0.7v0.7h-0.7zM102.5 222.6h0.7v0.7h-0.7zM107.8 219.8h0.7v0.7h-0.7zM98.5 205.0h0.7v0.7h-0.7zM97.1 221.7h0.7v0.7h-0.7zM96.8 222.4h0.7v0.7h-0.7zM106.0 214.4h0.7v0.7h-0.7zM102.7 201.3h0.7v0.7h-0.7zM102.4 216.3h0.7v0.7h-0.7zM97.6 211.9h0.7v0.7h-0.7zM99.1 204.5h0.7v0.7h-0.7z"/>
<path d="M95.7 224.2h0.7v0.7h-0.7zM103.6 208.5h0.7v0.7h-0.7zM101.5 222.1h0.7v0.7h-0.7zM112.0 204.1h0.7v0.7h-0.7zM97.9 210.8h0.7v0.7h-0.7zM95.2 212.3h0.7v0.7h-0.7zM109.8 217.5h0.7v0.7h-0.7zM97.3 211.5h0.7v0.7h-0.7zM105.1 211.6h0.7v0.7h-0.7zM92.0 209.6h0.7v0.7h-0.7zM100.5 224.1h0.7v0.7h-0.7zM98.4 225.8h0.7v0.7h-0.7zM102.2 210.5h0.7v0.7h-0.7zM104.4 219.9h0.7v0.7h-0.7zM94.0 216.3h0.7v0.7h-0.7zM109.4 212.2h0.7v0.7h-0.7zM106.2 219.5h0.7v0.7h-0.7zM105.0 213.5h0.7v0.7h-0.7zM99.0 215.1h0.7v0.7h-0.7zM102.1 209.5h0.7v0.7h-0.7zM105.5 216.1h0.7v0.7h-0.7zM98.5 211.5h0.7v0.7h-0.7zM105.9 210.3h0.7v0.7h-0.7zM100.4 198.9h0.7v0.7h-0.7zM108.0 216.8h0.7v0.7h-0.7zM102.3 221.2h0.7v0.7h-0.7zM99.3 226.1h0.7v0.7h-0.7zM96.9 234.5h0.7v0.7h-0.7zM102.5 220.1h0.7v0.7h-0.7zM102.2 210.7h0.7v0.7h-0.7zM103.4 220.3h0.7v0.7h-0.7zM101.6 201.3h0.7v0.7h-0.7zM100.6 210.0h0.7v0.7h-0.7zM93.0 202.8h0.7v0.7h-0.7zM100.8 216.2h0.7v0.7h-0.7zM107.4 217.2h0.7v0.7h-0.7zM114.9 211.4h0.7v0.7h-0.7zM103.2 208.7h0.7v0.7h-0.7zM99.8 216.9h0.7v0.7h-0.7zM94.4 216.7h0.7v0.7h-0.7z"/>
<path d="M108.1 217.2h0.7v0.7h-0.7zM101.8 224.2h0.7v0.7h-0.7zM108.1 202.6h0.7v0.7h-0.7zM93.9 225.1h0.7v0.7h-0.7zM106.7 215.6h0.7v0.7h-0.7zM104.9 223.9h0.7v0.7h-0.7zM96.5 213.3h0.7v0.7h-0.7zM104.7 215.7h0.7v0.7h-0.7zM105.8 203.5h0.7v0.7h-0.7zM108.3 211.4h0.7v0.7h-0.7zM100.2 208.5h0.7v0.7h-0.7zM106.9 210.5h0.7v0.7h-0.7zM94.7 212.5h0.7v0.7h-0.7zM98.1 218.6h0.7v0.7h-0.7zM109.7 227.3h0.7v0.7h-0.7zM97.8 212.5h0.7v0.7h-0.7zM103.7 221.1h0.7v0.7h-0.7zM100.2 217.3h0.7v0.7h-0.7zM98.8 218.4h0.7v0.7h-0.7zM102.4 211.5h0.7v0.7h-0.7zM112.1 215.8h0.7v0.7h-0.7zM108.0 215.9h0.7v0.7h-0.7zM103.4 211.9h0.7v0.7h-0.7zM115.7 204.5h0.7v0.7h-0.7zM106.0 217.7h0.7v0.7h-0.7zM107.0 213.8h0.7v0.7h-0.7zM105.8 200.8h0.7v0.7h-0.7zM108.2 215.6h0.7v0.7h-0.7zM95.7 224.7h0.7v0.7h-0.7zM107.7 220.8h0.7v0.7h-0.7zM108.9 217.2h0.7v0.7h-0.7zM91.8 213.8h0.7v0.7h-0.7zM111.9 215.2h0.7v0.7h-0.7zM103.4 206.9h0.7v0.7h-0.7zM100.0 208.8h0.7v0.7h-0.7zM107.7 194.1h0.7v0.7h-0.7zM102.5 210.2h0.7v0.7h-0.7zM98.3 209.7h0.7v0.7h-0.7zM107.3 211.0h0.7v0.7h-0.7zM95.5 219.2h0.7v0.7h-0.7z"/>
<path d="M100.1 207.7h0.7v0.7h-0.7zM101.1 210.2h0.7v0.7h-0.7zM106.1 219.3h0.7v0.7h-0.7zM96.2 209.8h0.7v0.7h-0.7zM98.6 217.0h0.7v0.7h-0.7zM113.9 212.5h0.7v0.7h-0.7zM101.6 228.4h0.7v0.7h-0.7zM101.7 215.8h0.7v0.7h-0.7zM106.9 205.9h0.7v0.7h-0.7zM108.4 212.0h0.7v0.7h-0.7zM107.0 217.0h0.7v0.7h-0.7zM103.2 208.7h0.7v0.7h-0.7zM102.4 209.1h0.7v0.7h-0.7zM102.9 212.9h0.7v0.7h-0.7zM103.4 209.1h0.7v0.7h-0.7zM90.4 223.9h0.7v0.7h-0.7zM104.0 216.1h0.7v0.7h-0.7zM112.0 213.7h0.7v0.7h-0.7zM98.8 209.0h0.7v0.7h-0.7zM95.9 214.9h0.7v0.7h-0.7zM105.0 210.7h0.7v0.7h-0.7zM97.8 219.8h0.7v0.7h-0.7zM103.4 217.2h0.7v0.7h-0.7zM99.2 195.4h0.7v0.7h-0.7zM106.2 208.6h0.7v0.7h-0.7zM90.9 230.5h0.7v0.7h-0.7zM108.1 205.9h0.7v0.7h-0.7zM104.7 216.4h0.7v0.7h-0.7zM104.8 207.1h0.7v0.7h-0.7zM102.5 209.9h0.7v0.7h-0.7zM102.9 205.4h0.7v0.7h-0.7zM104.2 216.9h0.7v0.7h-0.7zM101.1 221.3h0.7v0.7h-0.7zM93.3 206.8h0.7v0.7h-0.7zM102.9 218.7h0.7v0.7h-0.7zM100.0 212.1h0.7v0.7h-0.7zM108.4 215.8h0.7v0.7h-0.7zM95.8 218.0h0.7v0.7h-0.7zM101.2 213.3h0.7v0.7h-0.7zM100.8 214.7h0.7v0.7h-0.7z"/>
<path d="M109.4 222.8h0.7v0.7h-0.7zM115.4 206.6h0.7v0.7h-0.7zM105.0 203.9h0.7v0.7h-0.7zM97.4 212.3h0.7v0.7h-0.7zM95.5 226.3h0.7v0.7h-0.7zM92.0 214.9h0.7v0.7h-0.7zM99.6 217.6h0.7v0.7h-0.7zM100.6 204.1h0.7v0.7h-0.7zM99.6 213.6h0.7v0.7h-0.7zM107.3 220.7h0.7v0.7h-0.7zM106.1 226.1h0.7v0.7h-0.7zM95.0 215.0h0.7v0.7h-0.7zM97.5 229.3h0.7v0.7h-0.7zM97.8 236.5h0.7v0.7h-0.7zM108.7 220.5h0.7v0.7h-0.7zM95.3 229.4h0.7v0.7h-0.7zM98.9 205.2h0.7v0.7h-0.7zM96.4 208.4h0.7v0.7h-0.7zM100.2 220.7h0.7v0.7h-0.7zM102.7 211.6h0.7v0.7h-0.7zM101.0 218.5h0.7v0.7h-0.7zM103.3 219.4h0.7v0.7h-0.7zM108.4 217.0h0.7v0.7h-0.7zM94.8 217.9h0.7v0.7h-0.7zM109.7 213.2h0.7v0.7h-0.7zM101.0 199.7h0.7v0.7h-0.7zM108.4 213.5h0.7v0.7h-0.7zM107.7 209.1h0.7v0.7h-0.7zM99.2 214.4h0.7v0.7h-0.7zM104.3 208.5h0.7v0.7h-0.7zM99.1 220.7h0.7v0.7h-0.7zM111.2 217.7h0.7v0.7h-0.7zM105.5 214.7h0.7v0.7h-0.7zM111.4 208.2h0.7v0.7h-0.7zM106.1 215.6h0.7v0.7h-0.7zM102.0 214.5h0.7v0.7h-0.7zM101.6 220.7h0.7v0.7h-0.7zM104.6 214.1h0.7v0.7h-0.7zM103.3 209.0h0.7v0.7h-0.7zM102.7 213.1h0.7v0.7h-0.7z"/>
<path d="M107.6 197.6h0.7v0.7h-0.7zM112.5 224.5h0.7v0.7h-0.7zM106.8 209.9h0.7v0.7h-0.7zM102.5 214.0h0.7v0.7h-0.7zM103.1 216.4h0.7v0.7h-0.7zM99.8 218.0h0.7v0.7h-0.7zM104.2 215.5h0.7v0.7h-0.7zM103.0 216.5h0.7v0.7h-0.7zM106.0 226.0h0.7v0.7h-0.7zM100.9 214.9h0.7v0.7h-0.7zM105.8 211.2h0.7v0.7h-0.7zM102.7 216.2h0.7v0.7h-0.7zM107.4 208.0h0.7v0.7h-0.7zM99.3 208.5h0.7v0.7h-0.7zM112.4 203.1h0.7v0.7h-0.7zM107.1 206.0h0.7v0.7h-0.7zM103.2 208.9h0.7v0.7h-0.7zM108.4 208.4h0.7v0.7h-0.7zM106.8 216.1h0.7v0.7h-0.7zM107.2 213.0h0.7v0.7h-0.7zM109.0 231.1h0.7v0.7h-0.7zM96.4 216.7h0.7v0.7h-0.7zM99.5 217.7h0.7v0.7h-0.7zM94.2 227.9h0.7v0.7h-0.7zM95.5 212.8h0.7v0.7h-0.7zM101.3 209.7h0.7v0.7h-0.7zM114.0 207.3h0.7v0.7h-0.7zM103.5 216.0h0.7v0.7h-0.7zM103.7 209.8h0.7v0.7h-0.7zM108.3 208.8h0.7v0.7h-0.7zM99.5 212.4h0.7v0.7h-0.7zM99.8 210.9h0.7v0.7h-0.7zM108.5 216.4h0.7v0.7h-0.7zM109.8 207.6h0.7v0.7h-0.7zM93.4 214.6h0.7v0.7h-0.7zM105.7 216.3h0.7v0.7h-0.7zM102.0 215.0h0.7v0.7h-0.7zM108.2 222.8h0.7v0.7h-0.7zM95.8 214.2h0.7v0.7h-0.7zM103.2 229.6h0.7v0.7h-0.7z"/>
<path d="M107.5 211.9h0.7v0.7h-0.7zM102.7 220.7h0.7v0.7h-0.7zM100.2 220.7h0.7v0.7h-0.7zM102.9 201.8h0.7v0.7h-0.7zM109.8 209.5h0.7v0.7h-0.7zM108.5 205.4h0.7v0.7h-0.7zM104.9 216.8h0.7v0.7h-0.7zM102.3 217.5h0.7v0.7h-0.7zM99.7 224.6h0.7v0.7h-0.7zM104.9 206.0h0.7v0.7h-0.7zM97.4 209.4h0.7v0.7h-0.7zM102.9 206.5h0.7v0.7h-0.7zM97.5 219.7h0.7v0.7h-0.7zM101.3 211.5h0.7v0.7h-0.7zM97.1 214.7h0.7v0.7h-0.7zM104.8 208.1h0.7v0.7h-0.7zM111.0 213.0h0.7v0.7h-0.7zM100.7 207.0h0.7v0.7h-0.7zM103.5 220.4h0.7v0.7h-0.7zM99.0 221.1h0.7v0.7h-0.7zM103.7 214.9h0.7v0.7h-0.7zM103.6 214.1h0.7v0.7h-0.7zM99.7 220.6h0.7v0.7h-0.7zM107.4 214.6h0.7v0.7h-0.7zM99.5 221.8h0.7v0.7h-0.7zM99.3 201.6h0.7v0.7h-0.7zM103.0 211.1h0.7v0.7h-0.7zM113.7 207.1h0.7v0.7h-0.7zM107.6 224.0h0.7v0.7h-0.7zM112.5 208.9h0.7v0.7h-0.7zM107.3 212.4h0.7v0.7h-0.7zM100.3 203.1h0.7v0.7h-0.7zM108.4 206.3h0.7v0.7h-0.7zM110.0 208.3h0.7v0.7h-0.7zM91.5 223.5h0.7v0.7h-0.7zM100.7 215.3h0.7v0.7h-0.7zM107.8 211.4h0.7v0.7h-0.7zM109.6 200.2h0.7v0.7h-0.7zM107.3 203.5h0.7v0.7h-0.7zM98.4 221.0h0.7v0.7h-0.7z"/>
<path d="M94.2 220.4h0.7v0.7h-0.7zM99.1 220.7h0.7v0.7h-0.7zM104.3 210.6h0.7v0.7h-0.7zM106.8 205.4h0.7v0.7h-0.7zM102.6 203.3h0.7v0.7h-0.7zM99.3 229.3h0.7v0.7h-0.7zM101.1 208.5h0.7v0.7h-0.7zM104.7 217.7h0.7v0.7h-0.7zM106.4 216.3h0.7v0.7h-0.7zM103.4 215.6h0.7v0.7h-0.7zM104.7 215.6h0.7v0.7h-0.7zM102.6 217.3h0.7v0.7h-0.7zM101.4 217.0h0.7v0.7h-0.7zM104.2 222.9h0.7v0.7h-0.7zM95.9 220.4h0.7v0.7h-0.7zM101.0 224.7h0.7v0.7h-0.7zM100.0 221.3h0.7v0.7h-0.7zM102.1 217.2h0.7v0.7h-0.7zM106.6 214.9h0.7v0.7h-0.7zM109.4 215.9h0.7v0.7h-0.7zM104.7 215.7h0.7v0.7h-0.7zM102.1 218.9h0.7v0.7h-0.7zM98.8 217.9h0.7v0.7h-0.7zM97.0 224.9h0.7v0.7h-0.7zM92.9 222.6h0.7v0.7h-0.7zM104.0 198.9h0.7v0.7h-0.7zM98.4 215.7h0.7v0.7h-0.7zM91.6 197.3h0.7v0.7h-0.7zM107.8 220.9h0.7v0.7h-0.7zM107.9 206.5h0.7v0.7h-0.7zM109.9 235.2h0.7v0.7h-0.7zM94.2 227.2h0.7v0.7h-0.7zM100.6 214.0h0.7v0.7h-0.7zM99.5 211.7h0.7v0.7h-0.7zM95.7 227.3h0.7v0.7h-0.7zM109.4 209.8h0.7v0.7h-0.7zM101.6 204.1h0.7v0.7h-0.7zM94.4 215.9h0.7v0.7h-0.7zM95.4 196.8h0.7v0.7h-0.7zM110.0 200.5h0.7v0.7h-0.7z"/>
<path d="M107.6 217.2h0.7v0.7h-0.7zM103.9 219.7h0.7v0.7h-0.7zM109.6 222.7h0.7v0.7h-0.7zM96.6 215.0h0.7v0.7h-0.7zM109.6 204.0h0.7v0.7h-0.7zM104.2 212.8h0.7v0.7h-0.7zM105.9 220.0h0.7v0.7h-0.7zM94.4 200.2h0.7v0.7h-0.7zM100.6 216.8h0.7v0.7h-0.7zM102.1 217.8h0.7v0.7h-0.7zM105.3 204.9h0.7v0.7h-0.7zM99.7 226.2h0.7v0.7h-0.7zM99.9 216.6h0.7v0.7h-0.7zM108.8 221.4h0.7v0.7h-0.7zM109.2 204.9h0.7v0.7h-0.7zM115.8 212.4h0.7v0.7h-0.7zM105.5 214.8h0.7v0.7h-0.7zM97.5 212.3h0.7v0.7h-0.7zM100.0 217.5h0.7v0.7h-0.7zM96.5 233.3h0.7v0.7h-0.7zM98.1 213.0h0.7v0.7h-0.7zM105.7 202.1h0.7v0.7h-0.7zM108.7 202.6h0.7v0.7h-0.7zM100.4 218.7h0.7v0.7h-0.7zM95.4 211.8h0.7v0.7h-0.7zM97.7 229.4h0.7v0.7h-0.7zM104.5 218.3h0.7v0.7h-0.7zM100.0 216.4h0.7v0.7h-0.7zM104.5 219.3h0.7v0.7h-0.7zM109.1 216.2h0.7v0.7h-0.7zM100.9 212.1h0.7v0.7h-0.7zM104.7 206.5h0.7v0.7h-0.7zM95.0 207.1h0.7v0.7h-0.7zM100.8 213.4h0.7v0.7h-0.7zM100.7 217.3h0.7v0.7h-0.7zM106.5 211.2h0.7v0.7h-0.7zM106.7 218.7h0.7v0.7h-0.7zM95.9 223.8h0.7v0.7h-0.7zM106.1 215.6h0.7v0.7h-0.7zM101.3 216.9h0.7v0.7h-0.7z"/>
</g>
<g fill="#e23a28" fill-opacity="0.45">
<path d="M94.3 236.3h0.7v0.7h-0.7zM105.6 220.0h0.7v0.7h-0.7zM108.8 220.7h0.7v0.7h-0.7zM108.9 226.2h0.7v0.7h-0.7zM91.1 230.8h0.7v0.7h-0.7zM99.3 229.4h0.7v0.7h-0.7zM111.2 222.6h0.7v0.7h-0.7zM103.1 231.2h0.7v0.7h-0.7zM96.2 232.6h0.7v0.7h-0.7zM102.2 227.3h0.7v0.7h-0.7zM102.1 220.3h0.7v0.7h-0.7zM103.6 219.5h0.7v0.7h-0.7zM99.3 227.3h0.7v0.7h-0.7zM103.7 238.0h0.7v0.7h-0.7zM105.9 236.2h0.7v0.7h-0.7zM106.1 230.2h0.7v0.7h-0.7zM107.4 219.8h0.7v0.7h-0.7zM102.4 227.6h0.7v0.7h-0.7zM102.4 229.8h0.7v0.7h-0.7zM89.8 235.8h0.7v0.7h-0.7zM109.5 233.6h0.7v0.7h-0.7zM104.2 223.8h0.7v0.7h-0.7zM104.4 218.9h0.7v0.7h-0.7zM105.5 227.0h0.7v0.7h-0.7zM93.0 230.6h0.7v0.7h-0.7zM105.9 233.7h0.7v0.7h-0.7zM100.5 227.5h0.7v0.7h-0.7zM99.7 226.0h0.7v0.7h-0.7zM108.0 227.0h0.7v0.7h-0.7zM112.0 219.0h0.7v0.7h-0.7zM115.8 215.7h0.7v0.7h-0.7zM110.5 216.9h0.7v0.7h-0.7zM88.5 233.9h0.7v0.7h-0.7zM107.4 223.4h0.7v0.7h-0.7zM101.0 229.9h0.7v0.7h-0.7zM95.0 225.9h0.7v0.7h-0.7zM102.1 228.8h0.7v0.7h-0.7zM104.6 235.9h0.7v0.7h-0.7zM106.5 222.3h0.7v0.7h-0.7zM111.3 218.2h0.7v0.7h-0.7z"/>
<path d="M101.8 226.7h0.7v0.7h-0.7zM99.3 231.4h0.7v0.7h-0.7zM107.8 220.8h0.7v0.7h-0.7zM105.3 221.5h0.7v0.7h-0.7zM103.4 232.8h0.7v0.7h-0.7zM108.0 224.4h0.7v0.7h-0.7zM103.8 229.6h0.7v0.7h-0.7zM102.2 221.0h0.7v0.7h-0.7zM97.9 224.8h0.7v0.7h-0.7zM105.9 228.5h0.7v0.7h-0.7zM109.1 227.8h0.7v0.7h-0.7zM103.8 229.1h0.7v0.7h-0.7zM102.4 224.7h0.7v0.7h-0.7zM106.0 222.6h0.7v0.7h-0.7zM90.0 226.5h0.7v0.7h-0.7zM109.6 231.9h0.7v0.7h-0.7zM104.0 232.6h0.7v0.7h-0.7zM99.5 233.4h0.7v0.7h-0.7zM95.6 226.2h0.7v0.7h-0.7zM101.9 234.9h0.7v0.7h-0.7zM103.7 220.9h0.7v0.7h-0.7zM99.4 232.6h0.7v0.7h-0.7zM109.0 227.7h0.7v0.7h-0.7zM105.6 229.8h0.7v0.7h-0.7zM104.8 222.7h0.7v0.7h-0.7zM104.1 233.6h0.7v0.7h-0.7zM93.4 231.1h0.7v0.7h-0.7zM106.8 225.9h0.7v0.7h-0.7zM105.5 227.1h0.7v0.7h-0.7zM101.0 235.9h0.7v0.7h-0.7zM102.5 224.0h0.7v0.7h-0.7zM100.5 226.1h0.7v0.7h-0.7zM101.5 229.7h0.7v0.7h-0.7zM109.1 231.1h0.7v0.7h-0.7zM98.6 225.1h0.7v0.7h-0.7zM103.5 224.5h0.7v0.7h-0.7zM105.7 232.7h0.7v0.7h-0.7zM108.3 225.6h0.7v0.7h-0.7zM101.7 230.3h0.7v0.7h-0.7zM104.9 229.6h0.7v0.7h-0.7z"/>
<path d="M98.9 230.4h0.7v0.7h-0.7zM98.7 229.8h0.7v0.7h-0.7zM95.4 223.5h0.7v0.7h-0.7zM93.7 230.3h0.7v0.7h-0.7zM101.7 229.1h0.7v0.7h-0.7zM103.8 223.5h0.7v0.7h-0.7zM111.0 222.1h0.7v0.7h-0.7zM108.9 224.2h0.7v0.7h-0.7zM102.3 228.7h0.7v0.7h-0.7zM101.6 229.5h0.7v0.7h-0.7zM95.1 225.0h0.7v0.7h-0.7zM100.6 233.7h0.7v0.7h-0.7zM101.5 234.0h0.7v0.7h-0.7zM105.3 223.3h0.7v0.7h-0.7zM102.2 227.4h0.7v0.7h-0.7zM103.6 225.2h0.7v0.7h-0.7zM101.0 232.0h0.7v0.7h-0.7zM99.5 229.8h0.7v0.7h-0.7zM108.4 227.5h0.7v0.7h-0.7zM99.6 215.9h0.7v0.7h-0.7zM101.7 230.9h0.7v0.7h-0.7zM103.5 229.2h0.7v0.7h-0.7zM103.9 217.9h0.7v0.7h-0.7zM113.6 224.8h0.7v0.7h-0.7zM97.9 233.2h0.7v0.7h-0.7zM94.9 229.1h0.7v0.7h-0.7zM106.6 228.3h0.7v0.7h-0.7zM96.5 232.0h0.7v0.7h-0.7zM100.4 225.8h0.7v0.7h-0.7zM109.3 228.3h0.7v0.7h-0.7zM97.4 241.3h0.7v0.7h-0.7zM110.3 214.0h0.7v0.7h-0.7zM110.2 216.8h0.7v0.7h-0.7zM102.4 225.8h0.7v0.7h-0.7zM99.6 219.7h0.7v0.7h-0.7zM105.2 227.0h0.7v0.7h-0.7zM103.9 223.8h0.7v0.7h-0.7zM107.3 223.6h0.7v0.7h-0.7zM103.2 231.1h0.7v0.7h-0.7zM107.8 227.7h0.7v0.7h-0.7z"/>
<path d="M102.9 225.7h0.7v0.7h-0.7zM94.9 238.6h0.7v0.7h-0.7zM102.7 226.0h0.7v0.7h-0.7zM99.9 229.0h0.7v0.7h-0.7zM112.5 226.0h0.7v0.7h-0.7zM108.9 209.3h0.7v0.7h-0.7zM103.7 226.2h0.7v0.7h-0.7zM103.5 231.5h0.7v0.7h-0.7zM113.9 222.7h0.7v0.7h-0.7zM93.9 241.7h0.7v0.7h-0.7zM108.1 222.9h0.7v0.7h-0.7zM116.2 221.5h0.7v0.7h-0.7zM103.6 224.4h0.7v0.7h-0.7zM103.3 239.9h0.7v0.7h-0.7zM98.0 229.4h0.7v0.7h-0.7zM97.4 229.2h0.7v0.7h-0.7zM102.8 224.9h0.7v0.7h-0.7zM92.4 233.5h0.7v0.7h-0.7zM106.7 223.5h0.7v0.7h-0.7zM100.5 234.1h0.7v0.7h-0.7zM102.0 221.4h0.7v0.7h-0.7zM115.1 220.4h0.7v0.7h-0.7zM110.9 228.0h0.7v0.7h-0.7zM105.3 226.1h0.7v0.7h-0.7zM98.4 227.1h0.7v0.7h-0.7zM102.9 225.3h0.7v0.7h-0.7zM105.0 226.2h0.7v0.7h-0.7zM101.4 230.1h0.7v0.7h-0.7zM108.1 226.8h0.7v0.7h-0.7zM98.8 221.1h0.7v0.7h-0.7zM101.8 231.8h0.7v0.7h-0.7zM107.3 231.4h0.7v0.7h-0.7zM102.3 234.9h0.7v0.7h-0.7zM106.5 225.8h0.7v0.7h-0.7zM102.5 227.4h0.7v0.7h-0.7zM105.4 217.0h0.7v0.7h-0.7zM101.9 229.4h0.7v0.7h-0.7zM102.4 231.7h0.7v0.7h-0.7zM103.1 232.2h0.7v0.7h-0.7zM104.7 226.7h0.7v0.7h-0.7z"/>
<path d="M105.7 225.4h0.7v0.7h-0.7zM107.3 227.9h0.7v0.7h-0.7zM105.7 226.6h0.7v0.7h-0.7zM96.7 230.6h0.7v0.7h-0.7zM106.6 232.2h0.7v0.7h-0.7zM100.0 229.7h0.7v0.7h-0.7zM103.2 220.6h0.7v0.7h-0.7zM108.7 225.9h0.7v0.7h-0.7zM106.9 223.9h0.7v0.7h-0.7zM103.9 221.9h0.7v0.7h-0.7zM102.0 228.2h0.7v0.7h-0.7zM98.0 237.6h0.7v0.7h-0.7zM104.8 221.2h0.7v0.7h-0.7zM112.8 213.7h0.7v0.7h-0.7zM112.1 223.6h0.7v0.7h-0.7zM107.3 230.4h0.7v0.7h-0.7zM100.6 230.5h0.7v0.7h-0.7zM115.2 229.6h0.7v0.7h-0.7zM103.4 221.8h0.7v0.7h-0.7zM101.1 220.4h0.7v0.7h-0.7zM101.9 236.3h0.7v0.7h-0.7zM102.6 222.7h0.7v0.7h-0.7zM104.7 222.0h0.7v0.7h-0.7zM111.0 230.3h0.7v0.7h-0.7zM101.7 224.3h0.7v0.7h-0.7zM100.5 229.4h0.7v0.7h-0.7zM101.8 225.5h0.7v0.7h-0.7zM111.2 216.9h0.7v0.7h-0.7zM102.6 237.9h0.7v0.7h-0.7zM99.2 234.0h0.7v0.7h-0.7zM103.3 225.9h0.7v0.7h-0.7zM106.5 223.1h0.7v0.7h-0.7zM95.7 233.3h0.7v0.7h-0.7zM104.6 227.4h0.7v0.7h-0.7zM103.4 226.6h0.7v0.7h-0.7zM112.6 230.0h0.7v0.7h-0.7zM101.5 231.1h0.7v0.7h-0.7zM107.7 227.5h0.7v0.7h-0.7zM105.2 228.6h0.7v0.7h-0.7zM100.1 232.4h0.7v0.7h-0.7z"/>
</g>
<g fill="#e23a28" fill-opacity="0.4">
<path d="M100.1 231.5h0.7v0.7h-0.7zM97.3 232.3h0.7v0.7h-0.7zM94.9 228.4h0.7v0.7h-0.7zM87.6 227.8h0.7v0.7h-0.7zM95.3 233.8h0.7v0.7h-0.7zM87.6 235.9h0.7v0.7h-0.7zM100.0 229.6h0.7v0.7h-0.7zM95.9 229.4h0.7v0.7h-0.7zM93.3 232.5h0.7v0.7h-0.7zM90.3 228.9h0.7v0.7h-0.7zM88.7 229.8h0.7v0.7h-0.7zM96.5 237.3h0.7v0.7h-0.7zM93.9 226.2h0.7v0.7h-0.7zM92.8 231.2h0.7v0.7h-0.7zM91.2 235.2h0.7v0.7h-0.7zM93.2 239.8h0.7v0.7h-0.7zM91.9 222.3h0.7v0.7h-0.7zM91.8 233.7h0.7v0.7h-0.7zM97.5 224.1h0.7v0.7h-0.7zM102.7 235.7h0.7v0.7h-0.7zM99.5 230.9h0.7v0.7h-0.7zM94.8 233.1h0.7v0.7h-0.7zM94.0 229.2h0.7v0.7h-0.7zM94.1 233.5h0.7v0.7h-0.7zM96.6 231.3h0.7v0.7h-0.7zM97.9 231.3h0.7v0.7h-0.7zM93.1 232.9h0.7v0.7h-0.7zM97.4 232.4h0.7v0.7h-0.7zM96.6 232.4h0.7v0.7h-0.7zM96.1 234.6h0.7v0.7h-0.7zM87.8 229.7h0.7v0.7h-0.7zM88.0 231.6h0.7v0.7h-0.7zM89.5 235.1h0.7v0.7h-0.7zM96.3 234.9h0.7v0.7h-0.7zM96.6 234.9h0.7v0.7h-0.7zM84.5 232.5h0.7v0.7h-0.7zM96.1 228.9h0.7v0.7h-0.7zM94.6 236.8h0.7v0.7h-0.7zM89.0 226.0h0.7v0.7h-0.7zM97.4 231.4h0.7v0.7h-0.7z"/>
<path d="M97.4 231.2h0.7v0.7h-0.7zM94.6 234.3h0.7v0.7h-0.7zM96.4 234.9h0.7v0.7h-0.7zM97.1 235.3h0.7v0.7h-0.7zM95.3 235.6h0.7v0.7h-0.7zM97.3 231.9h0.7v0.7h-0.7zM97.9 233.1h0.7v0.7h-0.7zM98.4 239.5h0.7v0.7h-0.7zM97.8 228.9h0.7v0.7h-0.7zM97.2 232.0h0.7v0.7h-0.7zM98.4 232.5h0.7v0.7h-0.7zM98.4 226.8h0.7v0.7h-0.7zM91.4 237.4h0.7v0.7h-0.7zM91.7 234.4h0.7v0.7h-0.7zM97.2 227.0h0.7v0.7h-0.7zM92.7 231.0h0.7v0.7h-0.7zM98.1 234.7h0.7v0.7h-0.7zM108.2 229.7h0.7v0.7h-0.7zM100.6 228.6h0.7v0.7h-0.7zM100.6 232.4h0.7v0.7h-0.7z"/>
</g>
<path d="M98.0,222.3 L103.9,220.8 L109.9,221.6 L106.1,226.8 L102.5,232.7 L97.3,234.2 L95.1,231.2 Z" fill="#e2412e" fill-opacity="0.5" filter="url(#blur2)"/>
<path d="M99.1,223.7 L103.3,222.6 L107.6,223.2 L104.9,226.9 L102.3,231.1 L98.6,232.2 L97.0,230.0 Z" fill="#d02014" fill-opacity="0.9" filter="url(#blur1)"/>
<path d="M100.3,225.2 L102.6,224.6 L105.0,225.0 L103.5,227.0 L102.1,229.3 L100.1,229.9 L99.2,228.7 Z" fill="#b40c08" fill-opacity="0.65" filter="url(#blur1)"/>
</g>
<rect x="81.60" y="195.30" width="48.70" height="44.30" fill="none" stroke="#a8a8a8" stroke-width="0.8"/>
<line x1="104.40" y1="195.30" x2="104.40" y2="239.60" stroke="#999999" stroke-width="0.9"/>
<line x1="81.60" y1="221.80" x2="130.30" y2="221.80" stroke="#999999" stroke-width="0.9"/>
<line x1="80.00" y1="199.73" x2="81.60" y2="199.73" stroke="#666" stroke-width="0.6"/>
<line x1="80.00" y1="209.48" x2="81.60" y2="209.48" stroke="#666" stroke-width="0.6"/>
<line x1="80.00" y1="219.66" x2="81.60" y2="219.66" stroke="#666" stroke-width="0.6"/>
<line x1="80.00" y1="229.85" x2="81.60" y2="229.85" stroke="#666" stroke-width="0.6"/>
<line x1="80.00" y1="236.06" x2="81.60" y2="236.06" stroke="#666" stroke-width="0.6"/>
<line x1="85.50" y1="239.60" x2="85.50" y2="241.00" stroke="#888" stroke-width="0.5"/>
<line x1="91.34" y1="239.60" x2="91.34" y2="241.00" stroke="#888" stroke-width="0.5"/>
<line x1="96.21" y1="239.60" x2="96.21" y2="241.00" stroke="#888" stroke-width="0.5"/>
<line x1="103.52" y1="239.60" x2="103.52" y2="241.00" stroke="#888" stroke-width="0.5"/>
<line x1="108.39" y1="239.60" x2="108.39" y2="241.00" stroke="#888" stroke-width="0.5"/>
<line x1="115.69" y1="239.60" x2="115.69" y2="241.00" stroke="#888" stroke-width="0.5"/>
<line x1="120.56" y1="239.60" x2="120.56" y2="241.00" stroke="#888" stroke-width="0.5"/>
<line x1="127.87" y1="239.60" x2="127.87" y2="241.00" stroke="#888" stroke-width="0.5"/>
<rect x="96.2" y="214.4" width="2.6" height="1.6" fill="#555" fill-opacity="0.55"/>
<rect x="108.9" y="214.4" width="2.6" height="1.6" fill="#555" fill-opacity="0.55"/>
<rect x="97.3" y="229.2" width="2.6" height="1.6" fill="#555" fill-opacity="0.55"/>
<rect x="108.9" y="229.2" width="2.6" height="1.6" fill="#555" fill-opacity="0.55"/>
<clipPath id="clip141_195"><rect x="141.4" y="195.3" width="48.5" height="44.29999999999998"/></clipPath>
<g clip-path="url(#clip141_195)">
<g fill="#e23a28" fill-opacity="0.45">
<path d="M161.8 227.5h0.8v0.8h-0.8zM153.9 219.5h0.8v0.8h-0.8zM150.6 221.1h0.8v0.8h-0.8zM151.1 224.4h0.8v0.8h-0.8zM160.9 226.2h0.8v0.8h-0.8zM150.5 214.9h0.8v0.8h-0.8zM154.5 228.2h0.8v0.8h-0.8zM158.2 227.0h0.8v0.8h-0.8zM154.7 231.6h0.8v0.8h-0.8zM165.5 231.2h0.8v0.8h-0.8zM150.9 221.0h0.8v0.8h-0.8zM160.2 226.5h0.8v0.8h-0.8zM143.4 227.9h0.8v0.8h-0.8zM164.6 223.9h0.8v0.8h-0.8zM150.4 235.1h0.8v0.8h-0.8zM158.2 227.1h0.8v0.8h-0.8zM154.8 225.1h0.8v0.8h-0.8zM162.5 238.1h0.8v0.8h-0.8zM153.8 227.5h0.8v0.8h-0.8zM158.7 224.5h0.8v0.8h-0.8zM160.0 223.2h0.8v0.8h-0.8zM152.1 234.4h0.8v0.8h-0.8zM153.0 238.5h0.8v0.8h-0.8zM157.2 227.3h0.8v0.8h-0.8zM159.9 237.6h0.8v0.8h-0.8zM154.4 229.3h0.8v0.8h-0.8zM155.0 226.6h0.8v0.8h-0.8zM153.0 221.7h0.8v0.8h-0.8zM163.8 220.2h0.8v0.8h-0.8zM149.8 223.2h0.8v0.8h-0.8zM160.7 226.0h0.8v0.8h-0.8zM162.2 225.8h0.8v0.8h-0.8zM158.1 228.3h0.8v0.8h-0.8zM162.5 211.8h0.8v0.8h-0.8zM158.5 227.3h0.8v0.8h-0.8zM160.7 217.6h0.8v0.8h-0.8zM157.4 230.7h0.8v0.8h-0.8zM152.2 220.6h0.8v0.8h-0.8zM149.6 227.5h0.8v0.8h-0.8zM166.6 225.7h0.8v0.8h-0.8z"/>
<path d="M147.9 237.6h0.8v0.8h-0.8zM153.6 229.7h0.8v0.8h-0.8zM146.3 226.4h0.8v0.8h-0.8zM164.8 232.8h0.8v0.8h-0.8zM159.5 221.4h0.8v0.8h-0.8zM147.7 226.3h0.8v0.8h-0.8zM160.0 220.5h0.8v0.8h-0.8zM160.4 229.3h0.8v0.8h-0.8zM152.3 230.2h0.8v0.8h-0.8zM159.0 225.0h0.8v0.8h-0.8zM161.0 226.4h0.8v0.8h-0.8zM157.1 218.6h0.8v0.8h-0.8zM159.8 218.5h0.8v0.8h-0.8zM153.8 232.9h0.8v0.8h-0.8zM144.8 232.2h0.8v0.8h-0.8zM156.9 227.9h0.8v0.8h-0.8zM156.5 227.2h0.8v0.8h-0.8zM158.7 230.4h0.8v0.8h-0.8zM152.9 221.5h0.8v0.8h-0.8zM157.9 227.7h0.8v0.8h-0.8zM161.9 229.5h0.8v0.8h-0.8zM152.6 231.3h0.8v0.8h-0.8zM148.0 232.1h0.8v0.8h-0.8zM152.5 225.5h0.8v0.8h-0.8zM159.4 221.3h0.8v0.8h-0.8zM150.4 216.2h0.8v0.8h-0.8zM159.2 229.3h0.8v0.8h-0.8zM152.6 228.4h0.8v0.8h-0.8zM159.9 228.7h0.8v0.8h-0.8zM160.4 212.5h0.8v0.8h-0.8zM164.6 220.7h0.8v0.8h-0.8zM156.0 227.7h0.8v0.8h-0.8zM147.8 215.4h0.8v0.8h-0.8zM160.6 229.0h0.8v0.8h-0.8zM148.2 230.0h0.8v0.8h-0.8zM161.1 219.2h0.8v0.8h-0.8zM156.5 225.2h0.8v0.8h-0.8zM156.8 216.3h0.8v0.8h-0.8zM155.1 227.0h0.8v0.8h-0.8zM164.1 219.1h0.8v0.8h-0.8z"/>
<path d="M161.7 228.8h0.8v0.8h-0.8zM151.1 232.2h0.8v0.8h-0.8zM146.6 223.2h0.8v0.8h-0.8zM158.4 223.7h0.8v0.8h-0.8zM154.5 223.6h0.8v0.8h-0.8zM159.8 232.7h0.8v0.8h-0.8zM145.6 227.9h0.8v0.8h-0.8zM165.1 224.6h0.8v0.8h-0.8zM153.3 225.5h0.8v0.8h-0.8zM155.5 226.5h0.8v0.8h-0.8zM147.8 222.4h0.8v0.8h-0.8zM166.5 232.8h0.8v0.8h-0.8zM168.6 230.8h0.8v0.8h-0.8zM153.4 228.9h0.8v0.8h-0.8zM161.7 225.4h0.8v0.8h-0.8zM144.7 224.2h0.8v0.8h-0.8zM157.2 226.3h0.8v0.8h-0.8zM155.6 223.8h0.8v0.8h-0.8zM152.4 222.4h0.8v0.8h-0.8zM159.4 218.8h0.8v0.8h-0.8zM153.4 217.0h0.8v0.8h-0.8zM151.7 225.9h0.8v0.8h-0.8zM159.8 229.6h0.8v0.8h-0.8zM156.3 224.8h0.8v0.8h-0.8zM147.8 239.5h0.8v0.8h-0.8zM145.0 232.5h0.8v0.8h-0.8zM156.4 222.7h0.8v0.8h-0.8zM152.5 234.3h0.8v0.8h-0.8zM156.2 221.9h0.8v0.8h-0.8zM148.9 222.8h0.8v0.8h-0.8zM154.4 216.8h0.8v0.8h-0.8zM144.7 228.6h0.8v0.8h-0.8zM153.5 220.0h0.8v0.8h-0.8zM162.6 226.9h0.8v0.8h-0.8zM154.6 225.3h0.8v0.8h-0.8zM164.0 232.8h0.8v0.8h-0.8zM151.6 223.9h0.8v0.8h-0.8zM156.6 228.9h0.8v0.8h-0.8zM150.6 227.9h0.8v0.8h-0.8zM155.3 223.4h0.8v0.8h-0.8z"/>
<path d="M155.3 230.8h0.8v0.8h-0.8zM160.7 230.7h0.8v0.8h-0.8zM164.6 219.5h0.8v0.8h-0.8zM154.6 222.7h0.8v0.8h-0.8zM162.5 224.6h0.8v0.8h-0.8zM158.2 223.8h0.8v0.8h-0.8zM158.0 227.7h0.8v0.8h-0.8zM161.4 229.1h0.8v0.8h-0.8zM146.8 221.7h0.8v0.8h-0.8zM154.0 220.4h0.8v0.8h-0.8zM165.7 230.7h0.8v0.8h-0.8zM154.6 225.9h0.8v0.8h-0.8zM150.2 216.8h0.8v0.8h-0.8zM161.6 230.9h0.8v0.8h-0.8zM156.0 226.0h0.8v0.8h-0.8zM155.1 228.3h0.8v0.8h-0.8zM150.4 225.1h0.8v0.8h-0.8zM151.1 232.0h0.8v0.8h-0.8zM156.8 225.4h0.8v0.8h-0.8zM152.6 227.3h0.8v0.8h-0.8zM151.8 223.7h0.8v0.8h-0.8zM156.7 221.0h0.8v0.8h-0.8zM157.8 234.4h0.8v0.8h-0.8zM153.5 230.4h0.8v0.8h-0.8zM158.5 221.8h0.8v0.8h-0.8zM157.6 231.0h0.8v0.8h-0.8zM158.9 231.6h0.8v0.8h-0.8zM158.8 227.3h0.8v0.8h-0.8zM160.6 221.2h0.8v0.8h-0.8zM145.4 225.7h0.8v0.8h-0.8zM157.8 229.5h0.8v0.8h-0.8zM152.4 233.6h0.8v0.8h-0.8zM154.8 226.5h0.8v0.8h-0.8zM154.7 227.1h0.8v0.8h-0.8zM158.4 230.5h0.8v0.8h-0.8zM160.4 224.9h0.8v0.8h-0.8zM152.7 221.3h0.8v0.8h-0.8zM147.1 222.9h0.8v0.8h-0.8zM156.2 228.7h0.8v0.8h-0.8zM155.1 230.6h0.8v0.8h-0.8z"/>
<path d="M154.1 229.0h0.8v0.8h-0.8zM155.8 232.8h0.8v0.8h-0.8zM149.9 229.5h0.8v0.8h-0.8zM156.4 230.6h0.8v0.8h-0.8zM155.9 235.4h0.8v0.8h-0.8zM154.0 229.7h0.8v0.8h-0.8zM158.7 231.9h0.8v0.8h-0.8zM152.4 232.7h0.8v0.8h-0.8zM149.6 228.2h0.8v0.8h-0.8zM146.1 220.4h0.8v0.8h-0.8zM152.8 235.2h0.8v0.8h-0.8zM156.3 232.3h0.8v0.8h-0.8zM155.9 225.0h0.8v0.8h-0.8zM152.7 229.9h0.8v0.8h-0.8zM158.0 234.1h0.8v0.8h-0.8zM158.6 230.5h0.8v0.8h-0.8zM156.2 233.8h0.8v0.8h-0.8zM156.0 217.2h0.8v0.8h-0.8zM150.1 222.6h0.8v0.8h-0.8zM161.0 224.7h0.8v0.8h-0.8zM160.1 226.1h0.8v0.8h-0.8zM145.8 228.0h0.8v0.8h-0.8zM159.3 230.3h0.8v0.8h-0.8zM157.1 219.4h0.8v0.8h-0.8zM160.2 228.4h0.8v0.8h-0.8zM160.0 222.4h0.8v0.8h-0.8zM153.2 228.5h0.8v0.8h-0.8zM156.5 224.6h0.8v0.8h-0.8zM157.6 222.3h0.8v0.8h-0.8zM146.8 223.8h0.8v0.8h-0.8zM161.3 219.3h0.8v0.8h-0.8zM156.4 228.7h0.8v0.8h-0.8zM161.8 223.2h0.8v0.8h-0.8zM153.3 230.3h0.8v0.8h-0.8zM147.0 229.4h0.8v0.8h-0.8zM158.2 221.1h0.8v0.8h-0.8zM159.1 217.5h0.8v0.8h-0.8zM154.4 228.9h0.8v0.8h-0.8zM154.5 225.2h0.8v0.8h-0.8zM156.9 221.5h0.8v0.8h-0.8z"/>
</g>
<g fill="#e23a28" fill-opacity="0.45">
<path d="M164.2 233.8h0.8v0.8h-0.8zM171.4 225.1h0.8v0.8h-0.8zM170.3 223.3h0.8v0.8h-0.8zM173.6 217.9h0.8v0.8h-0.8zM178.8 219.1h0.8v0.8h-0.8zM171.6 226.9h0.8v0.8h-0.8zM171.1 222.0h0.8v0.8h-0.8zM168.5 234.0h0.8v0.8h-0.8zM164.3 229.4h0.8v0.8h-0.8zM185.9 214.4h0.8v0.8h-0.8zM160.6 225.0h0.8v0.8h-0.8zM172.8 223.3h0.8v0.8h-0.8zM173.0 229.4h0.8v0.8h-0.8zM181.8 217.7h0.8v0.8h-0.8zM171.9 219.5h0.8v0.8h-0.8zM166.9 230.5h0.8v0.8h-0.8zM166.8 225.4h0.8v0.8h-0.8zM168.5 226.3h0.8v0.8h-0.8zM173.0 221.2h0.8v0.8h-0.8zM171.4 218.6h0.8v0.8h-0.8zM165.8 228.0h0.8v0.8h-0.8zM171.5 219.1h0.8v0.8h-0.8zM174.5 224.0h0.8v0.8h-0.8zM174.4 222.3h0.8v0.8h-0.8zM175.1 231.2h0.8v0.8h-0.8zM163.5 231.4h0.8v0.8h-0.8zM174.3 221.0h0.8v0.8h-0.8zM168.8 218.9h0.8v0.8h-0.8zM173.9 219.6h0.8v0.8h-0.8zM171.0 221.2h0.8v0.8h-0.8zM163.9 227.6h0.8v0.8h-0.8zM161.8 234.0h0.8v0.8h-0.8zM174.8 217.9h0.8v0.8h-0.8zM172.9 220.2h0.8v0.8h-0.8zM168.2 236.0h0.8v0.8h-0.8zM170.6 235.7h0.8v0.8h-0.8zM174.2 222.0h0.8v0.8h-0.8zM160.3 225.4h0.8v0.8h-0.8zM173.2 221.7h0.8v0.8h-0.8zM173.1 221.8h0.8v0.8h-0.8z"/>
<path d="M166.5 226.6h0.8v0.8h-0.8zM177.4 222.4h0.8v0.8h-0.8zM182.4 223.0h0.8v0.8h-0.8zM172.5 214.4h0.8v0.8h-0.8zM176.6 213.7h0.8v0.8h-0.8zM171.3 220.3h0.8v0.8h-0.8zM172.1 222.4h0.8v0.8h-0.8zM174.3 220.4h0.8v0.8h-0.8zM164.9 231.3h0.8v0.8h-0.8zM169.0 226.0h0.8v0.8h-0.8zM166.2 231.1h0.8v0.8h-0.8zM168.9 224.3h0.8v0.8h-0.8zM165.3 231.4h0.8v0.8h-0.8zM173.8 224.6h0.8v0.8h-0.8zM167.9 217.2h0.8v0.8h-0.8zM170.5 225.4h0.8v0.8h-0.8zM174.7 227.8h0.8v0.8h-0.8zM168.7 222.5h0.8v0.8h-0.8zM169.6 228.5h0.8v0.8h-0.8zM165.9 227.7h0.8v0.8h-0.8zM175.0 221.0h0.8v0.8h-0.8zM158.8 230.6h0.8v0.8h-0.8zM178.4 217.1h0.8v0.8h-0.8zM168.2 227.2h0.8v0.8h-0.8zM169.9 223.6h0.8v0.8h-0.8zM173.7 225.8h0.8v0.8h-0.8zM170.5 230.6h0.8v0.8h-0.8zM176.0 220.0h0.8v0.8h-0.8zM171.2 223.6h0.8v0.8h-0.8zM171.5 224.8h0.8v0.8h-0.8zM174.7 223.1h0.8v0.8h-0.8zM182.8 212.9h0.8v0.8h-0.8zM171.6 226.0h0.8v0.8h-0.8zM168.6 227.1h0.8v0.8h-0.8zM167.2 221.1h0.8v0.8h-0.8zM164.8 225.1h0.8v0.8h-0.8zM171.7 225.0h0.8v0.8h-0.8zM174.3 224.2h0.8v0.8h-0.8zM168.9 225.1h0.8v0.8h-0.8zM167.8 227.4h0.8v0.8h-0.8z"/>
<path d="M161.0 221.6h0.8v0.8h-0.8zM168.8 225.7h0.8v0.8h-0.8zM163.2 227.0h0.8v0.8h-0.8zM166.4 230.0h0.8v0.8h-0.8zM170.3 220.8h0.8v0.8h-0.8zM167.9 231.5h0.8v0.8h-0.8zM177.8 220.3h0.8v0.8h-0.8zM173.4 224.5h0.8v0.8h-0.8zM169.1 217.4h0.8v0.8h-0.8zM165.4 231.7h0.8v0.8h-0.8zM175.6 224.9h0.8v0.8h-0.8zM158.1 229.9h0.8v0.8h-0.8zM171.5 218.5h0.8v0.8h-0.8zM171.6 225.5h0.8v0.8h-0.8zM171.7 221.9h0.8v0.8h-0.8zM172.0 228.1h0.8v0.8h-0.8zM181.8 217.4h0.8v0.8h-0.8zM162.6 221.8h0.8v0.8h-0.8zM164.5 230.6h0.8v0.8h-0.8zM178.8 217.1h0.8v0.8h-0.8zM171.3 218.8h0.8v0.8h-0.8zM166.9 223.9h0.8v0.8h-0.8zM171.0 227.6h0.8v0.8h-0.8zM165.3 216.3h0.8v0.8h-0.8zM179.5 226.0h0.8v0.8h-0.8zM167.7 223.7h0.8v0.8h-0.8zM169.1 221.1h0.8v0.8h-0.8zM175.1 220.7h0.8v0.8h-0.8zM180.7 221.0h0.8v0.8h-0.8zM172.8 224.8h0.8v0.8h-0.8zM175.9 221.5h0.8v0.8h-0.8zM166.6 226.7h0.8v0.8h-0.8zM162.5 220.1h0.8v0.8h-0.8zM173.4 224.1h0.8v0.8h-0.8zM173.7 225.4h0.8v0.8h-0.8zM167.0 228.3h0.8v0.8h-0.8zM158.9 230.0h0.8v0.8h-0.8zM167.4 225.2h0.8v0.8h-0.8zM164.3 228.8h0.8v0.8h-0.8zM166.5 227.0h0.8v0.8h-0.8z"/>
<path d="M168.4 228.1h0.8v0.8h-0.8zM154.6 229.8h0.8v0.8h-0.8zM166.7 228.2h0.8v0.8h-0.8zM172.8 222.7h0.8v0.8h-0.8zM173.0 227.3h0.8v0.8h-0.8zM165.3 224.5h0.8v0.8h-0.8zM170.0 212.1h0.8v0.8h-0.8zM167.8 232.7h0.8v0.8h-0.8zM166.5 226.6h0.8v0.8h-0.8zM175.4 223.5h0.8v0.8h-0.8zM166.0 223.3h0.8v0.8h-0.8zM163.2 223.5h0.8v0.8h-0.8zM174.8 221.1h0.8v0.8h-0.8zM161.5 224.8h0.8v0.8h-0.8zM177.0 222.9h0.8v0.8h-0.8zM169.7 234.3h0.8v0.8h-0.8zM156.5 232.0h0.8v0.8h-0.8zM169.0 219.4h0.8v0.8h-0.8zM170.1 227.2h0.8v0.8h-0.8zM170.8 225.4h0.8v0.8h-0.8zM178.4 216.5h0.8v0.8h-0.8zM167.6 223.9h0.8v0.8h-0.8zM174.4 218.5h0.8v0.8h-0.8zM166.6 224.7h0.8v0.8h-0.8zM170.8 222.7h0.8v0.8h-0.8zM167.2 229.0h0.8v0.8h-0.8zM174.7 218.2h0.8v0.8h-0.8zM164.6 227.0h0.8v0.8h-0.8zM169.1 223.9h0.8v0.8h-0.8zM173.3 214.0h0.8v0.8h-0.8z"/>
</g>
<path d="M156.1,215.3 L163.5,215.3 L165.7,220.5 L163.5,229.3 L159.2,233.8 L153.1,232.3 L154.0,223.5 Z" fill="#e2412e" fill-opacity="0.5" filter="url(#blur2)"/>
<path d="M157.0,217.9 L162.3,217.9 L163.9,221.6 L162.3,227.9 L159.2,231.1 L154.9,230.0 L155.5,223.7 Z" fill="#d02014" fill-opacity="0.9" filter="url(#blur1)"/>
<path d="M158.0,220.8 L160.9,220.8 L161.8,222.8 L160.9,226.3 L159.2,228.0 L156.9,227.4 L157.2,224.0 Z" fill="#b40c08" fill-opacity="0.65" filter="url(#blur1)"/>
<path d="M164.7,219.3 L173.5,217.1 L180.2,216.4 L179.5,220.9 L172.1,228.3 L166.1,232.6 L163.4,229.7 Z" fill="#e2412e" fill-opacity="0.5" filter="url(#blur2)"/>
<path d="M166.6,220.5 L172.9,218.9 L177.7,218.4 L177.2,221.6 L171.9,226.9 L167.6,230.0 L165.7,227.9 Z" fill="#d02014" fill-opacity="0.9" filter="url(#blur1)"/>
<path d="M168.7,221.8 L172.2,221.0 L174.9,220.7 L174.6,222.4 L171.7,225.4 L169.3,227.1 L168.3,225.9 Z" fill="#b40c08" fill-opacity="0.65" filter="url(#blur1)"/>
</g>
<rect x="141.40" y="195.30" width="48.50" height="44.30" fill="none" stroke="#a8a8a8" stroke-width="0.8"/>
<line x1="165.70" y1="195.30" x2="165.70" y2="239.60" stroke="#6e6e6e" stroke-width="1.0"/>
<line x1="141.40" y1="218.60" x2="189.90" y2="218.60" stroke="#6e6e6e" stroke-width="1.0"/>
<line x1="139.80" y1="199.73" x2="141.40" y2="199.73" stroke="#666" stroke-width="0.6"/>
<line x1="139.80" y1="209.48" x2="141.40" y2="209.48" stroke="#666" stroke-width="0.6"/>
<line x1="139.80" y1="219.66" x2="141.40" y2="219.66" stroke="#666" stroke-width="0.6"/>
<line x1="139.80" y1="229.85" x2="141.40" y2="229.85" stroke="#666" stroke-width="0.6"/>
<line x1="139.80" y1="236.06" x2="141.40" y2="236.06" stroke="#666" stroke-width="0.6"/>
<line x1="145.28" y1="239.60" x2="145.28" y2="241.00" stroke="#888" stroke-width="0.5"/>
<line x1="151.10" y1="239.60" x2="151.10" y2="241.00" stroke="#888" stroke-width="0.5"/>
<line x1="155.95" y1="239.60" x2="155.95" y2="241.00" stroke="#888" stroke-width="0.5"/>
<line x1="163.22" y1="239.60" x2="163.22" y2="241.00" stroke="#888" stroke-width="0.5"/>
<line x1="168.08" y1="239.60" x2="168.08" y2="241.00" stroke="#888" stroke-width="0.5"/>
<line x1="175.35" y1="239.60" x2="175.35" y2="241.00" stroke="#888" stroke-width="0.5"/>
<line x1="180.20" y1="239.60" x2="180.20" y2="241.00" stroke="#888" stroke-width="0.5"/>
<line x1="187.47" y1="239.60" x2="187.47" y2="241.00" stroke="#888" stroke-width="0.5"/>
<rect x="158.4" y="212.3" width="2.6" height="1.6" fill="#555" fill-opacity="0.55"/>
<rect x="168.4" y="212.3" width="2.6" height="1.6" fill="#555" fill-opacity="0.55"/>
<rect x="158.4" y="223.9" width="2.6" height="1.6" fill="#555" fill-opacity="0.55"/>
<rect x="168.4" y="223.9" width="2.6" height="1.6" fill="#555" fill-opacity="0.55"/>
<text x="167.40" y="238.60" font-size="8" textLength="21.40" lengthAdjust="spacingAndGlyphs" fill="#111" stroke="#111">31.3%</text>
<text x="16.40" y="225.80" font-size="9.5" textLength="20.20" lengthAdjust="spacingAndGlyphs" transform="rotate(-90 16.40 225.80)" fill="#231f20" stroke="#231f20">CD34</text>
<line x1="12.70" y1="203.50" x2="12.70" y2="179.40" stroke="#111" stroke-width="0.9"/>
<path d="M12.70,174.90 L10.50,179.90 L12.70,179.40 L14.90,179.90 Z" fill="#111"/>
<text x="45.00" y="254.60" font-size="9.5" textLength="18.80" lengthAdjust="spacingAndGlyphs" fill="#231f20" stroke="#231f20">CD45</text>
<line x1="66.90" y1="251.50" x2="83.50" y2="251.50" stroke="#111" stroke-width="0.9"/>
<path d="M88.00,251.50 L83.00,249.30 L83.50,251.50 L83.00,253.70 Z" fill="#111"/>
<text x="207.30" y="110.20" font-size="12" font-weight="bold" fill="#000" stroke="#000">C</text>
<text x="229.90" y="149.50" font-size="8.3" textLength="20.90" lengthAdjust="spacingAndGlyphs" fill="#231f20" stroke="#231f20">Day 6</text>
<rect x="224.70" y="154.50" width="31.05" height="30.90" fill="none" stroke="#231f20" stroke-width="1.15"/>
<line x1="240.30" y1="154.50" x2="240.30" y2="185.40" stroke="#231f20" stroke-width="1.15"/>
<line x1="224.70" y1="170.10" x2="255.75" y2="170.10" stroke="#231f20" stroke-width="1.15"/>
<rect x="224.70" y="154.50" width="15.60" height="15.60" fill="none" stroke="#b01e48" stroke-width="1.45"/>
<line x1="220.40" y1="185.40" x2="220.40" y2="160.00" stroke="#231f20" stroke-width="1.1"/>
<path d="M220.40,155.00 L218.10,160.50 L220.40,160.00 L222.70,160.50 Z" fill="#231f20"/>
<line x1="225.20" y1="189.60" x2="250.45" y2="189.60" stroke="#231f20" stroke-width="1.1"/>
<path d="M255.45,189.60 L249.95,187.30 L250.45,189.60 L249.95,191.90 Z" fill="#231f20"/>
<text x="215.10" y="179.80" font-size="9.6" textLength="18.90" lengthAdjust="spacingAndGlyphs" transform="rotate(-90 215.10 179.80)" fill="#231f20" stroke="#231f20">CD34</text>
<text x="230.70" y="200.50" font-size="9.6" textLength="18.80" lengthAdjust="spacingAndGlyphs" fill="#231f20" stroke="#231f20">CD45</text>
<line x1="300.60" y1="133.30" x2="300.60" y2="207.20" stroke="#231f20" stroke-width="1.1"/>
<line x1="300.10" y1="207.20" x2="350.00" y2="207.20" stroke="#231f20" stroke-width="1.1"/>
<line x1="297.20" y1="207.20" x2="300.60" y2="207.20" stroke="#231f20" stroke-width="1"/>
<text x="293.80" y="210.10" font-size="8" text-anchor="end" textLength="4.50" lengthAdjust="spacingAndGlyphs" fill="#231f20" stroke="#231f20">0</text>
<line x1="297.20" y1="180.90" x2="300.60" y2="180.90" stroke="#231f20" stroke-width="1"/>
<text x="293.80" y="183.80" font-size="8" text-anchor="end" textLength="9.20" lengthAdjust="spacingAndGlyphs" fill="#231f20" stroke="#231f20">10</text>
<line x1="297.20" y1="154.60" x2="300.60" y2="154.60" stroke="#231f20" stroke-width="1"/>
<text x="293.80" y="157.50" font-size="8" text-anchor="end" textLength="9.20" lengthAdjust="spacingAndGlyphs" fill="#231f20" stroke="#231f20">20</text>
<rect x="302.40" y="147.80" width="8.10" height="59.40" fill="#6aa84a" stroke="none" stroke-width="1"/>
<rect x="314.80" y="150.70" width="8.00" height="56.50" fill="#e08c1e" stroke="none" stroke-width="1"/>
<rect x="326.90" y="146.90" width="8.10" height="60.30" fill="#52235f" stroke="none" stroke-width="1"/>
<rect x="339.20" y="147.20" width="8.20" height="60.00" fill="#a5002c" stroke="none" stroke-width="1"/>
<line x1="306.40" y1="207.20" x2="306.40" y2="210.20" stroke="#231f20" stroke-width="1"/>
<line x1="318.80" y1="207.20" x2="318.80" y2="210.20" stroke="#231f20" stroke-width="1"/>
<line x1="331.00" y1="207.20" x2="331.00" y2="210.20" stroke="#231f20" stroke-width="1"/>
<line x1="343.30" y1="207.20" x2="343.30" y2="210.20" stroke="#231f20" stroke-width="1"/>
<line x1="306.40" y1="140.30" x2="306.40" y2="150.00" stroke="#000" stroke-width="0.9"/>
<line x1="304.60" y1="140.30" x2="308.20" y2="140.30" stroke="#000" stroke-width="0.9"/>
<line x1="318.70" y1="143.10" x2="318.70" y2="153.00" stroke="#000" stroke-width="0.9"/>
<line x1="316.90" y1="143.10" x2="320.50" y2="143.10" stroke="#000" stroke-width="0.9"/>
<line x1="331.00" y1="144.00" x2="331.00" y2="148.50" stroke="#000" stroke-width="0.9"/>
<line x1="329.20" y1="144.00" x2="332.80" y2="144.00" stroke="#000" stroke-width="0.9"/>
<line x1="343.30" y1="143.40" x2="343.30" y2="148.50" stroke="#000" stroke-width="0.9"/>
<line x1="341.50" y1="143.40" x2="345.10" y2="143.40" stroke="#000" stroke-width="0.9"/>
<circle cx="306.40" cy="140.30" r="1.6" fill="#000"/>
<circle cx="306.40" cy="145.50" r="1.6" fill="#000"/>
<circle cx="306.40" cy="150.30" r="1.6" fill="#000"/>
<circle cx="306.40" cy="155.40" r="1.6" fill="#000"/>
<circle cx="318.60" cy="143.10" r="1.6" fill="#000"/>
<circle cx="318.60" cy="147.60" r="1.6" fill="#000"/>
<circle cx="318.60" cy="152.70" r="1.6" fill="#000"/>
<circle cx="318.60" cy="159.00" r="1.6" fill="#000"/>
<circle cx="329.20" cy="142.40" r="1.6" fill="#000"/>
<circle cx="333.00" cy="144.20" r="1.6" fill="#000"/>
<circle cx="329.20" cy="151.20" r="1.6" fill="#000"/>
<circle cx="333.00" cy="148.20" r="1.6" fill="#000"/>
<circle cx="341.40" cy="143.50" r="1.6" fill="#000"/>
<circle cx="345.40" cy="143.50" r="1.6" fill="#000"/>
<circle cx="341.40" cy="151.60" r="1.6" fill="#000"/>
<circle cx="345.40" cy="148.50" r="1.6" fill="#000"/>
<text x="278.80" y="195.40" font-size="9.5" textLength="49.90" lengthAdjust="spacingAndGlyphs" transform="rotate(-90 278.80 195.40)" fill="#231f20" stroke="#231f20">% CD34+ cells</text>
<text x="301.46" y="224.04" font-size="8.2" textLength="12.07" lengthAdjust="spacingAndGlyphs" transform="rotate(-45 301.46 224.04)" fill="#231f20" stroke="#231f20">WT</text>
<text x="300.88" y="237.22" font-size="8.2" textLength="30.29" lengthAdjust="spacingAndGlyphs" transform="rotate(-45 300.88 237.22)" fill="#231f20" stroke="#231f20">ADH5-/-</text>
<text x="310.02" y="240.48" font-size="8.2" textLength="34.62" lengthAdjust="spacingAndGlyphs" transform="rotate(-45 310.02 240.48)" fill="#231f20" stroke="#231f20">ALDH2-/-</text>
<text x="301.01" y="261.89" font-size="8.2" textLength="64.90" lengthAdjust="spacingAndGlyphs" transform="rotate(-45 301.01 261.89)" fill="#231f20" stroke="#231f20">ADH5-/-ALDH2-/-</text>
<text x="366.80" y="110.00" font-size="12" font-weight="bold" fill="#000" stroke="#000">E</text>
<text x="386.40" y="149.50" font-size="8.3" textLength="25.40" lengthAdjust="spacingAndGlyphs" fill="#231f20" stroke="#231f20">Day 18</text>
<rect x="383.40" y="154.50" width="31.00" height="30.80" fill="none" stroke="#231f20" stroke-width="1.15"/>
<line x1="398.90" y1="154.50" x2="398.90" y2="185.30" stroke="#231f20" stroke-width="1.15"/>
<line x1="383.40" y1="170.10" x2="414.40" y2="170.10" stroke="#231f20" stroke-width="1.15"/>
<rect x="398.90" y="170.10" width="15.50" height="15.20" fill="none" stroke="#b01e48" stroke-width="1.45"/>
<line x1="379.00" y1="185.30" x2="379.00" y2="160.00" stroke="#231f20" stroke-width="1.1"/>
<path d="M379.00,155.00 L376.70,160.50 L379.00,160.00 L381.30,160.50 Z" fill="#231f20"/>
<line x1="383.90" y1="189.60" x2="409.10" y2="189.60" stroke="#231f20" stroke-width="1.1"/>
<path d="M414.10,189.60 L408.60,187.30 L409.10,189.60 L408.60,191.90 Z" fill="#231f20"/>
<text x="373.80" y="179.70" font-size="9.6" textLength="18.90" lengthAdjust="spacingAndGlyphs" transform="rotate(-90 373.80 179.70)" fill="#231f20" stroke="#231f20">CD34</text>
<text x="389.90" y="200.50" font-size="9.6" textLength="18.30" lengthAdjust="spacingAndGlyphs" fill="#231f20" stroke="#231f20">CD45</text>
<line x1="463.30" y1="131.40" x2="463.30" y2="207.30" stroke="#231f20" stroke-width="1.1"/>
<line x1="462.80" y1="207.30" x2="512.60" y2="207.30" stroke="#231f20" stroke-width="1.1"/>
<line x1="460.30" y1="207.30" x2="463.30" y2="207.30" stroke="#231f20" stroke-width="1"/>
<text x="457.40" y="210.20" font-size="8" text-anchor="end" textLength="4.50" lengthAdjust="spacingAndGlyphs" fill="#231f20" stroke="#231f20">0</text>
<line x1="460.30" y1="192.55" x2="463.30" y2="192.55" stroke="#231f20" stroke-width="1"/>
<text x="457.40" y="195.45" font-size="8" text-anchor="end" textLength="9.20" lengthAdjust="spacingAndGlyphs" fill="#231f20" stroke="#231f20">20</text>
<line x1="460.30" y1="177.80" x2="463.30" y2="177.80" stroke="#231f20" stroke-width="1"/>
<text x="457.40" y="180.70" font-size="8" text-anchor="end" textLength="9.20" lengthAdjust="spacingAndGlyphs" fill="#231f20" stroke="#231f20">40</text>
<line x1="460.30" y1="163.05" x2="463.30" y2="163.05" stroke="#231f20" stroke-width="1"/>
<text x="457.40" y="165.95" font-size="8" text-anchor="end" textLength="9.20" lengthAdjust="spacingAndGlyphs" fill="#231f20" stroke="#231f20">60</text>
<line x1="460.30" y1="148.30" x2="463.30" y2="148.30" stroke="#231f20" stroke-width="1"/>
<text x="457.40" y="151.20" font-size="8" text-anchor="end" textLength="9.20" lengthAdjust="spacingAndGlyphs" fill="#231f20" stroke="#231f20">80</text>
<line x1="460.30" y1="133.55" x2="463.30" y2="133.55" stroke="#231f20" stroke-width="1"/>
<text x="457.40" y="136.45" font-size="8" text-anchor="end" textLength="13.10" lengthAdjust="spacingAndGlyphs" fill="#231f20" stroke="#231f20">100</text>
<rect x="465.80" y="147.60" width="8.20" height="59.70" fill="#6aa84a" stroke="none" stroke-width="1"/>
<rect x="477.90" y="147.10" width="8.10" height="60.20" fill="#e08c1e" stroke="none" stroke-width="1"/>
<rect x="490.20" y="148.20" width="7.80" height="59.10" fill="#52235f" stroke="none" stroke-width="1"/>
<rect x="502.30" y="174.00" width="8.30" height="33.30" fill="#a5002c" stroke="none" stroke-width="1"/>
<line x1="469.60" y1="207.30" x2="469.60" y2="210.30" stroke="#231f20" stroke-width="1"/>
<line x1="481.80" y1="207.30" x2="481.80" y2="210.30" stroke="#231f20" stroke-width="1"/>
<line x1="494.10" y1="207.30" x2="494.10" y2="210.30" stroke="#231f20" stroke-width="1"/>
<line x1="506.40" y1="207.30" x2="506.40" y2="210.30" stroke="#231f20" stroke-width="1"/>
<line x1="469.80" y1="144.50" x2="469.80" y2="149.00" stroke="#000" stroke-width="0.9"/>
<line x1="468.00" y1="144.50" x2="471.60" y2="144.50" stroke="#000" stroke-width="0.9"/>
<line x1="481.90" y1="145.00" x2="481.90" y2="149.00" stroke="#000" stroke-width="0.9"/>
<line x1="480.10" y1="145.00" x2="483.70" y2="145.00" stroke="#000" stroke-width="0.9"/>
<line x1="494.10" y1="146.00" x2="494.10" y2="149.50" stroke="#000" stroke-width="0.9"/>
<line x1="492.30" y1="146.00" x2="495.90" y2="146.00" stroke="#000" stroke-width="0.9"/>
<line x1="506.40" y1="164.30" x2="506.40" y2="176.00" stroke="#000" stroke-width="0.9"/>
<line x1="504.60" y1="164.30" x2="508.20" y2="164.30" stroke="#000" stroke-width="0.9"/>
<circle cx="469.60" cy="144.50" r="1.6" fill="#000"/>
<circle cx="467.60" cy="148.30" r="1.6" fill="#000"/>
<circle cx="471.40" cy="148.30" r="1.6" fill="#000"/>
<circle cx="469.60" cy="147.50" r="1.6" fill="#000"/>
<circle cx="479.80" cy="148.00" r="1.6" fill="#000"/>
<circle cx="482.00" cy="147.00" r="1.6" fill="#000"/>
<circle cx="484.00" cy="146.00" r="1.6" fill="#000"/>
<circle cx="482.50" cy="148.50" r="1.6" fill="#000"/>
<circle cx="491.80" cy="148.00" r="1.6" fill="#000"/>
<circle cx="494.50" cy="147.50" r="1.6" fill="#000"/>
<circle cx="496.50" cy="148.40" r="1.6" fill="#000"/>
<circle cx="493.80" cy="150.50" r="1.6" fill="#000"/>
<circle cx="506.40" cy="160.10" r="1.6" fill="#000"/>
<circle cx="503.60" cy="175.40" r="1.6" fill="#000"/>
<circle cx="508.70" cy="175.40" r="1.6" fill="#000"/>
<circle cx="506.40" cy="183.50" r="1.6" fill="#000"/>
<text x="437.20" y="193.80" font-size="9.5" textLength="49.50" lengthAdjust="spacingAndGlyphs" transform="rotate(-90 437.20 193.80)" fill="#231f20" stroke="#231f20">% CD45+ cells</text>
<line x1="471.00" y1="133.50" x2="498.70" y2="133.50" stroke="#231f20" stroke-width="1.0"/>
<text x="479.00" y="131.00" font-size="7" textLength="11.50" lengthAdjust="spacingAndGlyphs" fill="#231f20" stroke="#231f20">n.s.</text>
<path d="M480.2,125.6 L480.2,123.2 L505.4,123.2 L505.4,125.6" fill="none" stroke="#231f20" stroke-width="0.9"/>
<text x="474.80" y="120.20" font-size="7.6" textLength="35.70" lengthAdjust="spacingAndGlyphs" fill="#231f20" stroke="#231f20">P &lt; 0.0001</text>
<text x="464.72" y="224.08" font-size="8.2" textLength="11.99" lengthAdjust="spacingAndGlyphs" transform="rotate(-45 464.72 224.08)" fill="#231f20" stroke="#231f20">WT</text>
<text x="464.12" y="237.18" font-size="8.2" textLength="30.09" lengthAdjust="spacingAndGlyphs" transform="rotate(-45 464.12 237.18)" fill="#231f20" stroke="#231f20">ADH5-/-</text>
<text x="473.38" y="240.42" font-size="8.2" textLength="34.40" lengthAdjust="spacingAndGlyphs" transform="rotate(-45 473.38 240.42)" fill="#231f20" stroke="#231f20">ALDH2-/-</text>
<text x="464.40" y="261.90" font-size="8.2" textLength="64.49" lengthAdjust="spacingAndGlyphs" transform="rotate(-45 464.40 261.90)" fill="#231f20" stroke="#231f20">ADH5-/-ALDH2-/-</text>
<text x="7.50" y="290.20" font-size="12" font-weight="bold" fill="#000" stroke="#000">D</text>
<text x="59.50" y="300.30" font-size="8.3" textLength="24.70" lengthAdjust="spacingAndGlyphs" fill="#231f20" stroke="#231f20">Day 10</text>
<rect x="56.30" y="305.30" width="30.80" height="30.10" fill="none" stroke="#231f20" stroke-width="1.15"/>
<line x1="71.60" y1="305.30" x2="71.60" y2="335.40" stroke="#231f20" stroke-width="1.15"/>
<line x1="56.30" y1="320.10" x2="87.10" y2="320.10" stroke="#231f20" stroke-width="1.15"/>
<rect x="56.30" y="305.30" width="15.30" height="14.80" fill="none" stroke="#b01e48" stroke-width="1.45"/>
<line x1="51.70" y1="335.40" x2="51.70" y2="310.80" stroke="#231f20" stroke-width="1.1"/>
<path d="M51.70,305.80 L49.40,311.30 L51.70,310.80 L54.00,311.30 Z" fill="#231f20"/>
<line x1="56.80" y1="340.00" x2="81.80" y2="340.00" stroke="#231f20" stroke-width="1.1"/>
<path d="M86.80,340.00 L81.30,337.70 L81.80,340.00 L81.30,342.30 Z" fill="#231f20"/>
<text x="46.40" y="329.80" font-size="9.6" textLength="18.90" lengthAdjust="spacingAndGlyphs" transform="rotate(-90 46.40 329.80)" fill="#231f20" stroke="#231f20">CD34</text>
<text x="62.90" y="351.20" font-size="9.6" textLength="18.30" lengthAdjust="spacingAndGlyphs" fill="#231f20" stroke="#231f20">CD45</text>
<text x="165.40" y="300.30" font-size="8.3" textLength="25.00" lengthAdjust="spacingAndGlyphs" fill="#231f20" stroke="#231f20">Day 10</text>
<rect x="162.30" y="305.30" width="30.90" height="30.20" fill="none" stroke="#231f20" stroke-width="1.15"/>
<line x1="177.70" y1="305.30" x2="177.70" y2="335.50" stroke="#231f20" stroke-width="1.15"/>
<line x1="162.30" y1="320.20" x2="193.20" y2="320.20" stroke="#231f20" stroke-width="1.15"/>
<rect x="177.70" y="305.30" width="15.50" height="14.90" fill="none" stroke="#b01e48" stroke-width="1.45"/>
<line x1="157.70" y1="335.50" x2="157.70" y2="310.80" stroke="#231f20" stroke-width="1.1"/>
<path d="M157.70,305.80 L155.40,311.30 L157.70,310.80 L160.00,311.30 Z" fill="#231f20"/>
<line x1="162.80" y1="340.00" x2="187.90" y2="340.00" stroke="#231f20" stroke-width="1.1"/>
<path d="M192.90,340.00 L187.40,337.70 L187.90,340.00 L187.40,342.30 Z" fill="#231f20"/>
<text x="152.40" y="329.90" font-size="9.6" textLength="18.90" lengthAdjust="spacingAndGlyphs" transform="rotate(-90 152.40 329.90)" fill="#231f20" stroke="#231f20">CD34</text>
<text x="168.70" y="351.20" font-size="9.6" textLength="18.20" lengthAdjust="spacingAndGlyphs" fill="#231f20" stroke="#231f20">CD45</text>
<text x="266.70" y="300.30" font-size="8.3" textLength="25.40" lengthAdjust="spacingAndGlyphs" fill="#231f20" stroke="#231f20">Day 10</text>
<rect x="263.80" y="305.30" width="30.80" height="30.20" fill="none" stroke="#231f20" stroke-width="1.15"/>
<line x1="279.20" y1="305.30" x2="279.20" y2="335.50" stroke="#231f20" stroke-width="1.15"/>
<line x1="263.80" y1="320.40" x2="294.60" y2="320.40" stroke="#231f20" stroke-width="1.15"/>
<rect x="279.20" y="320.40" width="15.40" height="15.10" fill="none" stroke="#b01e48" stroke-width="1.45"/>
<line x1="259.40" y1="335.50" x2="259.40" y2="310.80" stroke="#231f20" stroke-width="1.1"/>
<path d="M259.40,305.80 L257.10,311.30 L259.40,310.80 L261.70,311.30 Z" fill="#231f20"/>
<line x1="264.30" y1="340.00" x2="289.30" y2="340.00" stroke="#231f20" stroke-width="1.1"/>
<path d="M294.30,340.00 L288.80,337.70 L289.30,340.00 L288.80,342.30 Z" fill="#231f20"/>
<text x="254.30" y="329.90" font-size="9.6" textLength="18.90" lengthAdjust="spacingAndGlyphs" transform="rotate(-90 254.30 329.90)" fill="#231f20" stroke="#231f20">CD34</text>
<text x="270.40" y="351.20" font-size="9.6" textLength="18.40" lengthAdjust="spacingAndGlyphs" fill="#231f20" stroke="#231f20">CD45</text>
<line x1="45.40" y1="377.87" x2="45.40" y2="453.60" stroke="#231f20" stroke-width="1.1"/>
<line x1="42.30" y1="453.60" x2="93.60" y2="453.60" stroke="#231f20" stroke-width="1.1"/>
<line x1="42.30" y1="453.60" x2="45.40" y2="453.60" stroke="#231f20" stroke-width="1"/>
<text x="38.80" y="456.50" font-size="8" text-anchor="end" textLength="4.30" lengthAdjust="spacingAndGlyphs" fill="#231f20" stroke="#231f20">0</text>
<line x1="42.30" y1="416.54" x2="45.40" y2="416.54" stroke="#231f20" stroke-width="1"/>
<text x="38.80" y="419.44" font-size="8" text-anchor="end" textLength="9.00" lengthAdjust="spacingAndGlyphs" fill="#231f20" stroke="#231f20">20</text>
<line x1="42.30" y1="379.48" x2="45.40" y2="379.48" stroke="#231f20" stroke-width="1"/>
<text x="38.80" y="382.38" font-size="8" text-anchor="end" textLength="9.00" lengthAdjust="spacingAndGlyphs" fill="#231f20" stroke="#231f20">40</text>
<line x1="42.30" y1="435.07" x2="45.40" y2="435.07" stroke="#231f20" stroke-width="1"/>
<line x1="42.30" y1="398.01" x2="45.40" y2="398.01" stroke="#231f20" stroke-width="1"/>
<rect x="47.40" y="442.90" width="7.90" height="10.70" fill="#6aa84a" stroke="none" stroke-width="1"/>
<rect x="59.70" y="438.10" width="7.90" height="15.50" fill="#e08c1e" stroke="none" stroke-width="1"/>
<rect x="71.80" y="439.00" width="8.10" height="14.60" fill="#52235f" stroke="none" stroke-width="1"/>
<rect x="84.30" y="409.60" width="7.80" height="44.00" fill="#a5002c" stroke="none" stroke-width="1"/>
<line x1="51.40" y1="453.60" x2="51.40" y2="456.60" stroke="#231f20" stroke-width="1"/>
<line x1="63.60" y1="453.60" x2="63.60" y2="456.60" stroke="#231f20" stroke-width="1"/>
<line x1="75.80" y1="453.60" x2="75.80" y2="456.60" stroke="#231f20" stroke-width="1"/>
<line x1="88.20" y1="453.60" x2="88.20" y2="456.60" stroke="#231f20" stroke-width="1"/>
<line x1="51.40" y1="437.10" x2="51.40" y2="442.90" stroke="#000" stroke-width="0.9"/>
<line x1="49.60" y1="437.10" x2="53.20" y2="437.10" stroke="#000" stroke-width="0.9"/>
<line x1="63.60" y1="432.30" x2="63.60" y2="438.10" stroke="#000" stroke-width="0.9"/>
<line x1="61.80" y1="432.30" x2="65.40" y2="432.30" stroke="#000" stroke-width="0.9"/>
<line x1="75.80" y1="437.50" x2="75.80" y2="439.00" stroke="#000" stroke-width="0.9"/>
<line x1="74.00" y1="437.50" x2="77.60" y2="437.50" stroke="#000" stroke-width="0.9"/>
<line x1="88.20" y1="395.30" x2="88.20" y2="409.60" stroke="#000" stroke-width="0.9"/>
<line x1="86.40" y1="395.30" x2="90.00" y2="395.30" stroke="#000" stroke-width="0.9"/>
<circle cx="51.40" cy="436.70" r="1.6" fill="#000"/>
<circle cx="49.60" cy="442.00" r="1.6" fill="#000"/>
<circle cx="53.20" cy="442.00" r="1.6" fill="#000"/>
<circle cx="51.40" cy="443.60" r="1.6" fill="#000"/>
<circle cx="63.60" cy="429.40" r="1.6" fill="#000"/>
<circle cx="62.00" cy="438.30" r="1.6" fill="#000"/>
<circle cx="65.30" cy="438.50" r="1.6" fill="#000"/>
<circle cx="63.60" cy="443.30" r="1.6" fill="#000"/>
<circle cx="74.00" cy="438.50" r="1.6" fill="#000"/>
<circle cx="77.50" cy="438.50" r="1.6" fill="#000"/>
<circle cx="75.80" cy="437.40" r="1.6" fill="#000"/>
<circle cx="75.80" cy="440.50" r="1.6" fill="#000"/>
<circle cx="88.20" cy="395.70" r="1.6" fill="#000"/>
<circle cx="88.20" cy="399.50" r="1.6" fill="#000"/>
<circle cx="88.20" cy="415.90" r="1.6" fill="#000"/>
<circle cx="88.20" cy="426.50" r="1.6" fill="#000"/>
<text x="22.80" y="440.30" font-size="9.5" textLength="49.50" lengthAdjust="spacingAndGlyphs" transform="rotate(-90 22.80 440.30)" fill="#231f20" stroke="#231f20">% CD34+ cells</text>
<line x1="53.10" y1="380.50" x2="80.90" y2="380.50" stroke="#231f20" stroke-width="1.0"/>
<text x="60.80" y="377.60" font-size="7" textLength="11.00" lengthAdjust="spacingAndGlyphs" fill="#231f20" stroke="#231f20">n.s.</text>
<path d="M63.1,371.9 L63.1,369.5 L88.2,369.5 L88.2,371.9" fill="none" stroke="#231f20" stroke-width="0.9"/>
<text x="57.40" y="365.80" font-size="7.6" textLength="36.60" lengthAdjust="spacingAndGlyphs" fill="#231f20" stroke="#231f20">P = 0.0002</text>
<text x="46.52" y="470.68" font-size="8.2" textLength="11.99" lengthAdjust="spacingAndGlyphs" transform="rotate(-45 46.52 470.68)" fill="#231f20" stroke="#231f20">WT</text>
<text x="45.92" y="483.48" font-size="8.2" textLength="30.09" lengthAdjust="spacingAndGlyphs" transform="rotate(-45 45.92 483.48)" fill="#231f20" stroke="#231f20">ADH5-/-</text>
<text x="55.08" y="486.52" font-size="8.2" textLength="34.40" lengthAdjust="spacingAndGlyphs" transform="rotate(-45 55.08 486.52)" fill="#231f20" stroke="#231f20">ALDH2-/-</text>
<text x="46.20" y="507.80" font-size="8.2" textLength="64.49" lengthAdjust="spacingAndGlyphs" transform="rotate(-45 46.20 507.80)" fill="#231f20" stroke="#231f20">ADH5-/-ALDH2-/-</text>
<line x1="148.20" y1="377.87" x2="148.20" y2="453.60" stroke="#231f20" stroke-width="1.1"/>
<line x1="145.10" y1="453.60" x2="197.70" y2="453.60" stroke="#231f20" stroke-width="1.1"/>
<line x1="145.10" y1="453.60" x2="148.20" y2="453.60" stroke="#231f20" stroke-width="1"/>
<text x="141.80" y="456.50" font-size="8" text-anchor="end" textLength="4.30" lengthAdjust="spacingAndGlyphs" fill="#231f20" stroke="#231f20">0</text>
<line x1="145.10" y1="416.54" x2="148.20" y2="416.54" stroke="#231f20" stroke-width="1"/>
<text x="141.80" y="419.44" font-size="8" text-anchor="end" textLength="9.00" lengthAdjust="spacingAndGlyphs" fill="#231f20" stroke="#231f20">20</text>
<line x1="145.10" y1="379.48" x2="148.20" y2="379.48" stroke="#231f20" stroke-width="1"/>
<text x="141.80" y="382.38" font-size="8" text-anchor="end" textLength="9.00" lengthAdjust="spacingAndGlyphs" fill="#231f20" stroke="#231f20">40</text>
<line x1="145.10" y1="435.07" x2="148.20" y2="435.07" stroke="#231f20" stroke-width="1"/>
<line x1="145.10" y1="398.01" x2="148.20" y2="398.01" stroke="#231f20" stroke-width="1"/>
<rect x="149.90" y="391.70" width="8.00" height="61.90" fill="#6aa84a" stroke="none" stroke-width="1"/>
<rect x="162.50" y="396.90" width="7.90" height="56.70" fill="#e08c1e" stroke="none" stroke-width="1"/>
<rect x="175.30" y="400.80" width="7.70" height="52.80" fill="#52235f" stroke="none" stroke-width="1"/>
<rect x="187.20" y="439.40" width="8.10" height="14.20" fill="#a5002c" stroke="none" stroke-width="1"/>
<line x1="153.90" y1="453.60" x2="153.90" y2="456.60" stroke="#231f20" stroke-width="1"/>
<line x1="166.50" y1="453.60" x2="166.50" y2="456.60" stroke="#231f20" stroke-width="1"/>
<line x1="179.00" y1="453.60" x2="179.00" y2="456.60" stroke="#231f20" stroke-width="1"/>
<line x1="191.50" y1="453.60" x2="191.50" y2="456.60" stroke="#231f20" stroke-width="1"/>
<line x1="154.00" y1="385.90" x2="154.00" y2="391.70" stroke="#000" stroke-width="0.9"/>
<line x1="152.20" y1="385.90" x2="155.80" y2="385.90" stroke="#000" stroke-width="0.9"/>
<line x1="166.50" y1="394.50" x2="166.50" y2="396.90" stroke="#000" stroke-width="0.9"/>
<line x1="164.70" y1="394.50" x2="168.30" y2="394.50" stroke="#000" stroke-width="0.9"/>
<line x1="179.00" y1="395.50" x2="179.00" y2="400.80" stroke="#000" stroke-width="0.9"/>
<line x1="177.20" y1="395.50" x2="180.80" y2="395.50" stroke="#000" stroke-width="0.9"/>
<line x1="191.50" y1="428.40" x2="191.50" y2="439.40" stroke="#000" stroke-width="0.9"/>
<line x1="189.70" y1="428.40" x2="193.30" y2="428.40" stroke="#000" stroke-width="0.9"/>
<circle cx="154.80" cy="386.30" r="1.6" fill="#000"/>
<circle cx="156.30" cy="389.40" r="1.6" fill="#000"/>
<circle cx="152.90" cy="390.70" r="1.6" fill="#000"/>
<circle cx="154.40" cy="401.30" r="1.6" fill="#000"/>
<circle cx="165.00" cy="395.50" r="1.6" fill="#000"/>
<circle cx="167.90" cy="397.50" r="1.6" fill="#000"/>
<circle cx="166.00" cy="398.40" r="1.6" fill="#000"/>
<circle cx="164.00" cy="396.50" r="1.6" fill="#000"/>
<circle cx="178.50" cy="395.90" r="1.6" fill="#000"/>
<circle cx="181.40" cy="401.70" r="1.6" fill="#000"/>
<circle cx="177.60" cy="404.80" r="1.6" fill="#000"/>
<circle cx="180.50" cy="407.10" r="1.6" fill="#000"/>
<circle cx="191.50" cy="428.40" r="1.6" fill="#000"/>
<circle cx="191.50" cy="433.20" r="1.6" fill="#000"/>
<circle cx="189.20" cy="445.70" r="1.6" fill="#000"/>
<circle cx="193.40" cy="444.20" r="1.6" fill="#000"/>
<text x="127.40" y="454.20" font-size="9.5" textLength="77.60" lengthAdjust="spacingAndGlyphs" transform="rotate(-90 127.40 454.20)" fill="#231f20" stroke="#231f20">% CD34+ CD45+ cells</text>
<line x1="155.40" y1="380.50" x2="183.40" y2="380.50" stroke="#231f20" stroke-width="1.0"/>
<text x="163.70" y="377.60" font-size="7" textLength="11.90" lengthAdjust="spacingAndGlyphs" fill="#231f20" stroke="#231f20">n.s.</text>
<path d="M166.0,371.9 L166.0,369.5 L191.5,369.5 L191.5,371.9" fill="none" stroke="#231f20" stroke-width="0.9"/>
<text x="160.60" y="366.60" font-size="7.6" textLength="34.70" lengthAdjust="spacingAndGlyphs" fill="#231f20" stroke="#231f20">P &lt; 0.0001</text>
<text x="149.00" y="470.70" font-size="8.2" textLength="12.02" lengthAdjust="spacingAndGlyphs" transform="rotate(-45 149.00 470.70)" fill="#231f20" stroke="#231f20">WT</text>
<text x="148.78" y="483.52" font-size="8.2" textLength="30.16" lengthAdjust="spacingAndGlyphs" transform="rotate(-45 148.78 483.52)" fill="#231f20" stroke="#231f20">ADH5-/-</text>
<text x="158.23" y="486.57" font-size="8.2" textLength="34.47" lengthAdjust="spacingAndGlyphs" transform="rotate(-45 158.23 486.57)" fill="#231f20" stroke="#231f20">ALDH2-/-</text>
<text x="149.40" y="507.90" font-size="8.2" textLength="64.62" lengthAdjust="spacingAndGlyphs" transform="rotate(-45 149.40 507.90)" fill="#231f20" stroke="#231f20">ADH5-/-ALDH2-/-</text>
<line x1="250.50" y1="377.80" x2="250.50" y2="453.50" stroke="#231f20" stroke-width="1.1"/>
<line x1="247.40" y1="453.50" x2="300.80" y2="453.50" stroke="#231f20" stroke-width="1.1"/>
<line x1="247.40" y1="453.50" x2="250.50" y2="453.50" stroke="#231f20" stroke-width="1"/>
<text x="245.20" y="456.40" font-size="8" text-anchor="end" textLength="4.30" lengthAdjust="spacingAndGlyphs" fill="#231f20" stroke="#231f20">0</text>
<line x1="247.40" y1="423.60" x2="250.50" y2="423.60" stroke="#231f20" stroke-width="1"/>
<text x="245.20" y="426.50" font-size="8" text-anchor="end" textLength="9.00" lengthAdjust="spacingAndGlyphs" fill="#231f20" stroke="#231f20">20</text>
<line x1="247.40" y1="393.70" x2="250.50" y2="393.70" stroke="#231f20" stroke-width="1"/>
<text x="245.20" y="396.60" font-size="8" text-anchor="end" textLength="9.00" lengthAdjust="spacingAndGlyphs" fill="#231f20" stroke="#231f20">40</text>
<line x1="247.40" y1="438.55" x2="250.50" y2="438.55" stroke="#231f20" stroke-width="1"/>
<line x1="247.40" y1="408.65" x2="250.50" y2="408.65" stroke="#231f20" stroke-width="1"/>
<line x1="247.40" y1="378.75" x2="250.50" y2="378.75" stroke="#231f20" stroke-width="1"/>
<rect x="253.20" y="394.20" width="7.70" height="59.30" fill="#6aa84a" stroke="none" stroke-width="1"/>
<rect x="265.40" y="394.20" width="8.10" height="59.30" fill="#e08c1e" stroke="none" stroke-width="1"/>
<rect x="277.90" y="396.10" width="7.70" height="57.40" fill="#52235f" stroke="none" stroke-width="1"/>
<rect x="289.90" y="439.40" width="8.30" height="14.10" fill="#a5002c" stroke="none" stroke-width="1"/>
<line x1="257.20" y1="453.50" x2="257.20" y2="456.50" stroke="#231f20" stroke-width="1"/>
<line x1="269.60" y1="453.50" x2="269.60" y2="456.50" stroke="#231f20" stroke-width="1"/>
<line x1="281.80" y1="453.50" x2="281.80" y2="456.50" stroke="#231f20" stroke-width="1"/>
<line x1="294.10" y1="453.50" x2="294.10" y2="456.50" stroke="#231f20" stroke-width="1"/>
<line x1="257.20" y1="387.40" x2="257.20" y2="394.20" stroke="#000" stroke-width="0.9"/>
<line x1="255.40" y1="387.40" x2="259.00" y2="387.40" stroke="#000" stroke-width="0.9"/>
<line x1="269.60" y1="387.80" x2="269.60" y2="394.20" stroke="#000" stroke-width="0.9"/>
<line x1="267.80" y1="387.80" x2="271.40" y2="387.80" stroke="#000" stroke-width="0.9"/>
<line x1="281.80" y1="391.30" x2="281.80" y2="396.10" stroke="#000" stroke-width="0.9"/>
<line x1="280.00" y1="391.30" x2="283.60" y2="391.30" stroke="#000" stroke-width="0.9"/>
<line x1="294.10" y1="428.40" x2="294.10" y2="439.40" stroke="#000" stroke-width="0.9"/>
<line x1="292.30" y1="428.40" x2="295.90" y2="428.40" stroke="#000" stroke-width="0.9"/>
<circle cx="255.10" cy="388.20" r="1.6" fill="#000"/>
<circle cx="259.60" cy="390.10" r="1.6" fill="#000"/>
<circle cx="258.60" cy="396.50" r="1.6" fill="#000"/>
<circle cx="255.10" cy="400.00" r="1.6" fill="#000"/>
<circle cx="269.80" cy="388.30" r="1.6" fill="#000"/>
<circle cx="271.70" cy="392.60" r="1.6" fill="#000"/>
<circle cx="267.30" cy="391.70" r="1.6" fill="#000"/>
<circle cx="269.80" cy="403.30" r="1.6" fill="#000"/>
<circle cx="281.80" cy="391.80" r="1.6" fill="#000"/>
<circle cx="283.70" cy="395.20" r="1.6" fill="#000"/>
<circle cx="279.80" cy="399.80" r="1.6" fill="#000"/>
<circle cx="281.80" cy="397.50" r="1.6" fill="#000"/>
<circle cx="293.00" cy="428.30" r="1.6" fill="#000"/>
<circle cx="296.30" cy="430.90" r="1.6" fill="#000"/>
<circle cx="292.40" cy="449.60" r="1.6" fill="#000"/>
<circle cx="296.30" cy="448.10" r="1.6" fill="#000"/>
<text x="229.70" y="440.90" font-size="9.5" textLength="51.20" lengthAdjust="spacingAndGlyphs" transform="rotate(-90 229.70 440.90)" fill="#231f20" stroke="#231f20">% CD45+ cells</text>
<line x1="258.60" y1="380.50" x2="286.60" y2="380.50" stroke="#231f20" stroke-width="1.0"/>
<text x="266.30" y="377.60" font-size="7" textLength="11.60" lengthAdjust="spacingAndGlyphs" fill="#231f20" stroke="#231f20">n.s.</text>
<path d="M269.2,371.9 L269.2,369.5 L294.3,369.5 L294.3,371.9" fill="none" stroke="#231f20" stroke-width="0.9"/>
<text x="263.40" y="366.60" font-size="7.6" textLength="35.80" lengthAdjust="spacingAndGlyphs" fill="#231f20" stroke="#231f20">P &lt; 0.0001</text>
<text x="252.33" y="470.57" font-size="8.2" textLength="11.98" lengthAdjust="spacingAndGlyphs" transform="rotate(-45 252.33 470.57)" fill="#231f20" stroke="#231f20">WT</text>
<text x="251.94" y="483.36" font-size="8.2" textLength="30.06" lengthAdjust="spacingAndGlyphs" transform="rotate(-45 251.94 483.36)" fill="#231f20" stroke="#231f20">ADH5-/-</text>
<text x="261.10" y="486.40" font-size="8.2" textLength="34.36" lengthAdjust="spacingAndGlyphs" transform="rotate(-45 261.10 486.40)" fill="#231f20" stroke="#231f20">ALDH2-/-</text>
<text x="252.15" y="507.65" font-size="8.2" textLength="64.42" lengthAdjust="spacingAndGlyphs" transform="rotate(-45 252.15 507.65)" fill="#231f20" stroke="#231f20">ADH5-/-ALDH2-/-</text>
<text x="318.50" y="290.00" font-size="12" font-weight="bold" fill="#000" stroke="#000">F</text>
<line x1="360.90" y1="316.70" x2="360.90" y2="392.20" stroke="#231f20" stroke-width="1.1"/>
<line x1="360.40" y1="392.10" x2="436.00" y2="392.10" stroke="#231f20" stroke-width="1.1"/>
<line x1="357.50" y1="391.60" x2="360.90" y2="391.60" stroke="#231f20" stroke-width="1"/>
<text x="355.60" y="394.50" font-size="8" text-anchor="end" textLength="4.50" lengthAdjust="spacingAndGlyphs" fill="#231f20" stroke="#231f20">0</text>
<line x1="357.50" y1="367.54" x2="360.90" y2="367.54" stroke="#231f20" stroke-width="1"/>
<text x="355.60" y="370.44" font-size="8" text-anchor="end" textLength="4.50" lengthAdjust="spacingAndGlyphs" fill="#231f20" stroke="#231f20">2</text>
<line x1="357.50" y1="343.48" x2="360.90" y2="343.48" stroke="#231f20" stroke-width="1"/>
<text x="355.60" y="346.38" font-size="8" text-anchor="end" textLength="4.50" lengthAdjust="spacingAndGlyphs" fill="#231f20" stroke="#231f20">4</text>
<line x1="357.50" y1="319.42" x2="360.90" y2="319.42" stroke="#231f20" stroke-width="1"/>
<text x="355.60" y="322.32" font-size="8" text-anchor="end" textLength="4.50" lengthAdjust="spacingAndGlyphs" fill="#231f20" stroke="#231f20">6</text>
<line x1="360.90" y1="392.10" x2="360.90" y2="395.30" stroke="#231f20" stroke-width="1"/>
<text x="360.90" y="404.40" font-size="8" text-anchor="middle" textLength="10.30" lengthAdjust="spacingAndGlyphs" fill="#231f20" stroke="#231f20">10</text>
<line x1="398.00" y1="392.10" x2="398.00" y2="395.30" stroke="#231f20" stroke-width="1"/>
<text x="398.00" y="404.40" font-size="8" text-anchor="middle" textLength="10.30" lengthAdjust="spacingAndGlyphs" fill="#231f20" stroke="#231f20">14</text>
<line x1="435.20" y1="392.10" x2="435.20" y2="395.30" stroke="#231f20" stroke-width="1"/>
<text x="435.20" y="404.40" font-size="8" text-anchor="middle" textLength="10.30" lengthAdjust="spacingAndGlyphs" fill="#231f20" stroke="#231f20">18</text>
<text x="392.00" y="417.60" font-size="10" textLength="14.80" lengthAdjust="spacingAndGlyphs" fill="#231f20" stroke="#231f20">Days</text>
<text x="333.20" y="384.90" font-size="9.5" textLength="60.80" lengthAdjust="spacingAndGlyphs" transform="rotate(-90 333.20 384.90)" fill="#231f20" stroke="#231f20">% of floating cells</text>
<text x="345.00" y="389.10" font-size="9.5" textLength="69.80" lengthAdjust="spacingAndGlyphs" transform="rotate(-90 345.00 389.10)" fill="#231f20" stroke="#231f20">with &gt;5 FANCD2 foci</text>
<polyline points="361,386.8 397.9,389.9 434.6,385.9" fill="none" stroke="#6ab04c" stroke-width="1.1"/>
<polyline points="361,385.0 397.9,353.9 434.6,333.8" fill="none" stroke="#e8921e" stroke-width="1.1"/>
<polyline points="361,386.8 397.9,376.7 434.6,359.7" fill="none" stroke="#4d2370" stroke-width="1.1"/>
<line x1="434.60" y1="330.50" x2="434.60" y2="337.00" stroke="#e8921e" stroke-width="0.9"/>
<line x1="433.00" y1="330.50" x2="436.20" y2="330.50" stroke="#e8921e" stroke-width="0.9"/>
<line x1="433.00" y1="337.00" x2="436.20" y2="337.00" stroke="#e8921e" stroke-width="0.9"/>
<line x1="434.60" y1="357.00" x2="434.60" y2="362.50" stroke="#4d2370" stroke-width="0.9"/>
<line x1="433.00" y1="357.00" x2="436.20" y2="357.00" stroke="#4d2370" stroke-width="0.9"/>
<line x1="433.00" y1="362.50" x2="436.20" y2="362.50" stroke="#4d2370" stroke-width="0.9"/>
<line x1="397.90" y1="374.00" x2="397.90" y2="379.30" stroke="#4d2370" stroke-width="0.9"/>
<line x1="396.30" y1="374.00" x2="399.50" y2="374.00" stroke="#4d2370" stroke-width="0.9"/>
<line x1="396.30" y1="379.30" x2="399.50" y2="379.30" stroke="#4d2370" stroke-width="0.9"/>
<rect x="359.30" y="383.30" width="3.40" height="3.40" fill="#e8921e" stroke="none" stroke-width="1"/>
<rect x="396.20" y="352.20" width="3.40" height="3.40" fill="#e8921e" stroke="none" stroke-width="1"/>
<rect x="432.90" y="332.10" width="3.40" height="3.40" fill="#e8921e" stroke="none" stroke-width="1"/>
<path d="M361,384.16 L363.52,388.72 L358.48,388.72 Z" fill="#4d2370"/>
<path d="M397.9,374.06 L400.41999999999996,378.62 L395.38,378.62 Z" fill="#4d2370"/>
<path d="M434.6,357.06 L437.12,361.62 L432.08000000000004,361.62 Z" fill="#4d2370"/>
<circle cx="361.00" cy="386.80" r="2.0" fill="#6ab04c"/>
<circle cx="397.90" cy="389.90" r="2.0" fill="#6ab04c"/>
<circle cx="434.60" cy="385.90" r="2.0" fill="#6ab04c"/>
<circle cx="367.20" cy="316.10" r="2.0" fill="#6ab04c"/>
<rect x="365.50" y="325.60" width="3.40" height="3.40" fill="#e8921e" stroke="none" stroke-width="1"/>
<path d="M367.20,336.50 L367.83,338.03 L369.48,338.16 L368.23,339.23 L368.61,340.84 L367.20,339.98 L365.79,340.84 L366.17,339.23 L364.92,338.16 L366.57,338.03 Z" fill="#4d2370"/>
<text x="372.80" y="318.60" font-size="7.6" textLength="53.00" lengthAdjust="spacingAndGlyphs" fill="#231f20" stroke="#231f20">201B7-iPSC WT</text>
<text x="372.80" y="329.80" font-size="7.6" font-style="italic" textLength="28.50" lengthAdjust="spacingAndGlyphs" fill="#231f20" stroke="#231f20">ADH5-/-</text>
<text x="372.80" y="341.20" font-size="7.6" font-style="italic" textLength="32.50" lengthAdjust="spacingAndGlyphs" fill="#231f20" stroke="#231f20">ALDH2-/-</text>
</svg></div></body></html>
